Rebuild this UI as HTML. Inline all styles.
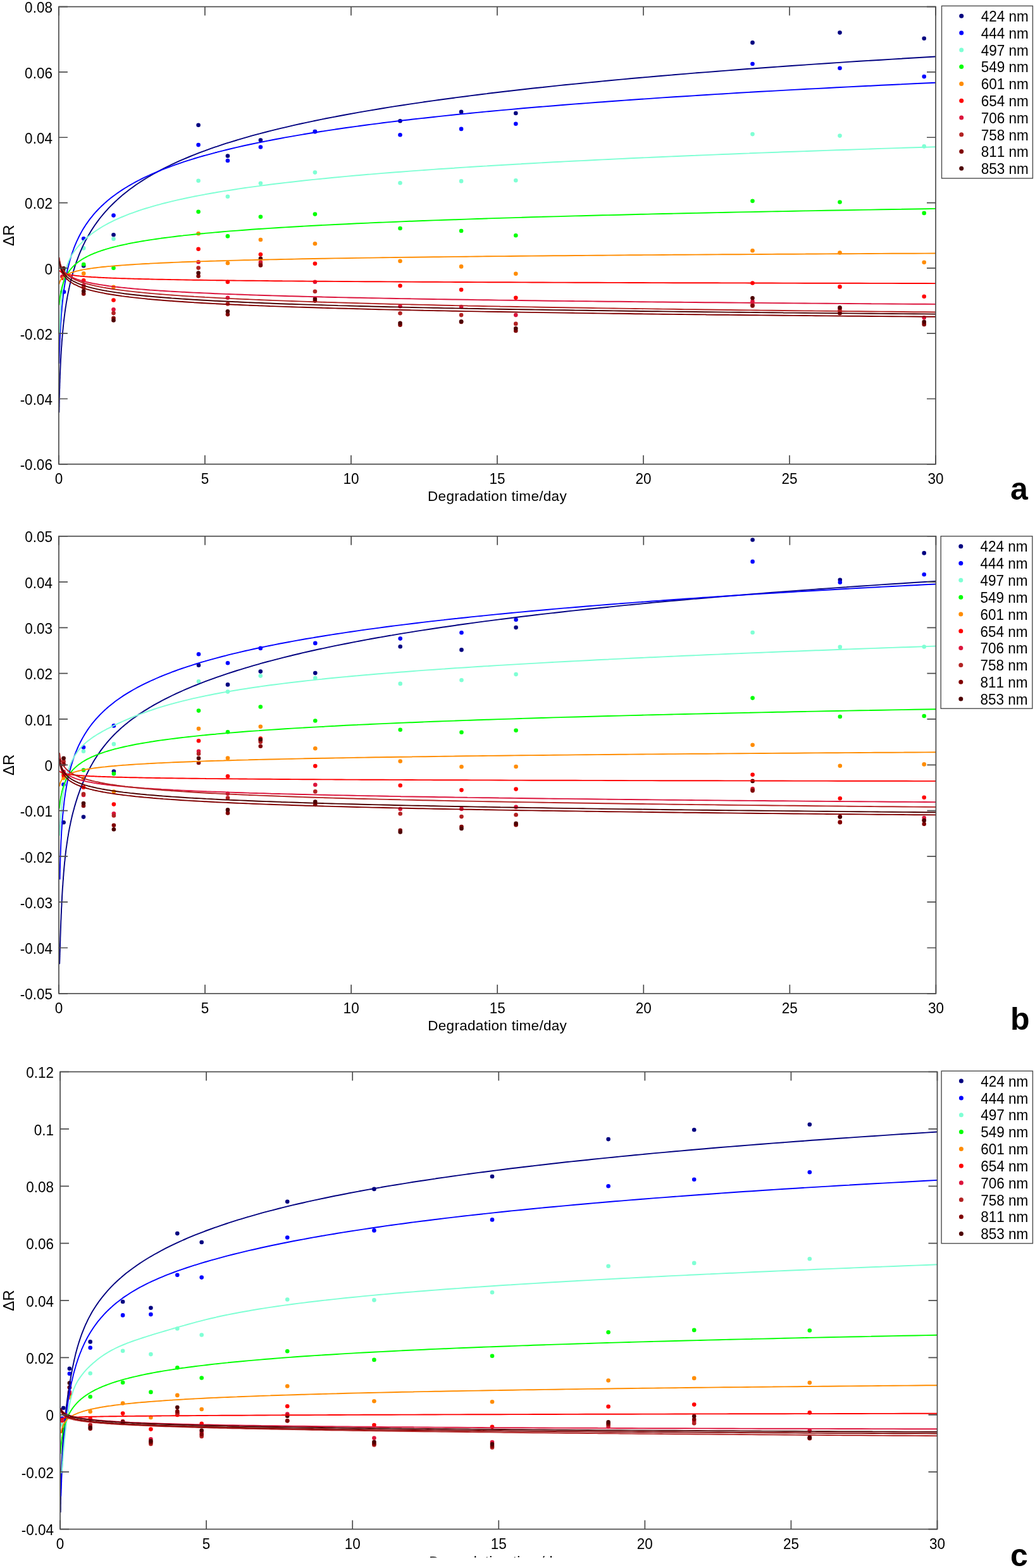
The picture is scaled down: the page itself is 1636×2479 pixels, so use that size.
<!DOCTYPE html><html><head><meta charset="utf-8"><title>Degradation</title><style>html,body{margin:0;padding:0;background:#fff}svg{display:block}text{font-kerning:none}</style></head><body>
<svg width="1636" height="2479" viewBox="0 0 1636 2479">
<rect width="1636" height="2479" fill="#fff"/>
<clipPath id="clipa"><rect x="92.9" y="10.6" width="1386.1" height="723.1999999999999"/></clipPath>
<g>
<circle cx="98.5" cy="461.5" r="3.3" fill="#000080"/>
<circle cx="132.2" cy="420.2" r="3.3" fill="#000080"/>
<circle cx="179.5" cy="371.2" r="3.3" fill="#000080"/>
<circle cx="313.6" cy="197.8" r="3.3" fill="#000080"/>
<circle cx="359.9" cy="246.5" r="3.3" fill="#000080"/>
<circle cx="411.9" cy="221.5" r="3.3" fill="#000080"/>
<circle cx="497.9" cy="208.1" r="3.3" fill="#000080"/>
<circle cx="632.5" cy="191.3" r="3.3" fill="#000080"/>
<circle cx="729.1" cy="176.9" r="3.3" fill="#000080"/>
<circle cx="815.3" cy="179.0" r="3.3" fill="#000080"/>
<circle cx="1189.5" cy="67.4" r="3.3" fill="#000080"/>
<circle cx="1327.5" cy="51.6" r="3.3" fill="#000080"/>
<circle cx="1460.7" cy="60.8" r="3.3" fill="#000080"/>
<circle cx="101.1" cy="461.5" r="3.3" fill="#0000ff"/>
<circle cx="132.2" cy="377.2" r="3.3" fill="#0000ff"/>
<circle cx="179.5" cy="340.6" r="3.3" fill="#0000ff"/>
<circle cx="313.6" cy="229.1" r="3.3" fill="#0000ff"/>
<circle cx="359.9" cy="254.0" r="3.3" fill="#0000ff"/>
<circle cx="411.9" cy="232.5" r="3.3" fill="#0000ff"/>
<circle cx="497.9" cy="208.1" r="3.3" fill="#0000ff"/>
<circle cx="632.5" cy="213.2" r="3.3" fill="#0000ff"/>
<circle cx="729.1" cy="203.9" r="3.3" fill="#0000ff"/>
<circle cx="815.3" cy="195.8" r="3.3" fill="#0000ff"/>
<circle cx="1189.5" cy="101.0" r="3.3" fill="#0000ff"/>
<circle cx="1327.5" cy="107.7" r="3.3" fill="#0000ff"/>
<circle cx="1460.7" cy="121.1" r="3.3" fill="#0000ff"/>
<circle cx="132.2" cy="392.4" r="3.3" fill="#7fffd4"/>
<circle cx="179.5" cy="377.7" r="3.3" fill="#7fffd4"/>
<circle cx="313.6" cy="285.7" r="3.3" fill="#7fffd4"/>
<circle cx="359.9" cy="310.8" r="3.3" fill="#7fffd4"/>
<circle cx="411.9" cy="289.7" r="3.3" fill="#7fffd4"/>
<circle cx="497.9" cy="272.6" r="3.3" fill="#7fffd4"/>
<circle cx="632.5" cy="289.3" r="3.3" fill="#7fffd4"/>
<circle cx="729.1" cy="286.4" r="3.3" fill="#7fffd4"/>
<circle cx="815.3" cy="285.2" r="3.3" fill="#7fffd4"/>
<circle cx="1189.5" cy="212.1" r="3.3" fill="#7fffd4"/>
<circle cx="1327.5" cy="214.6" r="3.3" fill="#7fffd4"/>
<circle cx="1460.7" cy="231.4" r="3.3" fill="#7fffd4"/>
<circle cx="132.2" cy="418.1" r="3.3" fill="#00ff00"/>
<circle cx="179.5" cy="423.8" r="3.3" fill="#00ff00"/>
<circle cx="313.6" cy="334.7" r="3.3" fill="#00ff00"/>
<circle cx="359.9" cy="373.4" r="3.3" fill="#00ff00"/>
<circle cx="411.9" cy="342.8" r="3.3" fill="#00ff00"/>
<circle cx="497.9" cy="338.6" r="3.3" fill="#00ff00"/>
<circle cx="632.5" cy="361.0" r="3.3" fill="#00ff00"/>
<circle cx="729.1" cy="365.0" r="3.3" fill="#00ff00"/>
<circle cx="815.3" cy="372.2" r="3.3" fill="#00ff00"/>
<circle cx="1189.5" cy="317.7" r="3.3" fill="#00ff00"/>
<circle cx="1327.5" cy="319.5" r="3.3" fill="#00ff00"/>
<circle cx="1460.7" cy="336.9" r="3.3" fill="#00ff00"/>
<circle cx="132.2" cy="432.4" r="3.3" fill="#ff8c00"/>
<circle cx="179.5" cy="453.8" r="3.3" fill="#ff8c00"/>
<circle cx="313.6" cy="369.2" r="3.3" fill="#ff8c00"/>
<circle cx="359.9" cy="416.0" r="3.3" fill="#ff8c00"/>
<circle cx="411.9" cy="379.0" r="3.3" fill="#ff8c00"/>
<circle cx="497.9" cy="385.2" r="3.3" fill="#ff8c00"/>
<circle cx="632.5" cy="412.7" r="3.3" fill="#ff8c00"/>
<circle cx="729.1" cy="421.4" r="3.3" fill="#ff8c00"/>
<circle cx="815.3" cy="432.8" r="3.3" fill="#ff8c00"/>
<circle cx="1189.5" cy="396.2" r="3.3" fill="#ff8c00"/>
<circle cx="1327.5" cy="399.5" r="3.3" fill="#ff8c00"/>
<circle cx="1460.7" cy="414.7" r="3.3" fill="#ff8c00"/>
<circle cx="99.8" cy="439.8" r="3.3" fill="#ff0000"/>
<circle cx="132.2" cy="443.3" r="3.3" fill="#ff0000"/>
<circle cx="179.5" cy="474.5" r="3.3" fill="#ff0000"/>
<circle cx="313.6" cy="393.8" r="3.3" fill="#ff0000"/>
<circle cx="359.9" cy="445.8" r="3.3" fill="#ff0000"/>
<circle cx="411.9" cy="402.2" r="3.3" fill="#ff0000"/>
<circle cx="497.9" cy="416.8" r="3.3" fill="#ff0000"/>
<circle cx="632.5" cy="451.8" r="3.3" fill="#ff0000"/>
<circle cx="729.1" cy="458.1" r="3.3" fill="#ff0000"/>
<circle cx="815.3" cy="470.7" r="3.3" fill="#ff0000"/>
<circle cx="1189.5" cy="447.5" r="3.3" fill="#ff0000"/>
<circle cx="1327.5" cy="453.4" r="3.3" fill="#ff0000"/>
<circle cx="1460.7" cy="468.7" r="3.3" fill="#ff0000"/>
<circle cx="98.3" cy="437.2" r="3.3" fill="#dc143c"/>
<circle cx="132.2" cy="451.3" r="3.3" fill="#dc143c"/>
<circle cx="179.5" cy="489.2" r="3.3" fill="#dc143c"/>
<circle cx="313.6" cy="414.3" r="3.3" fill="#dc143c"/>
<circle cx="359.9" cy="470.7" r="3.3" fill="#dc143c"/>
<circle cx="411.9" cy="414.6" r="3.3" fill="#dc143c"/>
<circle cx="497.9" cy="445.8" r="3.3" fill="#dc143c"/>
<circle cx="632.5" cy="484.3" r="3.3" fill="#dc143c"/>
<circle cx="729.1" cy="485.0" r="3.3" fill="#dc143c"/>
<circle cx="815.3" cy="498.1" r="3.3" fill="#dc143c"/>
<circle cx="1189.5" cy="476.6" r="3.3" fill="#dc143c"/>
<circle cx="1327.5" cy="489.0" r="3.3" fill="#dc143c"/>
<circle cx="1460.7" cy="502.3" r="3.3" fill="#dc143c"/>
<circle cx="100.0" cy="430.0" r="3.3" fill="#b22222"/>
<circle cx="132.2" cy="454.7" r="3.3" fill="#b22222"/>
<circle cx="179.5" cy="495.1" r="3.3" fill="#b22222"/>
<circle cx="313.6" cy="423.6" r="3.3" fill="#b22222"/>
<circle cx="359.9" cy="480.5" r="3.3" fill="#b22222"/>
<circle cx="411.9" cy="417.5" r="3.3" fill="#b22222"/>
<circle cx="497.9" cy="460.7" r="3.3" fill="#b22222"/>
<circle cx="632.5" cy="495.2" r="3.3" fill="#b22222"/>
<circle cx="729.1" cy="498.1" r="3.3" fill="#b22222"/>
<circle cx="815.3" cy="511.9" r="3.3" fill="#b22222"/>
<circle cx="1189.5" cy="482.0" r="3.3" fill="#b22222"/>
<circle cx="1327.5" cy="491.7" r="3.3" fill="#b22222"/>
<circle cx="1460.7" cy="511.0" r="3.3" fill="#b22222"/>
<circle cx="100.6" cy="426.5" r="3.3" fill="#800000"/>
<circle cx="132.2" cy="464.4" r="3.3" fill="#800000"/>
<circle cx="179.5" cy="503.1" r="3.3" fill="#800000"/>
<circle cx="313.6" cy="436.5" r="3.3" fill="#800000"/>
<circle cx="359.9" cy="497.1" r="3.3" fill="#800000"/>
<circle cx="411.9" cy="419.5" r="3.3" fill="#800000"/>
<circle cx="497.9" cy="475.6" r="3.3" fill="#800000"/>
<circle cx="632.5" cy="513.8" r="3.3" fill="#800000"/>
<circle cx="729.1" cy="509.0" r="3.3" fill="#800000"/>
<circle cx="815.3" cy="522.9" r="3.3" fill="#800000"/>
<circle cx="1189.5" cy="483.5" r="3.3" fill="#800000"/>
<circle cx="1327.5" cy="495.3" r="3.3" fill="#800000"/>
<circle cx="1460.7" cy="513.0" r="3.3" fill="#800000"/>
<circle cx="100.6" cy="424.3" r="3.3" fill="#4d0000"/>
<circle cx="132.2" cy="460.2" r="3.3" fill="#4d0000"/>
<circle cx="179.5" cy="506.5" r="3.3" fill="#4d0000"/>
<circle cx="313.6" cy="431.5" r="3.3" fill="#4d0000"/>
<circle cx="359.9" cy="492.3" r="3.3" fill="#4d0000"/>
<circle cx="411.9" cy="408.8" r="3.3" fill="#4d0000"/>
<circle cx="497.9" cy="472.6" r="3.3" fill="#4d0000"/>
<circle cx="632.5" cy="510.8" r="3.3" fill="#4d0000"/>
<circle cx="729.1" cy="508.2" r="3.3" fill="#4d0000"/>
<circle cx="815.3" cy="519.2" r="3.3" fill="#4d0000"/>
<circle cx="1189.5" cy="471.3" r="3.3" fill="#4d0000"/>
<circle cx="1327.5" cy="486.4" r="3.3" fill="#4d0000"/>
<circle cx="1460.7" cy="508.8" r="3.3" fill="#4d0000"/>
</g>
<g clip-path="url(#clipa)" fill="none" stroke-width="1.9" stroke-linejoin="round">
<path d="M93.4 652.2 L93.4 650.9 L93.4 649.7 L93.5 648.4 L93.5 647.0 L93.5 645.7 L93.5 644.3 L93.6 642.9 L93.6 641.5 L93.6 640.0 L93.6 638.5 L93.7 637.0 L93.7 635.4 L93.7 633.9 L93.8 632.3 L93.8 630.6 L93.8 629.0 L93.9 627.3 L93.9 625.6 L94.0 623.9 L94.0 622.1 L94.1 620.3 L94.1 618.5 L94.1 616.7 L94.2 614.8 L94.3 613.0 L94.3 611.1 L94.4 609.1 L94.4 607.2 L94.5 605.2 L94.6 603.2 L94.6 601.2 L94.7 599.2 L94.8 597.1 L94.8 595.0 L94.9 592.9 L95.0 590.8 L95.1 588.6 L95.2 586.4 L95.3 584.2 L95.4 582.0 L95.5 579.8 L95.6 577.5 L95.7 575.2 L95.8 572.9 L95.9 570.6 L96.0 568.2 L96.2 565.9 L96.3 563.5 L96.4 561.1 L96.6 558.7 L96.7 556.2 L96.9 553.8 L97.0 551.3 L97.2 548.8 L97.4 546.3 L97.6 543.7 L97.7 541.2 L97.9 538.6 L98.1 536.0 L98.4 533.4 L98.6 530.8 L98.8 528.2 L99.1 525.5 L99.3 522.8 L99.6 520.1 L99.8 517.4 L100.1 514.7 L100.4 512.0 L100.7 509.2 L101.0 506.4 L101.4 503.6 L101.7 500.8 L102.1 498.0 L102.4 495.2 L102.8 492.4 L103.2 489.5 L103.6 486.6 L104.1 483.7 L104.5 480.8 L105.0 477.9 L105.5 475.0 L106.0 472.0 L106.5 469.1 L107.1 466.1 L107.7 463.1 L108.3 460.2 L108.9 457.1 L109.6 454.1 L110.2 451.1 L110.9 448.1 L111.7 445.0 L112.4 442.0 L113.2 438.9 L114.0 435.8 L114.9 432.7 L115.8 429.6 L116.0 428.9 L116.7 426.5 L117.7 423.4 L118.7 420.2 L119.8 417.1 L120.8 413.9 L122.0 410.8 L123.2 407.6 L124.4 404.4 L125.7 401.2 L127.0 398.0 L128.4 394.8 L129.8 391.6 L131.3 388.4 L132.9 385.1 L133.3 384.4 L134.5 381.9 L136.2 378.6 L138.0 375.4 L139.8 372.1 L141.7 368.9 L143.7 365.6 L145.8 362.3 L147.9 359.0 L150.1 355.7 L150.5 355.2 L152.5 352.4 L154.9 349.1 L157.4 345.8 L160.0 342.5 L162.8 339.2 L165.6 335.9 L167.8 333.4 L168.6 332.6 L171.6 329.2 L174.8 325.9 L178.2 322.5 L181.6 319.2 L185.0 316.1 L185.2 315.9 L189.0 312.5 L192.9 309.1 L197.0 305.8 L201.2 302.4 L202.3 301.6 L205.6 299.1 L210.2 295.7 L214.9 292.3 L219.5 289.2 L219.9 289.0 L225.0 285.6 L230.4 282.2 L236.0 278.8 L236.8 278.4 L241.8 275.5 L247.9 272.1 L254.0 268.8 L254.2 268.7 L260.7 265.3 L267.5 262.0 L271.3 260.2 L274.6 258.6 L282.0 255.2 L288.5 252.3 L289.7 251.8 L297.7 248.5 L305.8 245.2 L306.0 245.1 L314.7 241.7 L323.0 238.6 L323.7 238.3 L333.1 234.9 L340.3 232.4 L342.9 231.6 L353.0 228.2 L357.5 226.7 L363.6 224.8 L374.6 221.5 L374.8 221.4 L386.0 218.1 L392.1 216.4 L397.9 214.7 L409.3 211.6 L410.3 211.4 L423.2 208.0 L426.6 207.2 L436.7 204.7 L443.8 202.9 L450.6 201.3 L461.1 198.9 L465.2 197.9 L478.3 195.0 L480.3 194.6 L495.6 191.4 L496.1 191.3 L512.4 187.9 L512.8 187.8 L529.5 184.6 L530.1 184.5 L547.2 181.2 L547.3 181.2 L564.6 178.1 L565.7 177.9 L581.8 175.1 L584.9 174.6 L599.1 172.2 L604.9 171.3 L616.3 169.4 L625.7 167.9 L633.6 166.7 L647.4 164.6 L650.8 164.1 L668.1 161.6 L669.9 161.3 L685.4 159.1 L693.4 158.0 L702.6 156.7 L717.8 154.7 L719.9 154.4 L737.1 152.2 L743.2 151.4 L754.4 150.0 L769.6 148.1 L771.6 147.8 L788.9 145.8 L797.1 144.8 L806.1 143.7 L823.4 141.8 L825.7 141.5 L840.6 139.8 L855.5 138.2 L857.9 138.0 L875.1 136.1 L886.5 134.9 L892.4 134.3 L909.6 132.6 L918.7 131.7 L926.9 130.9 L944.2 129.2 L952.3 128.4 L961.4 127.5 L978.7 125.9 L987.2 125.1 L995.9 124.3 L1013.2 122.8 L1023.6 121.9 L1030.4 121.3 L1047.7 119.8 L1061.4 118.6 L1064.9 118.3 L1082.2 116.9 L1099.4 115.4 L1100.7 115.3 L1116.7 114.1 L1133.9 112.7 L1141.7 112.1 L1151.2 111.4 L1168.4 110.0 L1184.3 108.8 L1185.7 108.7 L1202.9 107.5 L1220.2 106.2 L1228.7 105.6 L1237.5 105.0 L1254.7 103.8 L1272.0 102.6 L1274.8 102.4 L1289.2 101.4 L1306.5 100.2 L1322.9 99.1 L1323.7 99.1 L1341.0 97.9 L1358.2 96.8 L1372.9 95.9 L1375.5 95.7 L1392.7 94.7 L1410.0 93.6 L1424.9 92.7 L1427.2 92.5 L1444.5 91.5 L1461.7 90.5 L1479.0 89.5" stroke="#000080"/>
<path d="M93.4 574.7 L93.4 574.0 L93.4 573.2 L93.5 572.5 L93.5 571.7 L93.5 570.8 L93.5 570.0 L93.6 569.0 L93.6 568.1 L93.6 567.1 L93.6 566.1 L93.7 565.1 L93.7 564.0 L93.7 562.9 L93.8 561.8 L93.8 560.6 L93.8 559.4 L93.9 558.2 L93.9 556.9 L94.0 555.6 L94.0 554.3 L94.1 553.0 L94.1 551.6 L94.1 550.2 L94.2 548.8 L94.3 547.3 L94.3 545.8 L94.4 544.3 L94.4 542.7 L94.5 541.2 L94.6 539.6 L94.6 538.0 L94.7 536.3 L94.8 534.7 L94.8 533.0 L94.9 531.2 L95.0 529.5 L95.1 527.7 L95.2 525.9 L95.3 524.1 L95.4 522.3 L95.5 520.4 L95.6 518.6 L95.7 516.7 L95.8 514.8 L95.9 512.8 L96.0 510.9 L96.2 508.9 L96.3 506.9 L96.4 504.9 L96.6 502.8 L96.7 500.8 L96.9 498.7 L97.0 496.6 L97.2 494.5 L97.4 492.4 L97.6 490.2 L97.7 488.1 L97.9 485.9 L98.1 483.7 L98.4 481.5 L98.6 479.3 L98.8 477.1 L99.1 474.8 L99.3 472.6 L99.6 470.3 L99.8 468.0 L100.1 465.7 L100.4 463.4 L100.7 461.1 L101.0 458.7 L101.4 456.4 L101.7 454.0 L102.1 451.7 L102.4 449.3 L102.8 446.9 L103.2 444.5 L103.6 442.1 L104.1 439.7 L104.5 437.3 L105.0 434.9 L105.5 432.4 L106.0 430.0 L106.5 427.5 L107.1 425.1 L107.7 422.6 L108.3 420.2 L108.9 417.7 L109.6 415.2 L110.2 412.7 L110.9 410.3 L111.7 407.8 L112.4 405.3 L113.2 402.8 L114.0 400.3 L114.9 397.8 L115.8 395.3 L116.0 394.7 L116.7 392.7 L117.7 390.2 L118.7 387.7 L119.8 385.2 L120.8 382.7 L122.0 380.1 L123.2 377.6 L124.4 375.0 L125.7 372.5 L127.0 370.0 L128.4 367.4 L129.8 364.9 L131.3 362.3 L132.9 359.7 L133.3 359.2 L134.5 357.2 L136.2 354.6 L138.0 352.1 L139.8 349.5 L141.7 346.9 L143.7 344.3 L145.8 341.8 L147.9 339.2 L150.1 336.6 L150.5 336.2 L152.5 334.0 L154.9 331.5 L157.4 328.9 L160.0 326.3 L162.8 323.7 L165.6 321.1 L167.8 319.2 L168.6 318.5 L171.6 315.9 L174.8 313.3 L178.2 310.7 L181.6 308.2 L185.0 305.7 L185.2 305.6 L189.0 303.0 L192.9 300.4 L197.0 297.8 L201.2 295.2 L202.3 294.5 L205.6 292.6 L210.2 290.0 L214.9 287.4 L219.5 285.0 L219.9 284.8 L225.0 282.2 L230.4 279.6 L236.0 277.0 L236.8 276.6 L241.8 274.4 L247.9 271.8 L254.0 269.3 L254.2 269.2 L260.7 266.6 L267.5 264.0 L271.3 262.6 L274.6 261.4 L282.0 258.8 L288.5 256.6 L289.7 256.2 L297.7 253.6 L305.8 251.1 L306.0 251.0 L314.7 248.4 L323.0 246.0 L323.7 245.8 L333.1 243.3 L340.3 241.3 L342.9 240.7 L353.0 238.1 L357.5 237.0 L363.6 235.5 L374.6 232.9 L374.8 232.9 L386.0 230.3 L392.1 229.0 L397.9 227.8 L409.3 225.4 L410.3 225.2 L423.2 222.6 L426.6 222.0 L436.7 220.0 L443.8 218.7 L450.6 217.4 L461.1 215.6 L465.2 214.9 L478.3 212.6 L480.3 212.3 L495.6 209.8 L496.1 209.7 L512.4 207.2 L512.8 207.1 L529.5 204.6 L530.1 204.5 L547.2 202.0 L547.3 202.0 L564.6 199.6 L565.7 199.5 L581.8 197.3 L584.9 196.9 L599.1 195.1 L604.9 194.3 L616.3 192.9 L625.7 191.8 L633.6 190.8 L647.4 189.2 L650.8 188.8 L668.1 186.9 L669.9 186.7 L685.4 185.0 L693.4 184.1 L702.6 183.1 L717.8 181.5 L719.9 181.3 L737.1 179.6 L743.2 179.0 L754.4 177.9 L769.6 176.4 L771.6 176.2 L788.9 174.6 L797.1 173.9 L806.1 173.1 L823.4 171.5 L825.7 171.3 L840.6 170.0 L855.5 168.8 L857.9 168.6 L875.1 167.2 L886.5 166.2 L892.4 165.8 L909.6 164.4 L918.7 163.7 L926.9 163.1 L944.2 161.8 L952.3 161.2 L961.4 160.5 L978.7 159.2 L987.2 158.6 L995.9 158.0 L1013.2 156.8 L1023.6 156.1 L1030.4 155.6 L1047.7 154.4 L1061.4 153.5 L1064.9 153.3 L1082.2 152.2 L1099.4 151.1 L1100.7 151.0 L1116.7 150.0 L1133.9 148.9 L1141.7 148.5 L1151.2 147.9 L1168.4 146.8 L1184.3 145.9 L1185.7 145.8 L1202.9 144.8 L1220.2 143.9 L1228.7 143.4 L1237.5 142.9 L1254.7 141.9 L1272.0 141.0 L1274.8 140.8 L1289.2 140.1 L1306.5 139.2 L1322.9 138.3 L1323.7 138.3 L1341.0 137.4 L1358.2 136.5 L1372.9 135.8 L1375.5 135.7 L1392.7 134.8 L1410.0 134.0 L1424.9 133.3 L1427.2 133.1 L1444.5 132.3 L1461.7 131.5 L1479.0 130.7" stroke="#0000ff"/>
<path d="M93.4 520.8 L93.4 521.8 L93.4 522.6 L93.5 523.4 L93.5 524.1 L93.5 524.6 L93.5 525.1 L93.6 525.5 L93.6 525.8 L93.6 526.0 L93.6 526.2 L93.7 526.2 L93.7 526.2 L93.7 526.1 L93.8 525.9 L93.8 525.7 L93.8 525.3 L93.9 524.9 L93.9 524.4 L94.0 523.9 L94.0 523.3 L94.1 522.6 L94.1 521.9 L94.1 521.1 L94.2 520.2 L94.3 519.3 L94.3 518.3 L94.4 517.2 L94.4 516.1 L94.5 515.0 L94.6 513.8 L94.6 512.6 L94.7 511.3 L94.8 509.9 L94.8 508.5 L94.9 507.1 L95.0 505.6 L95.1 504.1 L95.2 502.5 L95.3 500.9 L95.4 499.3 L95.5 497.7 L95.6 496.0 L95.7 494.2 L95.8 492.5 L95.9 490.7 L96.0 488.9 L96.2 487.1 L96.3 485.2 L96.4 483.3 L96.6 481.5 L96.7 479.5 L96.9 477.6 L97.0 475.7 L97.2 473.7 L97.4 471.8 L97.6 469.8 L97.7 467.8 L97.9 465.8 L98.1 463.8 L98.4 461.8 L98.6 459.8 L98.8 457.8 L99.1 455.8 L99.3 453.8 L99.6 451.8 L99.8 449.8 L100.1 447.9 L100.4 445.9 L100.7 443.9 L101.0 442.0 L101.4 440.1 L101.7 438.1 L102.1 436.2 L102.4 434.4 L102.8 432.5 L103.2 430.7 L103.6 428.9 L104.1 427.1 L104.5 425.3 L105.0 423.6 L105.5 421.9 L106.0 420.2 L106.5 418.6 L107.1 417.0 L107.7 415.4 L108.3 413.9 L108.9 412.4 L109.6 410.9 L110.2 409.5 L110.9 408.1 L111.7 406.6 L112.4 405.2 L113.2 403.9 L114.0 402.5 L114.9 401.1 L115.8 399.8 L116.0 399.5 L116.7 398.4 L117.7 397.0 L118.7 395.7 L119.8 394.3 L120.8 392.9 L122.0 391.5 L123.2 390.1 L124.4 388.7 L125.7 387.2 L127.0 385.8 L128.4 384.3 L129.8 382.8 L131.3 381.4 L132.9 379.9 L133.3 379.5 L134.5 378.4 L136.2 376.8 L138.0 375.3 L139.8 373.8 L141.7 372.2 L143.7 370.6 L145.8 369.1 L147.9 367.5 L150.1 365.9 L150.5 365.7 L152.5 364.3 L154.9 362.7 L157.4 361.1 L160.0 359.5 L162.8 357.8 L165.6 356.2 L167.8 355.0 L168.6 354.6 L171.6 352.9 L174.8 351.3 L178.2 349.6 L181.6 348.0 L185.0 346.4 L185.2 346.3 L189.0 344.6 L192.9 343.0 L197.0 341.3 L201.2 339.6 L202.3 339.2 L205.6 337.9 L210.2 336.3 L214.9 334.6 L219.5 333.0 L219.9 332.9 L225.0 331.2 L230.4 329.5 L236.0 327.8 L236.8 327.6 L241.8 326.1 L247.9 324.4 L254.0 322.8 L254.2 322.7 L260.7 321.0 L267.5 319.3 L271.3 318.4 L274.6 317.6 L282.0 315.9 L288.5 314.5 L289.7 314.2 L297.7 312.5 L305.8 310.9 L306.0 310.8 L314.7 309.1 L323.0 307.6 L323.7 307.4 L333.1 305.7 L340.3 304.5 L342.9 304.0 L353.0 302.4 L357.5 301.6 L363.6 300.7 L374.6 299.0 L374.8 298.9 L386.0 297.3 L392.1 296.4 L397.9 295.6 L409.3 294.1 L410.3 293.9 L423.2 292.2 L426.6 291.8 L436.7 290.5 L443.8 289.7 L450.6 288.9 L461.1 287.7 L465.2 287.2 L478.3 285.7 L480.3 285.5 L495.6 283.9 L496.1 283.9 L512.4 282.2 L512.8 282.2 L529.5 280.5 L530.1 280.5 L547.2 278.9 L547.3 278.9 L564.6 277.3 L565.7 277.2 L581.8 275.8 L584.9 275.6 L599.1 274.4 L604.9 273.9 L616.3 273.0 L625.7 272.3 L633.6 271.7 L647.4 270.6 L650.8 270.4 L668.1 269.1 L669.9 269.0 L685.4 267.9 L693.4 267.3 L702.6 266.7 L717.8 265.7 L719.9 265.5 L737.1 264.4 L743.2 264.0 L754.4 263.3 L769.6 262.4 L771.6 262.2 L788.9 261.2 L797.1 260.7 L806.1 260.2 L823.4 259.2 L825.7 259.0 L840.6 258.2 L855.5 257.4 L857.9 257.3 L875.1 256.3 L886.5 255.7 L892.4 255.4 L909.6 254.5 L918.7 254.1 L926.9 253.7 L944.2 252.8 L952.3 252.4 L961.4 252.0 L978.7 251.1 L987.2 250.7 L995.9 250.3 L1013.2 249.5 L1023.6 249.1 L1030.4 248.8 L1047.7 248.0 L1061.4 247.4 L1064.9 247.3 L1082.2 246.5 L1099.4 245.8 L1100.7 245.7 L1116.7 245.1 L1133.9 244.4 L1141.7 244.0 L1151.2 243.7 L1168.4 243.0 L1184.3 242.4 L1185.7 242.3 L1202.9 241.6 L1220.2 241.0 L1228.7 240.7 L1237.5 240.3 L1254.7 239.7 L1272.0 239.1 L1274.8 239.0 L1289.2 238.5 L1306.5 237.9 L1322.9 237.3 L1323.7 237.3 L1341.0 236.7 L1358.2 236.1 L1372.9 235.6 L1375.5 235.5 L1392.7 234.9 L1410.0 234.4 L1424.9 233.9 L1427.2 233.8 L1444.5 233.2 L1461.7 232.7 L1479.0 232.2" stroke="#7fffd4"/>
<path d="M93.4 482.3 L93.4 482.1 L93.4 482.0 L93.5 481.9 L93.5 481.7 L93.5 481.5 L93.5 481.3 L93.6 481.1 L93.6 480.9 L93.6 480.7 L93.6 480.4 L93.7 480.2 L93.7 479.9 L93.7 479.6 L93.8 479.3 L93.8 478.9 L93.8 478.6 L93.9 478.3 L93.9 477.9 L94.0 477.5 L94.0 477.1 L94.1 476.7 L94.1 476.3 L94.1 475.9 L94.2 475.4 L94.3 475.0 L94.3 474.5 L94.4 474.0 L94.4 473.5 L94.5 473.0 L94.6 472.5 L94.6 472.0 L94.7 471.4 L94.8 470.9 L94.8 470.3 L94.9 469.8 L95.0 469.2 L95.1 468.6 L95.2 468.0 L95.3 467.4 L95.4 466.8 L95.5 466.1 L95.6 465.5 L95.7 464.8 L95.8 464.2 L95.9 463.5 L96.0 462.8 L96.2 462.1 L96.3 461.5 L96.4 460.7 L96.6 460.0 L96.7 459.3 L96.9 458.6 L97.0 457.8 L97.2 457.1 L97.4 456.4 L97.6 455.6 L97.7 454.8 L97.9 454.1 L98.1 453.3 L98.4 452.5 L98.6 451.7 L98.8 450.9 L99.1 450.1 L99.3 449.3 L99.6 448.5 L99.8 447.6 L100.1 446.8 L100.4 446.0 L100.7 445.1 L101.0 444.3 L101.4 443.4 L101.7 442.6 L102.1 441.7 L102.4 440.9 L102.8 440.0 L103.2 439.1 L103.6 438.3 L104.1 437.4 L104.5 436.5 L105.0 435.6 L105.5 434.7 L106.0 433.8 L106.5 432.9 L107.1 432.0 L107.7 431.1 L108.3 430.2 L108.9 429.3 L109.6 428.4 L110.2 427.5 L110.9 426.6 L111.7 425.7 L112.4 424.8 L113.2 423.8 L114.0 422.9 L114.9 422.0 L115.8 421.1 L116.0 420.9 L116.7 420.2 L117.7 419.2 L118.7 418.3 L119.8 417.4 L120.8 416.5 L122.0 415.5 L123.2 414.6 L124.4 413.7 L125.7 412.8 L127.0 411.9 L128.4 410.9 L129.8 410.0 L131.3 409.1 L132.9 408.2 L133.3 408.0 L134.5 407.3 L136.2 406.4 L138.0 405.5 L139.8 404.5 L141.7 403.6 L143.7 402.7 L145.8 401.8 L147.9 400.9 L150.1 400.0 L150.5 399.9 L152.5 399.1 L154.9 398.2 L157.4 397.3 L160.0 396.4 L162.8 395.5 L165.6 394.6 L167.8 393.9 L168.6 393.7 L171.6 392.8 L174.8 391.9 L178.2 391.0 L181.6 390.1 L185.0 389.3 L185.2 389.2 L189.0 388.3 L192.9 387.5 L197.0 386.6 L201.2 385.7 L202.3 385.4 L205.6 384.8 L210.2 383.9 L214.9 383.0 L219.5 382.2 L219.9 382.1 L225.0 381.2 L230.4 380.4 L236.0 379.5 L236.8 379.4 L241.8 378.6 L247.9 377.7 L254.0 376.9 L254.2 376.8 L260.7 376.0 L267.5 375.1 L271.3 374.6 L274.6 374.2 L282.0 373.3 L288.5 372.6 L289.7 372.4 L297.7 371.6 L305.8 370.7 L306.0 370.7 L314.7 369.8 L323.0 369.0 L323.7 368.9 L333.1 368.1 L340.3 367.4 L342.9 367.2 L353.0 366.3 L357.5 365.9 L363.6 365.4 L374.6 364.6 L374.8 364.6 L386.0 363.7 L392.1 363.3 L397.9 362.8 L409.3 362.0 L410.3 362.0 L423.2 361.1 L426.6 360.9 L436.7 360.2 L443.8 359.8 L450.6 359.4 L461.1 358.7 L465.2 358.5 L478.3 357.7 L480.3 357.6 L495.6 356.8 L496.1 356.8 L512.4 355.9 L512.8 355.9 L529.5 355.0 L530.1 355.0 L547.2 354.2 L547.3 354.2 L564.6 353.3 L565.7 353.3 L581.8 352.6 L584.9 352.4 L599.1 351.8 L604.9 351.6 L616.3 351.1 L625.7 350.7 L633.6 350.4 L647.4 349.8 L650.8 349.7 L668.1 349.0 L669.9 349.0 L685.4 348.4 L693.4 348.1 L702.6 347.8 L717.8 347.2 L719.9 347.2 L737.1 346.6 L743.2 346.4 L754.4 346.0 L769.6 345.5 L771.6 345.4 L788.9 344.9 L797.1 344.6 L806.1 344.4 L823.4 343.9 L825.7 343.8 L840.6 343.3 L855.5 342.9 L857.9 342.8 L875.1 342.4 L886.5 342.1 L892.4 341.9 L909.6 341.4 L918.7 341.2 L926.9 341.0 L944.2 340.5 L952.3 340.3 L961.4 340.1 L978.7 339.7 L987.2 339.5 L995.9 339.2 L1013.2 338.8 L1023.6 338.6 L1030.4 338.4 L1047.7 338.0 L1061.4 337.7 L1064.9 337.6 L1082.2 337.3 L1099.4 336.9 L1100.7 336.9 L1116.7 336.5 L1133.9 336.1 L1141.7 336.0 L1151.2 335.8 L1168.4 335.4 L1184.3 335.1 L1185.7 335.1 L1202.9 334.8 L1220.2 334.4 L1228.7 334.3 L1237.5 334.1 L1254.7 333.8 L1272.0 333.4 L1274.8 333.4 L1289.2 333.1 L1306.5 332.8 L1322.9 332.5 L1323.7 332.5 L1341.0 332.2 L1358.2 331.9 L1372.9 331.6 L1375.5 331.6 L1392.7 331.3 L1410.0 331.0 L1424.9 330.8 L1427.2 330.7 L1444.5 330.5 L1461.7 330.2 L1479.0 329.9" stroke="#00ff00"/>
<path d="M93.4 449.3 L93.4 449.2 L93.4 449.2 L93.5 449.1 L93.5 449.0 L93.5 448.9 L93.5 448.8 L93.6 448.7 L93.6 448.5 L93.6 448.4 L93.6 448.3 L93.7 448.2 L93.7 448.1 L93.7 448.0 L93.8 447.8 L93.8 447.7 L93.8 447.6 L93.9 447.4 L93.9 447.3 L94.0 447.2 L94.0 447.0 L94.1 446.9 L94.1 446.7 L94.1 446.6 L94.2 446.4 L94.3 446.3 L94.3 446.1 L94.4 445.9 L94.4 445.8 L94.5 445.6 L94.6 445.4 L94.6 445.3 L94.7 445.1 L94.8 444.9 L94.8 444.7 L94.9 444.6 L95.0 444.4 L95.1 444.2 L95.2 444.0 L95.3 443.8 L95.4 443.6 L95.5 443.4 L95.6 443.2 L95.7 443.0 L95.8 442.8 L95.9 442.6 L96.0 442.4 L96.2 442.2 L96.3 442.0 L96.4 441.8 L96.6 441.6 L96.7 441.4 L96.9 441.2 L97.0 441.0 L97.2 440.7 L97.4 440.5 L97.6 440.3 L97.7 440.1 L97.9 439.8 L98.1 439.6 L98.4 439.4 L98.6 439.2 L98.8 438.9 L99.1 438.7 L99.3 438.5 L99.6 438.2 L99.8 438.0 L100.1 437.7 L100.4 437.5 L100.7 437.2 L101.0 437.0 L101.4 436.8 L101.7 436.5 L102.1 436.3 L102.4 436.0 L102.8 435.7 L103.2 435.5 L103.6 435.2 L104.1 435.0 L104.5 434.7 L105.0 434.5 L105.5 434.2 L106.0 433.9 L106.5 433.7 L107.1 433.4 L107.7 433.1 L108.3 432.9 L108.9 432.6 L109.6 432.3 L110.2 432.1 L110.9 431.8 L111.7 431.5 L112.4 431.2 L113.2 431.0 L114.0 430.7 L114.9 430.4 L115.8 430.1 L116.0 430.1 L116.7 429.9 L117.7 429.6 L118.7 429.3 L119.8 429.0 L120.8 428.7 L122.0 428.4 L123.2 428.2 L124.4 427.9 L125.7 427.6 L127.0 427.3 L128.4 427.0 L129.8 426.7 L131.3 426.4 L132.9 426.1 L133.3 426.1 L134.5 425.9 L136.2 425.6 L138.0 425.3 L139.8 425.0 L141.7 424.7 L143.7 424.4 L145.8 424.1 L147.9 423.8 L150.1 423.5 L150.5 423.5 L152.5 423.2 L154.9 422.9 L157.4 422.6 L160.0 422.3 L162.8 422.0 L165.6 421.7 L167.8 421.5 L168.6 421.4 L171.6 421.1 L174.8 420.9 L178.2 420.6 L181.6 420.3 L185.0 420.0 L185.2 420.0 L189.0 419.7 L192.9 419.4 L197.0 419.1 L201.2 418.8 L202.3 418.7 L205.6 418.5 L210.2 418.2 L214.9 417.9 L219.5 417.6 L219.9 417.6 L225.0 417.3 L230.4 417.0 L236.0 416.7 L236.8 416.6 L241.8 416.4 L247.9 416.1 L254.0 415.8 L254.2 415.8 L260.7 415.5 L267.5 415.2 L271.3 415.0 L274.6 414.9 L282.0 414.6 L288.5 414.3 L289.7 414.3 L297.7 414.0 L305.8 413.7 L306.0 413.7 L314.7 413.4 L323.0 413.1 L323.7 413.1 L333.1 412.8 L340.3 412.6 L342.9 412.5 L353.0 412.2 L357.5 412.1 L363.6 411.9 L374.6 411.6 L374.8 411.6 L386.0 411.3 L392.1 411.2 L397.9 411.1 L409.3 410.8 L410.3 410.8 L423.2 410.5 L426.6 410.4 L436.7 410.2 L443.8 410.0 L450.6 409.9 L461.1 409.7 L465.2 409.6 L478.3 409.3 L480.3 409.3 L495.6 409.0 L496.1 409.0 L512.4 408.7 L512.8 408.7 L529.5 408.4 L530.1 408.4 L547.2 408.2 L547.3 408.2 L564.6 407.9 L565.7 407.9 L581.8 407.6 L584.9 407.6 L599.1 407.4 L604.9 407.3 L616.3 407.1 L625.7 407.0 L633.6 406.9 L647.4 406.7 L650.8 406.7 L668.1 406.5 L669.9 406.5 L685.4 406.3 L693.4 406.2 L702.6 406.1 L717.8 405.9 L719.9 405.9 L737.1 405.7 L743.2 405.6 L754.4 405.5 L769.6 405.3 L771.6 405.3 L788.9 405.1 L797.1 405.1 L806.1 405.0 L823.4 404.8 L825.7 404.8 L840.6 404.6 L855.5 404.5 L857.9 404.5 L875.1 404.3 L886.5 404.2 L892.4 404.2 L909.6 404.0 L918.7 404.0 L926.9 403.9 L944.2 403.7 L952.3 403.7 L961.4 403.6 L978.7 403.5 L987.2 403.4 L995.9 403.3 L1013.2 403.2 L1023.6 403.1 L1030.4 403.1 L1047.7 403.0 L1061.4 402.9 L1064.9 402.8 L1082.2 402.7 L1099.4 402.6 L1100.7 402.6 L1116.7 402.5 L1133.9 402.4 L1141.7 402.3 L1151.2 402.3 L1168.4 402.2 L1184.3 402.1 L1185.7 402.1 L1202.9 402.0 L1220.2 401.9 L1228.7 401.8 L1237.5 401.8 L1254.7 401.7 L1272.0 401.6 L1274.8 401.5 L1289.2 401.5 L1306.5 401.4 L1322.9 401.3 L1323.7 401.3 L1341.0 401.2 L1358.2 401.1 L1372.9 401.0 L1375.5 401.0 L1392.7 400.9 L1410.0 400.8 L1424.9 400.8 L1427.2 400.8 L1444.5 400.7 L1461.7 400.6 L1479.0 400.5" stroke="#ff8c00"/>
<path d="M94.2 427.9 L94.2 428.0 L94.3 428.0 L94.3 428.1 L94.4 428.1 L94.4 428.2 L94.5 428.3 L94.6 428.3 L94.6 428.4 L94.7 428.5 L94.7 428.5 L94.8 428.6 L94.9 428.7 L94.9 428.7 L95.0 428.8 L95.1 428.9 L95.2 429.0 L95.3 429.0 L95.3 429.1 L95.4 429.2 L95.5 429.3 L95.6 429.3 L95.7 429.4 L95.8 429.5 L95.9 429.6 L96.0 429.7 L96.1 429.7 L96.2 429.8 L96.4 429.9 L96.5 430.0 L96.6 430.1 L96.8 430.2 L96.9 430.2 L97.0 430.3 L97.2 430.4 L97.3 430.5 L97.5 430.6 L97.7 430.7 L97.8 430.8 L98.0 430.9 L98.2 431.0 L98.4 431.0 L98.6 431.1 L98.8 431.2 L99.0 431.3 L99.2 431.4 L99.4 431.5 L99.6 431.6 L99.9 431.7 L100.1 431.8 L100.4 431.9 L100.7 432.0 L100.9 432.1 L101.2 432.2 L101.5 432.3 L101.8 432.4 L102.1 432.5 L102.5 432.6 L102.8 432.7 L103.2 432.8 L103.5 432.9 L103.9 433.0 L104.3 433.1 L104.7 433.2 L105.1 433.3 L105.6 433.4 L106.0 433.6 L106.5 433.7 L107.0 433.8 L107.5 433.9 L108.0 434.0 L108.5 434.1 L109.1 434.2 L109.7 434.3 L110.3 434.4 L110.9 434.5 L111.5 434.6 L112.2 434.8 L112.9 434.9 L113.6 435.0 L114.3 435.1 L115.1 435.2 L115.9 435.3 L116.0 435.3 L116.7 435.4 L117.6 435.5 L118.4 435.7 L119.4 435.8 L120.3 435.9 L121.3 436.0 L122.3 436.1 L123.3 436.2 L124.4 436.3 L125.5 436.4 L126.7 436.6 L127.9 436.7 L129.2 436.8 L130.5 436.9 L131.8 437.0 L133.2 437.1 L133.3 437.1 L134.6 437.3 L136.1 437.4 L137.6 437.5 L139.2 437.6 L140.9 437.7 L142.6 437.8 L144.4 438.0 L146.2 438.1 L148.1 438.2 L150.1 438.3 L150.5 438.3 L152.1 438.4 L154.2 438.5 L156.4 438.7 L158.7 438.8 L161.0 438.9 L163.4 439.0 L166.0 439.1 L167.8 439.2 L168.6 439.2 L171.3 439.4 L174.1 439.5 L177.0 439.6 L180.0 439.7 L183.1 439.8 L185.0 439.9 L186.3 439.9 L189.6 440.1 L193.0 440.2 L196.6 440.3 L200.3 440.4 L202.3 440.5 L204.1 440.5 L208.1 440.6 L212.2 440.8 L216.5 440.9 L219.5 441.0 L220.9 441.0 L225.4 441.1 L230.2 441.2 L235.1 441.3 L236.8 441.4 L240.1 441.5 L245.4 441.6 L250.8 441.7 L254.0 441.8 L256.5 441.8 L262.3 441.9 L268.3 442.0 L271.3 442.1 L274.6 442.1 L281.1 442.3 L287.8 442.4 L288.5 442.4 L294.7 442.5 L301.9 442.6 L305.8 442.7 L309.4 442.7 L317.1 442.8 L323.0 442.9 L325.1 442.9 L333.4 443.1 L340.3 443.1 L341.9 443.2 L350.8 443.3 L357.5 443.4 L360.0 443.4 L369.5 443.5 L374.8 443.6 L379.4 443.6 L389.6 443.7 L392.1 443.7 L400.2 443.8 L409.3 443.9 L411.1 443.9 L422.5 444.0 L426.6 444.1 L434.2 444.2 L443.8 444.2 L446.4 444.3 L459.0 444.4 L461.1 444.4 L472.1 444.5 L478.3 444.5 L485.6 444.6 L495.6 444.7 L499.6 444.7 L512.8 444.8 L514.1 444.8 L529.1 444.9 L530.1 444.9 L544.7 445.0 L547.3 445.0 L560.8 445.1 L564.6 445.1 L577.4 445.2 L581.8 445.2 L594.7 445.3 L599.1 445.3 L612.6 445.4 L616.3 445.4 L631.1 445.5 L633.6 445.5 L650.3 445.6 L650.8 445.6 L668.1 445.7 L670.2 445.7 L685.4 445.8 L690.8 445.8 L702.6 445.9 L712.1 445.9 L719.9 446.0 L734.2 446.0 L737.1 446.0 L754.4 446.1 L757.1 446.1 L771.6 446.2 L780.7 446.2 L788.9 446.3 L805.3 446.3 L806.1 446.3 L823.4 446.4 L830.7 446.4 L840.6 446.5 L857.0 446.5 L857.9 446.5 L875.1 446.6 L884.2 446.6 L892.4 446.6 L909.6 446.7 L912.4 446.7 L926.9 446.8 L941.7 446.8 L944.2 446.8 L961.4 446.9 L971.9 446.9 L978.7 446.9 L995.9 447.0 L1003.3 447.0 L1013.2 447.0 L1030.4 447.1 L1035.7 447.1 L1047.7 447.1 L1064.9 447.2 L1069.3 447.2 L1082.2 447.2 L1099.4 447.2 L1104.1 447.3 L1116.7 447.3 L1133.9 447.3 L1140.2 447.4 L1151.2 447.4 L1168.4 447.4 L1177.5 447.4 L1185.7 447.5 L1202.9 447.5 L1216.2 447.5 L1220.2 447.5 L1237.5 447.6 L1254.7 447.6 L1256.3 447.6 L1272.0 447.7 L1289.2 447.7 L1297.8 447.7 L1306.5 447.7 L1323.7 447.8 L1340.7 447.8 L1341.0 447.8 L1358.2 447.8 L1375.5 447.9 L1385.2 447.9 L1392.7 447.9 L1410.0 447.9 L1427.2 448.0 L1431.3 448.0 L1444.5 448.0 L1461.7 448.0 L1479.0 448.1" stroke="#ff0000"/>
<path d="M93.6 410.0 L93.6 410.2 L93.7 410.4 L93.7 410.6 L93.7 410.9 L93.7 411.1 L93.8 411.3 L93.8 411.5 L93.8 411.8 L93.9 412.0 L93.9 412.2 L94.0 412.5 L94.0 412.7 L94.0 413.0 L94.1 413.2 L94.1 413.5 L94.2 413.7 L94.2 414.0 L94.3 414.2 L94.3 414.5 L94.4 414.8 L94.5 415.0 L94.5 415.3 L94.6 415.6 L94.6 415.9 L94.7 416.1 L94.8 416.4 L94.9 416.7 L94.9 417.0 L95.0 417.3 L95.1 417.6 L95.2 417.9 L95.3 418.2 L95.4 418.5 L95.5 418.8 L95.6 419.1 L95.7 419.4 L95.8 419.7 L95.9 420.0 L96.0 420.3 L96.1 420.6 L96.2 420.9 L96.4 421.3 L96.5 421.6 L96.6 421.9 L96.8 422.2 L96.9 422.6 L97.1 422.9 L97.3 423.2 L97.4 423.5 L97.6 423.9 L97.8 424.2 L98.0 424.6 L98.2 424.9 L98.4 425.2 L98.6 425.6 L98.8 425.9 L99.1 426.3 L99.3 426.6 L99.5 427.0 L99.8 427.3 L100.1 427.7 L100.4 428.0 L100.6 428.4 L100.9 428.7 L101.3 429.1 L101.6 429.5 L101.9 429.8 L102.3 430.2 L102.6 430.6 L103.0 430.9 L103.4 431.3 L103.8 431.7 L104.2 432.0 L104.7 432.4 L105.1 432.8 L105.6 433.2 L106.1 433.5 L106.6 433.9 L107.2 434.3 L107.7 434.7 L108.3 435.1 L108.9 435.4 L109.5 435.8 L110.1 436.2 L110.8 436.6 L111.5 437.0 L112.2 437.4 L113.0 437.7 L113.8 438.1 L114.6 438.5 L115.4 438.9 L116.0 439.2 L116.3 439.3 L117.2 439.7 L118.2 440.1 L119.1 440.5 L120.2 440.9 L121.2 441.3 L122.3 441.7 L123.5 442.1 L124.6 442.5 L125.9 442.9 L127.2 443.3 L128.5 443.7 L129.9 444.1 L131.3 444.5 L132.8 444.9 L133.3 445.0 L134.4 445.3 L136.0 445.7 L137.7 446.1 L139.4 446.5 L141.2 446.9 L143.1 447.3 L145.0 447.7 L147.1 448.1 L149.2 448.5 L150.5 448.8 L151.4 448.9 L153.6 449.3 L156.0 449.7 L158.4 450.1 L161.0 450.5 L163.6 450.9 L166.4 451.3 L167.8 451.5 L169.2 451.7 L172.2 452.2 L175.3 452.6 L178.5 453.0 L181.8 453.4 L185.0 453.7 L185.3 453.8 L188.9 454.2 L192.6 454.6 L196.5 455.0 L200.5 455.4 L202.3 455.6 L204.7 455.8 L209.0 456.2 L213.6 456.6 L218.2 457.0 L219.5 457.1 L223.1 457.4 L228.2 457.8 L233.4 458.2 L236.8 458.5 L238.9 458.6 L244.6 459.0 L250.5 459.4 L254.0 459.7 L256.6 459.8 L263.0 460.2 L269.6 460.6 L271.3 460.7 L276.5 461.0 L283.6 461.4 L288.5 461.7 L291.0 461.8 L298.7 462.2 L305.8 462.6 L306.7 462.6 L315.0 463.0 L323.0 463.4 L323.7 463.4 L332.6 463.8 L340.3 464.2 L342.0 464.2 L351.6 464.6 L357.5 464.9 L361.7 465.0 L372.2 465.4 L374.8 465.5 L383.0 465.8 L392.1 466.1 L394.3 466.2 L406.0 466.6 L409.3 466.7 L418.2 467.0 L426.6 467.2 L430.8 467.4 L443.8 467.8 L444.0 467.8 L457.6 468.2 L461.1 468.2 L471.8 468.5 L478.3 468.7 L486.5 468.9 L495.6 469.2 L501.9 469.3 L512.8 469.6 L517.8 469.7 L530.1 470.0 L534.3 470.1 L547.3 470.4 L551.4 470.5 L564.6 470.7 L569.3 470.8 L581.8 471.1 L587.8 471.2 L599.1 471.4 L607.0 471.6 L616.3 471.8 L627.0 472.0 L633.6 472.1 L647.8 472.3 L650.8 472.4 L668.1 472.7 L669.4 472.7 L685.4 473.0 L691.8 473.1 L702.6 473.3 L715.1 473.5 L719.9 473.5 L737.1 473.8 L739.3 473.8 L754.4 474.1 L764.4 474.2 L771.6 474.3 L788.9 474.6 L790.5 474.6 L806.1 474.8 L817.6 474.9 L823.4 475.0 L840.6 475.2 L845.8 475.3 L857.9 475.5 L875.1 475.7 L875.1 475.7 L892.4 475.9 L905.5 476.0 L909.6 476.1 L926.9 476.3 L937.1 476.4 L944.2 476.5 L961.4 476.7 L969.9 476.8 L978.7 476.8 L995.9 477.0 L1004.0 477.1 L1013.2 477.2 L1030.4 477.4 L1039.4 477.5 L1047.7 477.5 L1064.9 477.7 L1076.2 477.8 L1082.2 477.9 L1099.4 478.0 L1114.5 478.2 L1116.7 478.2 L1133.9 478.3 L1151.2 478.5 L1154.2 478.5 L1168.4 478.6 L1185.7 478.8 L1195.4 478.9 L1202.9 478.9 L1220.2 479.1 L1237.5 479.2 L1238.3 479.2 L1254.7 479.4 L1272.0 479.5 L1282.9 479.6 L1289.2 479.6 L1306.5 479.7 L1323.7 479.9 L1329.1 479.9 L1341.0 480.0 L1358.2 480.1 L1375.5 480.2 L1377.2 480.3 L1392.7 480.4 L1410.0 480.5 L1427.1 480.6 L1427.2 480.6 L1444.5 480.7 L1461.7 480.8 L1479.0 480.9" stroke="#dc143c"/>
<path d="M93.6 406.9 L93.6 407.1 L93.7 407.4 L93.7 407.7 L93.7 407.9 L93.7 408.2 L93.8 408.5 L93.8 408.8 L93.8 409.1 L93.9 409.3 L93.9 409.6 L94.0 409.9 L94.0 410.2 L94.0 410.5 L94.1 410.8 L94.1 411.1 L94.2 411.4 L94.2 411.7 L94.3 412.0 L94.3 412.4 L94.4 412.7 L94.5 413.0 L94.5 413.3 L94.6 413.6 L94.6 414.0 L94.7 414.3 L94.8 414.6 L94.9 415.0 L94.9 415.3 L95.0 415.6 L95.1 416.0 L95.2 416.3 L95.3 416.7 L95.4 417.0 L95.5 417.4 L95.6 417.7 L95.7 418.1 L95.8 418.4 L95.9 418.8 L96.0 419.1 L96.1 419.5 L96.2 419.9 L96.4 420.2 L96.5 420.6 L96.6 421.0 L96.8 421.3 L96.9 421.7 L97.1 422.1 L97.3 422.5 L97.4 422.9 L97.6 423.2 L97.8 423.6 L98.0 424.0 L98.2 424.4 L98.4 424.8 L98.6 425.2 L98.8 425.6 L99.1 426.0 L99.3 426.4 L99.5 426.8 L99.8 427.2 L100.1 427.6 L100.4 428.0 L100.6 428.4 L100.9 428.8 L101.3 429.2 L101.6 429.6 L101.9 430.0 L102.3 430.5 L102.6 430.9 L103.0 431.3 L103.4 431.7 L103.8 432.1 L104.2 432.6 L104.7 433.0 L105.1 433.4 L105.6 433.9 L106.1 434.3 L106.6 434.7 L107.2 435.1 L107.7 435.6 L108.3 436.0 L108.9 436.5 L109.5 436.9 L110.1 437.3 L110.8 437.8 L111.5 438.2 L112.2 438.7 L113.0 439.1 L113.8 439.6 L114.6 440.0 L115.4 440.5 L116.0 440.8 L116.3 440.9 L117.2 441.4 L118.2 441.8 L119.1 442.3 L120.2 442.8 L121.2 443.2 L122.3 443.7 L123.5 444.1 L124.6 444.6 L125.9 445.1 L127.2 445.5 L128.5 446.0 L129.9 446.5 L131.3 446.9 L132.8 447.4 L133.3 447.5 L134.4 447.9 L136.0 448.3 L137.7 448.8 L139.4 449.3 L141.2 449.8 L143.1 450.2 L145.0 450.7 L147.1 451.2 L149.2 451.7 L150.5 452.0 L151.4 452.1 L153.6 452.6 L156.0 453.1 L158.4 453.6 L161.0 454.1 L163.6 454.6 L166.4 455.0 L167.8 455.3 L169.2 455.5 L172.2 456.0 L175.3 456.5 L178.5 457.0 L181.8 457.5 L185.0 457.9 L185.3 458.0 L188.9 458.4 L192.6 458.9 L196.5 459.4 L200.5 459.9 L202.3 460.1 L204.7 460.4 L209.0 460.9 L213.6 461.4 L218.2 461.9 L219.5 462.0 L223.1 462.4 L228.2 462.9 L233.4 463.4 L236.8 463.7 L238.9 463.9 L244.6 464.4 L250.5 464.9 L254.0 465.2 L256.6 465.4 L263.0 465.9 L269.6 466.4 L271.3 466.5 L276.5 466.9 L283.6 467.4 L288.5 467.7 L291.0 467.9 L298.7 468.4 L305.8 468.8 L306.7 468.9 L315.0 469.4 L323.0 469.8 L323.7 469.9 L332.6 470.4 L340.3 470.8 L342.0 470.9 L351.6 471.4 L357.5 471.7 L361.7 471.9 L372.2 472.4 L374.8 472.5 L383.0 472.9 L392.1 473.3 L394.3 473.4 L406.0 473.9 L409.3 474.0 L418.2 474.4 L426.6 474.7 L430.8 474.9 L443.8 475.4 L444.0 475.4 L457.6 475.9 L461.1 476.0 L471.8 476.4 L478.3 476.6 L486.5 476.9 L495.6 477.2 L501.9 477.4 L512.8 477.8 L517.8 477.9 L530.1 478.3 L534.3 478.4 L547.3 478.8 L551.4 478.9 L564.6 479.3 L569.3 479.4 L581.8 479.8 L587.8 479.9 L599.1 480.2 L607.0 480.4 L616.3 480.7 L627.0 480.9 L633.6 481.1 L647.8 481.4 L650.8 481.5 L668.1 481.9 L669.4 481.9 L685.4 482.3 L691.8 482.5 L702.6 482.7 L715.1 483.0 L719.9 483.1 L737.1 483.4 L739.3 483.5 L754.4 483.8 L764.4 484.0 L771.6 484.1 L788.9 484.4 L790.5 484.5 L806.1 484.8 L817.6 485.0 L823.4 485.1 L840.6 485.4 L845.8 485.5 L857.9 485.7 L875.1 486.0 L875.1 486.0 L892.4 486.3 L905.5 486.5 L909.6 486.5 L926.9 486.8 L937.1 487.0 L944.2 487.1 L961.4 487.4 L969.9 487.5 L978.7 487.6 L995.9 487.9 L1004.0 488.0 L1013.2 488.1 L1030.4 488.4 L1039.4 488.5 L1047.7 488.6 L1064.9 488.8 L1076.2 489.0 L1082.2 489.1 L1099.4 489.3 L1114.5 489.5 L1116.7 489.5 L1133.9 489.7 L1151.2 490.0 L1154.2 490.0 L1168.4 490.2 L1185.7 490.4 L1195.4 490.5 L1202.9 490.6 L1220.2 490.8 L1237.5 491.0 L1238.3 491.0 L1254.7 491.2 L1272.0 491.4 L1282.9 491.5 L1289.2 491.6 L1306.5 491.8 L1323.7 491.9 L1329.1 492.0 L1341.0 492.1 L1358.2 492.3 L1375.5 492.5 L1377.2 492.5 L1392.7 492.6 L1410.0 492.8 L1427.1 493.0 L1427.2 493.0 L1444.5 493.2 L1461.7 493.3 L1479.0 493.5" stroke="#b22222"/>
<path d="M93.6 412.7 L93.6 413.0 L93.7 413.2 L93.7 413.5 L93.7 413.7 L93.7 414.0 L93.8 414.2 L93.8 414.5 L93.8 414.8 L93.9 415.0 L93.9 415.3 L94.0 415.6 L94.0 415.9 L94.0 416.2 L94.1 416.5 L94.1 416.8 L94.2 417.1 L94.2 417.4 L94.3 417.7 L94.3 418.0 L94.4 418.3 L94.5 418.6 L94.5 419.0 L94.6 419.3 L94.6 419.6 L94.7 420.0 L94.8 420.3 L94.9 420.6 L94.9 421.0 L95.0 421.3 L95.1 421.7 L95.2 422.0 L95.3 422.4 L95.4 422.8 L95.5 423.1 L95.6 423.5 L95.7 423.9 L95.8 424.3 L95.9 424.6 L96.0 425.0 L96.1 425.4 L96.2 425.8 L96.4 426.2 L96.5 426.6 L96.6 427.0 L96.8 427.4 L96.9 427.8 L97.1 428.2 L97.3 428.6 L97.4 429.0 L97.6 429.4 L97.8 429.8 L98.0 430.3 L98.2 430.7 L98.4 431.1 L98.6 431.5 L98.8 432.0 L99.1 432.4 L99.3 432.8 L99.5 433.3 L99.8 433.7 L100.1 434.1 L100.4 434.6 L100.6 435.0 L100.9 435.5 L101.3 435.9 L101.6 436.4 L101.9 436.8 L102.3 437.3 L102.6 437.7 L103.0 438.2 L103.4 438.7 L103.8 439.1 L104.2 439.6 L104.7 440.1 L105.1 440.5 L105.6 441.0 L106.1 441.5 L106.6 442.0 L107.2 442.4 L107.7 442.9 L108.3 443.4 L108.9 443.9 L109.5 444.4 L110.1 444.8 L110.8 445.3 L111.5 445.8 L112.2 446.3 L113.0 446.8 L113.8 447.3 L114.6 447.8 L115.4 448.3 L116.0 448.6 L116.3 448.8 L117.2 449.3 L118.2 449.8 L119.1 450.2 L120.2 450.7 L121.2 451.2 L122.3 451.7 L123.5 452.3 L124.6 452.8 L125.9 453.3 L127.2 453.8 L128.5 454.3 L129.9 454.8 L131.3 455.3 L132.8 455.8 L133.3 455.9 L134.4 456.3 L136.0 456.8 L137.7 457.3 L139.4 457.8 L141.2 458.3 L143.1 458.8 L145.0 459.3 L147.1 459.9 L149.2 460.4 L150.5 460.7 L151.4 460.9 L153.6 461.4 L156.0 461.9 L158.4 462.4 L161.0 462.9 L163.6 463.4 L166.4 464.0 L167.8 464.2 L169.2 464.5 L172.2 465.0 L175.3 465.5 L178.5 466.0 L181.8 466.5 L185.0 467.0 L185.3 467.0 L188.9 467.5 L192.6 468.1 L196.5 468.6 L200.5 469.1 L202.3 469.3 L204.7 469.6 L209.0 470.1 L213.6 470.6 L218.2 471.1 L219.5 471.3 L223.1 471.6 L228.2 472.1 L233.4 472.7 L236.8 473.0 L238.9 473.2 L244.6 473.7 L250.5 474.2 L254.0 474.5 L256.6 474.7 L263.0 475.2 L269.6 475.7 L271.3 475.8 L276.5 476.2 L283.6 476.7 L288.5 477.0 L291.0 477.2 L298.7 477.7 L305.8 478.1 L306.7 478.2 L315.0 478.7 L323.0 479.2 L323.7 479.2 L332.6 479.7 L340.3 480.1 L342.0 480.2 L351.6 480.7 L357.5 481.0 L361.7 481.2 L372.2 481.7 L374.8 481.8 L383.0 482.2 L392.1 482.6 L394.3 482.7 L406.0 483.1 L409.3 483.3 L418.2 483.6 L426.6 484.0 L430.8 484.1 L443.8 484.6 L444.0 484.6 L457.6 485.1 L461.1 485.2 L471.8 485.6 L478.3 485.8 L486.5 486.0 L495.6 486.3 L501.9 486.5 L512.8 486.9 L517.8 487.0 L530.1 487.4 L534.3 487.5 L547.3 487.8 L551.4 487.9 L564.6 488.3 L569.3 488.4 L581.8 488.7 L587.8 488.9 L599.1 489.2 L607.0 489.4 L616.3 489.6 L627.0 489.8 L633.6 490.0 L647.8 490.3 L650.8 490.4 L668.1 490.7 L669.4 490.8 L685.4 491.1 L691.8 491.2 L702.6 491.4 L715.1 491.7 L719.9 491.8 L737.1 492.1 L739.3 492.1 L754.4 492.4 L764.4 492.6 L771.6 492.7 L788.9 493.0 L790.5 493.0 L806.1 493.3 L817.6 493.5 L823.4 493.6 L840.6 493.9 L845.8 493.9 L857.9 494.1 L875.1 494.4 L875.1 494.4 L892.4 494.6 L905.5 494.8 L909.6 494.9 L926.9 495.1 L937.1 495.3 L944.2 495.4 L961.4 495.6 L969.9 495.7 L978.7 495.8 L995.9 496.0 L1004.0 496.2 L1013.2 496.3 L1030.4 496.5 L1039.4 496.6 L1047.7 496.7 L1064.9 496.9 L1076.2 497.0 L1082.2 497.1 L1099.4 497.3 L1114.5 497.4 L1116.7 497.5 L1133.9 497.7 L1151.2 497.8 L1154.2 497.9 L1168.4 498.0 L1185.7 498.2 L1195.4 498.3 L1202.9 498.4 L1220.2 498.5 L1237.5 498.7 L1238.3 498.7 L1254.7 498.9 L1272.0 499.0 L1282.9 499.1 L1289.2 499.2 L1306.5 499.4 L1323.7 499.5 L1329.1 499.6 L1341.0 499.7 L1358.2 499.8 L1375.5 500.0 L1377.2 500.0 L1392.7 500.1 L1410.0 500.3 L1427.1 500.4 L1427.2 500.4 L1444.5 500.5 L1461.7 500.7 L1479.0 500.8" stroke="#800000"/>
<path d="M93.6 412.7 L93.6 412.9 L93.7 413.1 L93.7 413.2 L93.7 413.4 L93.7 413.6 L93.8 413.8 L93.8 414.0 L93.8 414.2 L93.9 414.4 L93.9 414.6 L94.0 414.8 L94.0 415.1 L94.0 415.3 L94.1 415.5 L94.1 415.7 L94.2 416.0 L94.2 416.2 L94.3 416.5 L94.3 416.7 L94.4 417.0 L94.5 417.3 L94.5 417.5 L94.6 417.8 L94.6 418.1 L94.7 418.3 L94.8 418.6 L94.9 418.9 L94.9 419.2 L95.0 419.5 L95.1 419.8 L95.2 420.1 L95.3 420.4 L95.4 420.7 L95.5 421.1 L95.6 421.4 L95.7 421.7 L95.8 422.0 L95.9 422.4 L96.0 422.7 L96.1 423.0 L96.2 423.4 L96.4 423.7 L96.5 424.1 L96.6 424.4 L96.8 424.8 L96.9 425.1 L97.1 425.5 L97.3 425.9 L97.4 426.2 L97.6 426.6 L97.8 427.0 L98.0 427.4 L98.2 427.8 L98.4 428.2 L98.6 428.5 L98.8 428.9 L99.1 429.3 L99.3 429.7 L99.5 430.1 L99.8 430.5 L100.1 430.9 L100.4 431.4 L100.6 431.8 L100.9 432.2 L101.3 432.6 L101.6 433.0 L101.9 433.4 L102.3 433.9 L102.6 434.3 L103.0 434.7 L103.4 435.2 L103.8 435.6 L104.2 436.0 L104.7 436.5 L105.1 436.9 L105.6 437.4 L106.1 437.8 L106.6 438.3 L107.2 438.7 L107.7 439.2 L108.3 439.6 L108.9 440.1 L109.5 440.5 L110.1 441.0 L110.8 441.5 L111.5 441.9 L112.2 442.4 L113.0 442.9 L113.8 443.3 L114.6 443.8 L115.4 444.3 L116.0 444.6 L116.3 444.8 L117.2 445.2 L118.2 445.7 L119.1 446.2 L120.2 446.7 L121.2 447.2 L122.3 447.7 L123.5 448.1 L124.6 448.6 L125.9 449.1 L127.2 449.6 L128.5 450.1 L129.9 450.6 L131.3 451.1 L132.8 451.6 L133.3 451.7 L134.4 452.1 L136.0 452.6 L137.7 453.1 L139.4 453.6 L141.2 454.1 L143.1 454.6 L145.0 455.1 L147.1 455.6 L149.2 456.1 L150.5 456.4 L151.4 456.6 L153.6 457.1 L156.0 457.6 L158.4 458.1 L161.0 458.6 L163.6 459.1 L166.4 459.6 L167.8 459.8 L169.2 460.1 L172.2 460.6 L175.3 461.1 L178.5 461.6 L181.8 462.1 L185.0 462.6 L185.3 462.6 L188.9 463.1 L192.6 463.6 L196.5 464.2 L200.5 464.7 L202.3 464.9 L204.7 465.2 L209.0 465.7 L213.6 466.2 L218.2 466.7 L219.5 466.8 L223.1 467.2 L228.2 467.7 L233.4 468.2 L236.8 468.5 L238.9 468.7 L244.6 469.2 L250.5 469.7 L254.0 470.0 L256.6 470.2 L263.0 470.7 L269.6 471.2 L271.3 471.4 L276.5 471.7 L283.6 472.2 L288.5 472.6 L291.0 472.7 L298.7 473.2 L305.8 473.7 L306.7 473.7 L315.0 474.2 L323.0 474.7 L323.7 474.7 L332.6 475.2 L340.3 475.7 L342.0 475.7 L351.6 476.2 L357.5 476.5 L361.7 476.7 L372.2 477.2 L374.8 477.3 L383.0 477.7 L392.1 478.1 L394.3 478.2 L406.0 478.7 L409.3 478.8 L418.2 479.2 L426.6 479.5 L430.8 479.7 L443.8 480.2 L444.0 480.2 L457.6 480.7 L461.1 480.8 L471.8 481.1 L478.3 481.4 L486.5 481.6 L495.6 481.9 L501.9 482.1 L512.8 482.4 L517.8 482.6 L530.1 482.9 L534.3 483.1 L547.3 483.4 L551.4 483.5 L564.6 483.9 L569.3 484.0 L581.8 484.3 L587.8 484.5 L599.1 484.8 L607.0 485.0 L616.3 485.2 L627.0 485.4 L633.6 485.6 L647.8 485.9 L650.8 486.0 L668.1 486.4 L669.4 486.4 L685.4 486.7 L691.8 486.8 L702.6 487.1 L715.1 487.3 L719.9 487.4 L737.1 487.7 L739.3 487.8 L754.4 488.0 L764.4 488.2 L771.6 488.4 L788.9 488.7 L790.5 488.7 L806.1 489.0 L817.6 489.1 L823.4 489.2 L840.6 489.5 L845.8 489.6 L857.9 489.8 L875.1 490.1 L875.1 490.1 L892.4 490.3 L905.5 490.5 L909.6 490.6 L926.9 490.8 L937.1 491.0 L944.2 491.0 L961.4 491.3 L969.9 491.4 L978.7 491.5 L995.9 491.7 L1004.0 491.8 L1013.2 492.0 L1030.4 492.2 L1039.4 492.3 L1047.7 492.4 L1064.9 492.6 L1076.2 492.7 L1082.2 492.8 L1099.4 493.0 L1114.5 493.2 L1116.7 493.2 L1133.9 493.4 L1151.2 493.6 L1154.2 493.6 L1168.4 493.7 L1185.7 493.9 L1195.4 494.0 L1202.9 494.1 L1220.2 494.3 L1237.5 494.4 L1238.3 494.5 L1254.7 494.6 L1272.0 494.8 L1282.9 494.9 L1289.2 494.9 L1306.5 495.1 L1323.7 495.3 L1329.1 495.3 L1341.0 495.4 L1358.2 495.6 L1375.5 495.7 L1377.2 495.7 L1392.7 495.9 L1410.0 496.0 L1427.1 496.1 L1427.2 496.1 L1444.5 496.3 L1461.7 496.4 L1479.0 496.6" stroke="#4d0000"/>
</g>
<g stroke="#4d4d4d" stroke-width="1.7" fill="none">
<rect x="92.9" y="10.6" width="1386.10" height="723.20"/>
<path d="M92.90 733.8 v-14 M92.90 10.6 v14"/>
<path d="M323.92 733.8 v-14 M323.92 10.6 v14"/>
<path d="M554.93 733.8 v-14 M554.93 10.6 v14"/>
<path d="M785.95 733.8 v-14 M785.95 10.6 v14"/>
<path d="M1016.97 733.8 v-14 M1016.97 10.6 v14"/>
<path d="M1247.98 733.8 v-14 M1247.98 10.6 v14"/>
<path d="M1479.00 733.8 v-14 M1479.00 10.6 v14"/>
<path d="M92.9 733.80 h14 M1479.0 733.80 h-14"/>
<path d="M92.9 630.49 h14 M1479.0 630.49 h-14"/>
<path d="M92.9 527.17 h14 M1479.0 527.17 h-14"/>
<path d="M92.9 423.86 h14 M1479.0 423.86 h-14"/>
<path d="M92.9 320.54 h14 M1479.0 320.54 h-14"/>
<path d="M92.9 217.23 h14 M1479.0 217.23 h-14"/>
<path d="M92.9 113.91 h14 M1479.0 113.91 h-14"/>
<path d="M92.9 10.60 h14 M1479.0 10.60 h-14"/>
</g>
<g font-family="'Liberation Sans', Arial, sans-serif" font-size="22.5" fill="#000">
<text transform="translate(92.90 764.8) scale(1 1.06)" text-anchor="middle">0</text>
<text transform="translate(323.92 764.8) scale(1 1.06)" text-anchor="middle">5</text>
<text transform="translate(554.93 764.8) scale(1 1.06)" text-anchor="middle">10</text>
<text transform="translate(785.95 764.8) scale(1 1.06)" text-anchor="middle">15</text>
<text transform="translate(1016.97 764.8) scale(1 1.06)" text-anchor="middle">20</text>
<text transform="translate(1247.98 764.8) scale(1 1.06)" text-anchor="middle">25</text>
<text transform="translate(1479.00 764.8) scale(1 1.06)" text-anchor="middle">30</text>
<text transform="translate(82.9 743.4) scale(1 1.06)" text-anchor="end">-0.06</text>
<text transform="translate(82.9 640.1) scale(1 1.06)" text-anchor="end">-0.04</text>
<text transform="translate(82.9 536.8) scale(1 1.06)" text-anchor="end">-0.02</text>
<text transform="translate(82.9 433.5) scale(1 1.06)" text-anchor="end">0</text>
<text transform="translate(82.9 330.1) scale(1 1.06)" text-anchor="end">0.02</text>
<text transform="translate(82.9 226.8) scale(1 1.06)" text-anchor="end">0.04</text>
<text transform="translate(82.9 123.5) scale(1 1.06)" text-anchor="end">0.06</text>
<text transform="translate(82.9 20.2) scale(1 1.06)" text-anchor="end">0.08</text>
</g>
<text x="786.0" y="792.1" text-anchor="middle" font-family="'Liberation Sans', Arial, sans-serif" font-size="22.5" letter-spacing="0.3">Degradation time/day</text>
<text transform="translate(22 372.2) rotate(-90)" text-anchor="middle" font-family="'Liberation Sans', Arial, sans-serif" font-size="24">&#916;R</text>
<rect x="1488.5" y="9.4" width="143.9" height="272.5" fill="#fff" stroke="#4d4d4d" stroke-width="1.4"/>
<g font-family="'Liberation Sans', Arial, sans-serif" font-size="22.5">
<circle cx="1519.7" cy="25.3" r="3.5" fill="#000080"/>
<text transform="translate(1550.8 34.0) scale(1 1.06)">424 nm</text>
<circle cx="1519.7" cy="52.1" r="3.5" fill="#0000ff"/>
<text transform="translate(1550.8 60.8) scale(1 1.06)">444 nm</text>
<circle cx="1519.7" cy="78.9" r="3.5" fill="#7fffd4"/>
<text transform="translate(1550.8 87.6) scale(1 1.06)">497 nm</text>
<circle cx="1519.7" cy="105.6" r="3.5" fill="#00ff00"/>
<text transform="translate(1550.8 114.3) scale(1 1.06)">549 nm</text>
<circle cx="1519.7" cy="132.4" r="3.5" fill="#ff8c00"/>
<text transform="translate(1550.8 141.1) scale(1 1.06)">601 nm</text>
<circle cx="1519.7" cy="159.2" r="3.5" fill="#ff0000"/>
<text transform="translate(1550.8 167.9) scale(1 1.06)">654 nm</text>
<circle cx="1519.7" cy="186.0" r="3.5" fill="#dc143c"/>
<text transform="translate(1550.8 194.7) scale(1 1.06)">706 nm</text>
<circle cx="1519.7" cy="212.8" r="3.5" fill="#b22222"/>
<text transform="translate(1550.8 221.5) scale(1 1.06)">758 nm</text>
<circle cx="1519.7" cy="239.5" r="3.5" fill="#800000"/>
<text transform="translate(1550.8 248.2) scale(1 1.06)">811 nm</text>
<circle cx="1519.7" cy="266.3" r="3.5" fill="#4d0000"/>
<text transform="translate(1550.8 275.0) scale(1 1.06)">853 nm</text>
</g>
<text x="1597" y="789.5" font-family="'Liberation Sans', Arial, sans-serif" font-size="50" font-weight="bold">a</text>
<clipPath id="clipb"><rect x="93.0" y="847.75" width="1386.4" height="723.05"/></clipPath>
<g>
<circle cx="100.6" cy="1300.3" r="3.3" fill="#000080"/>
<circle cx="132.0" cy="1291.6" r="3.3" fill="#000080"/>
<circle cx="179.9" cy="1219.6" r="3.3" fill="#000080"/>
<circle cx="314.0" cy="1051.8" r="3.3" fill="#000080"/>
<circle cx="360.0" cy="1082.4" r="3.3" fill="#000080"/>
<circle cx="411.8" cy="1061.6" r="3.3" fill="#000080"/>
<circle cx="498.3" cy="1064.1" r="3.3" fill="#000080"/>
<circle cx="632.7" cy="1022.2" r="3.3" fill="#000080"/>
<circle cx="729.5" cy="1027.4" r="3.3" fill="#000080"/>
<circle cx="815.6" cy="992.1" r="3.3" fill="#000080"/>
<circle cx="1189.6" cy="853.5" r="3.3" fill="#000080"/>
<circle cx="1327.8" cy="916.8" r="3.3" fill="#000080"/>
<circle cx="1460.7" cy="874.4" r="3.3" fill="#000080"/>
<circle cx="100.6" cy="1240.2" r="3.3" fill="#0000ff"/>
<circle cx="132.0" cy="1181.6" r="3.3" fill="#0000ff"/>
<circle cx="179.9" cy="1147.4" r="3.3" fill="#0000ff"/>
<circle cx="314.0" cy="1034.3" r="3.3" fill="#0000ff"/>
<circle cx="360.0" cy="1048.2" r="3.3" fill="#0000ff"/>
<circle cx="411.8" cy="1024.9" r="3.3" fill="#0000ff"/>
<circle cx="498.3" cy="1016.9" r="3.3" fill="#0000ff"/>
<circle cx="632.7" cy="1009.6" r="3.3" fill="#0000ff"/>
<circle cx="729.5" cy="1000.2" r="3.3" fill="#0000ff"/>
<circle cx="815.6" cy="979.7" r="3.3" fill="#0000ff"/>
<circle cx="1189.6" cy="887.9" r="3.3" fill="#0000ff"/>
<circle cx="1327.8" cy="920.8" r="3.3" fill="#0000ff"/>
<circle cx="1460.7" cy="908.3" r="3.3" fill="#0000ff"/>
<circle cx="100.6" cy="1222.5" r="3.3" fill="#7fffd4"/>
<circle cx="132.0" cy="1187.7" r="3.3" fill="#7fffd4"/>
<circle cx="179.9" cy="1176.4" r="3.3" fill="#7fffd4"/>
<circle cx="314.0" cy="1077.4" r="3.3" fill="#7fffd4"/>
<circle cx="360.0" cy="1093.6" r="3.3" fill="#7fffd4"/>
<circle cx="411.8" cy="1068.6" r="3.3" fill="#7fffd4"/>
<circle cx="498.3" cy="1072.0" r="3.3" fill="#7fffd4"/>
<circle cx="632.7" cy="1080.9" r="3.3" fill="#7fffd4"/>
<circle cx="729.5" cy="1075.2" r="3.3" fill="#7fffd4"/>
<circle cx="815.6" cy="1066.1" r="3.3" fill="#7fffd4"/>
<circle cx="1189.6" cy="1000.0" r="3.3" fill="#7fffd4"/>
<circle cx="1327.8" cy="1022.9" r="3.3" fill="#7fffd4"/>
<circle cx="1460.7" cy="1022.5" r="3.3" fill="#7fffd4"/>
<circle cx="100.6" cy="1223.5" r="3.3" fill="#00ff00"/>
<circle cx="132.0" cy="1217.5" r="3.3" fill="#00ff00"/>
<circle cx="179.9" cy="1223.2" r="3.3" fill="#00ff00"/>
<circle cx="314.0" cy="1123.6" r="3.3" fill="#00ff00"/>
<circle cx="360.0" cy="1157.2" r="3.3" fill="#00ff00"/>
<circle cx="411.8" cy="1117.5" r="3.3" fill="#00ff00"/>
<circle cx="498.3" cy="1139.5" r="3.3" fill="#00ff00"/>
<circle cx="632.7" cy="1153.8" r="3.3" fill="#00ff00"/>
<circle cx="729.5" cy="1157.7" r="3.3" fill="#00ff00"/>
<circle cx="815.6" cy="1154.7" r="3.3" fill="#00ff00"/>
<circle cx="1189.6" cy="1103.6" r="3.3" fill="#00ff00"/>
<circle cx="1327.8" cy="1133.0" r="3.3" fill="#00ff00"/>
<circle cx="1460.7" cy="1132.0" r="3.3" fill="#00ff00"/>
<circle cx="100.6" cy="1230.1" r="3.3" fill="#ff8c00"/>
<circle cx="132.0" cy="1231.1" r="3.3" fill="#ff8c00"/>
<circle cx="179.9" cy="1251.6" r="3.3" fill="#ff8c00"/>
<circle cx="314.0" cy="1152.1" r="3.3" fill="#ff8c00"/>
<circle cx="360.0" cy="1198.5" r="3.3" fill="#ff8c00"/>
<circle cx="411.8" cy="1148.7" r="3.3" fill="#ff8c00"/>
<circle cx="498.3" cy="1183.2" r="3.3" fill="#ff8c00"/>
<circle cx="632.7" cy="1203.5" r="3.3" fill="#ff8c00"/>
<circle cx="729.5" cy="1212.3" r="3.3" fill="#ff8c00"/>
<circle cx="815.6" cy="1212.0" r="3.3" fill="#ff8c00"/>
<circle cx="1189.6" cy="1177.8" r="3.3" fill="#ff8c00"/>
<circle cx="1327.8" cy="1210.8" r="3.3" fill="#ff8c00"/>
<circle cx="1460.7" cy="1208.4" r="3.3" fill="#ff8c00"/>
<circle cx="100.6" cy="1226.1" r="3.3" fill="#ff0000"/>
<circle cx="132.0" cy="1244.7" r="3.3" fill="#ff0000"/>
<circle cx="179.9" cy="1271.6" r="3.3" fill="#ff0000"/>
<circle cx="314.0" cy="1171.2" r="3.3" fill="#ff0000"/>
<circle cx="360.0" cy="1227.2" r="3.3" fill="#ff0000"/>
<circle cx="411.8" cy="1167.6" r="3.3" fill="#ff0000"/>
<circle cx="498.3" cy="1211.1" r="3.3" fill="#ff0000"/>
<circle cx="632.7" cy="1241.8" r="3.3" fill="#ff0000"/>
<circle cx="729.5" cy="1249.1" r="3.3" fill="#ff0000"/>
<circle cx="815.6" cy="1247.6" r="3.3" fill="#ff0000"/>
<circle cx="1189.6" cy="1224.8" r="3.3" fill="#ff0000"/>
<circle cx="1327.8" cy="1262.3" r="3.3" fill="#ff0000"/>
<circle cx="1460.7" cy="1260.7" r="3.3" fill="#ff0000"/>
<circle cx="100.6" cy="1220.0" r="3.3" fill="#dc143c"/>
<circle cx="132.0" cy="1257.0" r="3.3" fill="#dc143c"/>
<circle cx="179.9" cy="1286.3" r="3.3" fill="#dc143c"/>
<circle cx="314.0" cy="1187.8" r="3.3" fill="#dc143c"/>
<circle cx="360.0" cy="1254.8" r="3.3" fill="#dc143c"/>
<circle cx="411.8" cy="1171.0" r="3.3" fill="#dc143c"/>
<circle cx="498.3" cy="1240.8" r="3.3" fill="#dc143c"/>
<circle cx="632.7" cy="1279.0" r="3.3" fill="#dc143c"/>
<circle cx="729.5" cy="1278.9" r="3.3" fill="#dc143c"/>
<circle cx="815.6" cy="1275.9" r="3.3" fill="#dc143c"/>
<circle cx="1189.6" cy="1247.1" r="3.3" fill="#dc143c"/>
<circle cx="1327.8" cy="1291.0" r="3.3" fill="#dc143c"/>
<circle cx="1460.7" cy="1293.0" r="3.3" fill="#dc143c"/>
<circle cx="100.6" cy="1203.8" r="3.3" fill="#b22222"/>
<circle cx="132.0" cy="1255.4" r="3.3" fill="#b22222"/>
<circle cx="179.9" cy="1289.5" r="3.3" fill="#b22222"/>
<circle cx="314.0" cy="1191.8" r="3.3" fill="#b22222"/>
<circle cx="360.0" cy="1261.5" r="3.3" fill="#b22222"/>
<circle cx="411.8" cy="1173.0" r="3.3" fill="#b22222"/>
<circle cx="498.3" cy="1251.4" r="3.3" fill="#b22222"/>
<circle cx="632.7" cy="1286.5" r="3.3" fill="#b22222"/>
<circle cx="729.5" cy="1291.1" r="3.3" fill="#b22222"/>
<circle cx="815.6" cy="1288.3" r="3.3" fill="#b22222"/>
<circle cx="1189.6" cy="1248.5" r="3.3" fill="#b22222"/>
<circle cx="1327.8" cy="1299.5" r="3.3" fill="#b22222"/>
<circle cx="1460.7" cy="1297.0" r="3.3" fill="#b22222"/>
<circle cx="100.6" cy="1208.4" r="3.3" fill="#800000"/>
<circle cx="132.0" cy="1274.0" r="3.3" fill="#800000"/>
<circle cx="179.9" cy="1304.8" r="3.3" fill="#800000"/>
<circle cx="314.0" cy="1206.0" r="3.3" fill="#800000"/>
<circle cx="360.0" cy="1285.4" r="3.3" fill="#800000"/>
<circle cx="411.8" cy="1179.7" r="3.3" fill="#800000"/>
<circle cx="498.3" cy="1271.9" r="3.3" fill="#800000"/>
<circle cx="632.7" cy="1312.7" r="3.3" fill="#800000"/>
<circle cx="729.5" cy="1307.0" r="3.3" fill="#800000"/>
<circle cx="815.6" cy="1304.2" r="3.3" fill="#800000"/>
<circle cx="1189.6" cy="1250.1" r="3.3" fill="#800000"/>
<circle cx="1327.8" cy="1300.3" r="3.3" fill="#800000"/>
<circle cx="1460.7" cy="1302.7" r="3.3" fill="#800000"/>
<circle cx="100.6" cy="1198.8" r="3.3" fill="#4d0000"/>
<circle cx="132.0" cy="1270.0" r="3.3" fill="#4d0000"/>
<circle cx="179.9" cy="1311.2" r="3.3" fill="#4d0000"/>
<circle cx="314.0" cy="1198.8" r="3.3" fill="#4d0000"/>
<circle cx="360.0" cy="1280.4" r="3.3" fill="#4d0000"/>
<circle cx="411.8" cy="1169.3" r="3.3" fill="#4d0000"/>
<circle cx="498.3" cy="1267.6" r="3.3" fill="#4d0000"/>
<circle cx="632.7" cy="1315.5" r="3.3" fill="#4d0000"/>
<circle cx="729.5" cy="1310.0" r="3.3" fill="#4d0000"/>
<circle cx="815.6" cy="1301.7" r="3.3" fill="#4d0000"/>
<circle cx="1189.6" cy="1234.9" r="3.3" fill="#4d0000"/>
<circle cx="1327.8" cy="1291.6" r="3.3" fill="#4d0000"/>
<circle cx="1460.7" cy="1297.1" r="3.3" fill="#4d0000"/>
</g>
<g clip-path="url(#clipb)" fill="none" stroke-width="1.9" stroke-linejoin="round">
<path d="M94.1 1524.3 L94.1 1523.1 L94.2 1521.9 L94.2 1520.5 L94.3 1519.1 L94.3 1517.6 L94.4 1516.0 L94.4 1514.4 L94.5 1512.6 L94.5 1510.8 L94.6 1509.0 L94.6 1507.0 L94.7 1505.0 L94.8 1502.9 L94.8 1500.7 L94.9 1498.5 L95.0 1496.2 L95.0 1493.9 L95.1 1491.5 L95.2 1489.0 L95.3 1486.5 L95.3 1484.0 L95.4 1481.3 L95.5 1478.7 L95.6 1476.0 L95.7 1473.2 L95.8 1470.4 L95.9 1467.5 L96.0 1464.6 L96.1 1461.7 L96.2 1458.7 L96.3 1455.7 L96.5 1452.7 L96.6 1449.6 L96.7 1446.5 L96.9 1443.3 L97.0 1440.2 L97.1 1437.0 L97.3 1433.8 L97.5 1430.5 L97.6 1427.3 L97.8 1424.0 L98.0 1420.7 L98.1 1417.4 L98.3 1414.1 L98.5 1410.7 L98.7 1407.4 L98.9 1404.0 L99.2 1400.7 L99.4 1397.3 L99.6 1393.9 L99.9 1390.6 L100.1 1387.2 L100.4 1383.8 L100.6 1380.4 L100.9 1377.1 L101.2 1373.7 L101.5 1370.4 L101.8 1367.1 L102.1 1363.7 L102.5 1360.4 L102.8 1357.1 L103.2 1353.9 L103.5 1350.6 L103.9 1347.4 L104.3 1344.2 L104.7 1341.0 L105.2 1337.8 L105.6 1334.6 L106.1 1331.4 L106.6 1328.3 L107.0 1325.1 L107.6 1322.0 L108.1 1318.8 L108.6 1315.7 L109.2 1312.6 L109.8 1309.5 L110.4 1306.3 L111.1 1303.2 L111.7 1300.1 L112.4 1297.0 L113.1 1293.9 L113.8 1290.8 L114.6 1287.6 L115.4 1284.5 L116.1 1281.8 L116.2 1281.4 L117.1 1278.2 L117.9 1275.1 L118.9 1271.9 L119.8 1268.8 L120.8 1265.6 L121.8 1262.4 L122.8 1259.2 L123.9 1256.1 L125.1 1252.8 L126.2 1249.6 L127.4 1246.4 L128.7 1243.2 L130.0 1239.9 L131.4 1236.7 L132.8 1233.4 L133.4 1232.0 L134.2 1230.2 L135.7 1226.9 L137.3 1223.6 L138.9 1220.3 L140.6 1217.0 L142.3 1213.7 L144.1 1210.4 L146.0 1207.1 L147.9 1203.8 L149.9 1200.5 L150.6 1199.4 L152.0 1197.2 L154.1 1194.0 L156.4 1190.7 L158.7 1187.4 L161.1 1184.1 L163.6 1180.9 L166.2 1177.6 L167.9 1175.5 L168.8 1174.4 L171.6 1171.1 L174.5 1167.9 L177.5 1164.7 L180.5 1161.5 L183.7 1158.4 L185.1 1157.0 L187.1 1155.2 L190.5 1152.0 L194.0 1148.9 L197.7 1145.8 L201.6 1142.7 L202.4 1142.0 L205.5 1139.6 L209.6 1136.5 L213.9 1133.4 L218.3 1130.3 L219.6 1129.4 L222.9 1127.2 L227.6 1124.1 L232.6 1121.1 L236.9 1118.4 L237.7 1118.0 L242.9 1114.9 L248.4 1111.8 L254.1 1108.8 L254.2 1108.7 L260.0 1105.7 L266.1 1102.6 L271.4 1100.0 L272.4 1099.5 L278.9 1096.4 L285.7 1093.3 L288.7 1092.0 L292.8 1090.2 L300.1 1087.1 L305.9 1084.7 L307.6 1084.0 L315.5 1080.9 L323.2 1077.9 L323.6 1077.7 L332.0 1074.6 L340.4 1071.6 L340.8 1071.4 L349.8 1068.3 L357.7 1065.6 L359.2 1065.1 L368.9 1062.0 L375.0 1060.0 L379.0 1058.8 L389.4 1055.6 L392.2 1054.8 L400.3 1052.4 L409.5 1049.8 L411.5 1049.2 L423.1 1046.0 L426.7 1045.1 L435.2 1042.9 L444.0 1040.6 L447.7 1039.7 L460.6 1036.5 L461.2 1036.3 L474.1 1033.3 L478.5 1032.2 L488.0 1030.0 L495.8 1028.3 L502.4 1026.8 L513.0 1024.6 L517.4 1023.6 L530.3 1020.9 L532.9 1020.4 L547.5 1017.5 L548.9 1017.2 L564.8 1014.1 L565.6 1014.0 L582.0 1010.9 L582.8 1010.8 L599.3 1007.8 L600.7 1007.6 L616.6 1004.8 L619.3 1004.4 L633.8 1001.9 L638.5 1001.1 L651.1 999.1 L658.4 997.9 L668.3 996.4 L679.1 994.7 L685.6 993.7 L700.5 991.5 L702.8 991.2 L720.1 988.7 L722.7 988.3 L737.4 986.3 L745.7 985.1 L754.6 983.9 L769.5 981.9 L771.9 981.6 L789.1 979.4 L794.2 978.7 L806.4 977.2 L819.8 975.5 L823.6 975.0 L840.9 973.0 L846.4 972.3 L858.2 970.9 L873.9 969.1 L875.4 969.0 L892.7 967.0 L902.4 965.9 L909.9 965.1 L927.2 963.3 L932.0 962.8 L944.4 961.5 L961.7 959.7 L962.6 959.6 L979.0 957.9 L994.4 956.4 L996.2 956.2 L1013.5 954.6 L1027.3 953.2 L1030.7 952.9 L1048.0 951.3 L1061.5 950.1 L1065.2 949.7 L1082.5 948.2 L1096.8 946.9 L1099.7 946.7 L1117.0 945.2 L1133.5 943.8 L1134.3 943.7 L1151.5 942.3 L1168.8 940.9 L1171.5 940.6 L1186.0 939.5 L1203.3 938.1 L1210.9 937.5 L1220.5 936.8 L1237.8 935.4 L1251.7 934.4 L1255.1 934.1 L1272.3 932.9 L1289.6 931.6 L1294.1 931.3 L1306.8 930.4 L1324.1 929.1 L1337.9 928.2 L1341.3 927.9 L1358.6 926.7 L1375.9 925.6 L1383.4 925.1 L1393.1 924.4 L1410.4 923.3 L1427.6 922.2 L1430.5 922.0 L1444.9 921.0 L1462.1 920.0 L1479.4 918.9" stroke="#000080"/>
<path d="M94.5 1390.5 L94.6 1387.9 L94.6 1385.4 L94.7 1382.9 L94.7 1380.4 L94.8 1377.9 L94.8 1375.4 L94.9 1372.9 L95.0 1370.4 L95.0 1368.0 L95.1 1365.5 L95.2 1363.0 L95.3 1360.5 L95.3 1358.1 L95.4 1355.6 L95.5 1353.1 L95.6 1350.7 L95.7 1348.2 L95.8 1345.7 L95.9 1343.3 L96.0 1340.8 L96.1 1338.4 L96.2 1336.0 L96.3 1333.5 L96.4 1331.1 L96.5 1328.7 L96.7 1326.2 L96.8 1323.8 L96.9 1321.4 L97.1 1319.0 L97.2 1316.5 L97.3 1314.1 L97.5 1311.7 L97.7 1309.3 L97.8 1306.9 L98.0 1304.5 L98.2 1302.1 L98.3 1299.7 L98.5 1297.3 L98.7 1294.9 L98.9 1292.5 L99.1 1290.1 L99.3 1287.7 L99.6 1285.3 L99.8 1283.0 L100.0 1280.6 L100.3 1278.2 L100.5 1275.8 L100.8 1273.5 L101.1 1271.1 L101.3 1268.7 L101.6 1266.4 L101.9 1264.0 L102.2 1261.6 L102.6 1259.3 L102.9 1256.9 L103.2 1254.6 L103.6 1252.2 L104.0 1249.9 L104.4 1247.5 L104.8 1245.2 L105.2 1242.8 L105.6 1240.5 L106.0 1238.2 L106.5 1235.8 L107.0 1233.5 L107.4 1231.2 L107.9 1228.8 L108.5 1226.5 L109.0 1224.2 L109.6 1221.8 L110.1 1219.5 L110.7 1217.2 L111.4 1214.9 L112.0 1212.5 L112.7 1210.2 L113.4 1207.9 L114.1 1205.6 L114.8 1203.3 L115.6 1200.9 L116.1 1199.4 L116.4 1198.6 L117.2 1196.3 L118.0 1194.0 L118.9 1191.7 L119.8 1189.4 L120.7 1187.1 L121.7 1184.8 L122.7 1182.5 L123.7 1180.2 L124.8 1177.9 L125.9 1175.6 L127.1 1173.3 L128.3 1171.0 L129.5 1168.7 L130.8 1166.4 L132.1 1164.1 L133.4 1161.9 L133.4 1161.8 L134.9 1159.5 L136.3 1157.2 L137.8 1154.9 L139.4 1152.6 L141.0 1150.3 L142.7 1148.0 L144.4 1145.7 L146.2 1143.4 L148.1 1141.1 L150.0 1138.8 L150.6 1138.1 L152.0 1136.5 L154.0 1134.3 L156.2 1132.0 L158.4 1129.7 L160.7 1127.4 L163.0 1125.1 L165.5 1122.8 L167.9 1120.6 L168.0 1120.5 L170.6 1118.2 L173.3 1115.9 L176.1 1113.7 L179.0 1111.4 L182.0 1109.1 L185.1 1106.8 L185.2 1106.8 L188.4 1104.5 L191.7 1102.2 L195.1 1099.9 L198.7 1097.6 L202.4 1095.4 L202.4 1095.4 L206.2 1093.1 L210.2 1090.8 L214.3 1088.5 L218.5 1086.2 L219.6 1085.6 L222.9 1083.9 L227.4 1081.6 L232.1 1079.3 L236.9 1077.1 L237.0 1077.0 L242.0 1074.8 L247.2 1072.5 L252.6 1070.2 L254.2 1069.5 L258.1 1067.9 L263.9 1065.6 L269.9 1063.3 L271.4 1062.7 L276.1 1061.0 L282.4 1058.7 L288.7 1056.5 L289.1 1056.4 L295.9 1054.1 L303.0 1051.8 L305.9 1050.9 L310.3 1049.5 L317.9 1047.2 L323.2 1045.7 L325.8 1044.9 L333.9 1042.6 L340.4 1040.8 L342.3 1040.3 L351.0 1038.0 L357.7 1036.3 L360.0 1035.7 L369.3 1033.4 L375.0 1032.1 L379.0 1031.1 L389.0 1028.8 L392.2 1028.1 L399.3 1026.5 L409.5 1024.3 L410.0 1024.2 L421.1 1021.9 L426.7 1020.7 L432.5 1019.6 L444.0 1017.3 L444.4 1017.3 L456.6 1015.0 L461.2 1014.1 L469.3 1012.6 L478.5 1011.0 L482.5 1010.3 L495.8 1008.1 L496.1 1008.0 L510.1 1005.7 L513.0 1005.2 L524.7 1003.4 L530.3 1002.5 L539.8 1001.1 L547.5 999.9 L555.4 998.7 L564.8 997.4 L571.5 996.4 L582.0 994.9 L588.2 994.1 L599.3 992.6 L605.5 991.8 L616.6 990.3 L623.4 989.4 L633.8 988.1 L641.9 987.1 L651.1 986.0 L661.1 984.8 L668.3 983.9 L680.9 982.4 L685.6 981.9 L701.4 980.1 L702.8 979.9 L720.1 978.0 L722.7 977.8 L737.4 976.2 L744.6 975.4 L754.6 974.4 L767.4 973.1 L771.9 972.6 L789.1 970.9 L790.9 970.7 L806.4 969.2 L815.3 968.4 L823.6 967.6 L840.5 966.0 L840.9 966.0 L858.2 964.5 L866.6 963.7 L875.4 962.9 L892.7 961.4 L893.6 961.4 L909.9 960.0 L921.6 959.0 L927.2 958.5 L944.4 957.1 L950.5 956.6 L961.7 955.8 L979.0 954.4 L980.4 954.3 L996.2 953.1 L1011.4 951.9 L1013.5 951.8 L1030.7 950.5 L1043.5 949.6 L1048.0 949.2 L1065.2 948.0 L1076.7 947.2 L1082.5 946.8 L1099.7 945.6 L1111.0 944.8 L1117.0 944.4 L1134.3 943.3 L1146.6 942.5 L1151.5 942.2 L1168.8 941.0 L1183.3 940.1 L1186.0 939.9 L1203.3 938.9 L1220.5 937.8 L1221.4 937.7 L1237.8 936.7 L1255.1 935.7 L1260.8 935.4 L1272.3 934.7 L1289.6 933.7 L1301.6 933.0 L1306.8 932.7 L1324.1 931.7 L1341.3 930.7 L1343.8 930.6 L1358.6 929.8 L1375.9 928.9 L1387.4 928.2 L1393.1 927.9 L1410.4 927.0 L1427.6 926.1 L1432.6 925.8 L1444.9 925.2 L1462.1 924.3 L1479.4 923.5" stroke="#0000ff"/>
<path d="M94.1 1321.3 L94.1 1320.7 L94.2 1320.0 L94.2 1319.3 L94.3 1318.5 L94.3 1317.8 L94.4 1317.0 L94.4 1316.1 L94.5 1315.2 L94.5 1314.3 L94.6 1313.3 L94.6 1312.4 L94.7 1311.4 L94.8 1310.3 L94.8 1309.2 L94.9 1308.1 L95.0 1307.0 L95.0 1305.8 L95.1 1304.6 L95.2 1303.4 L95.3 1302.2 L95.3 1300.9 L95.4 1299.6 L95.5 1298.3 L95.6 1296.9 L95.7 1295.6 L95.8 1294.2 L95.9 1292.8 L96.0 1291.4 L96.1 1289.9 L96.2 1288.4 L96.3 1287.0 L96.5 1285.5 L96.6 1283.9 L96.7 1282.4 L96.9 1280.8 L97.0 1279.3 L97.1 1277.7 L97.3 1276.1 L97.5 1274.5 L97.6 1272.9 L97.8 1271.2 L98.0 1269.6 L98.1 1267.9 L98.3 1266.3 L98.5 1264.6 L98.7 1262.9 L98.9 1261.2 L99.2 1259.5 L99.4 1257.8 L99.6 1256.1 L99.9 1254.4 L100.1 1252.7 L100.4 1251.0 L100.6 1249.3 L100.9 1247.6 L101.2 1245.8 L101.5 1244.1 L101.8 1242.4 L102.1 1240.7 L102.5 1239.0 L102.8 1237.2 L103.2 1235.5 L103.5 1233.8 L103.9 1232.1 L104.3 1230.4 L104.7 1228.7 L105.2 1227.0 L105.6 1225.4 L106.1 1223.7 L106.6 1222.0 L107.0 1220.4 L107.6 1218.7 L108.1 1217.1 L108.6 1215.5 L109.2 1213.9 L109.8 1212.3 L110.4 1210.7 L111.1 1209.1 L111.7 1207.5 L112.4 1205.9 L113.1 1204.4 L113.8 1202.8 L114.6 1201.3 L115.4 1199.8 L116.1 1198.5 L116.2 1198.3 L117.1 1196.8 L117.9 1195.3 L118.9 1193.8 L119.8 1192.3 L120.8 1190.9 L121.8 1189.4 L122.8 1188.0 L123.9 1186.5 L125.1 1185.1 L126.2 1183.7 L127.4 1182.3 L128.7 1180.9 L130.0 1179.5 L131.4 1178.2 L132.8 1176.8 L133.4 1176.2 L134.2 1175.5 L135.7 1174.1 L137.3 1172.8 L138.9 1171.5 L140.6 1170.2 L142.3 1168.9 L144.1 1167.6 L146.0 1166.2 L147.9 1164.9 L149.9 1163.6 L150.6 1163.2 L152.0 1162.3 L154.1 1161.0 L156.4 1159.6 L158.7 1158.3 L161.1 1156.9 L163.6 1155.5 L166.2 1154.2 L167.9 1153.2 L168.8 1152.7 L171.6 1151.3 L174.5 1149.8 L177.5 1148.3 L180.5 1146.8 L183.7 1145.3 L185.1 1144.6 L187.1 1143.7 L190.5 1142.1 L194.0 1140.5 L197.7 1138.8 L201.6 1137.2 L202.4 1136.8 L205.5 1135.5 L209.6 1133.8 L213.9 1132.0 L218.3 1130.3 L219.6 1129.8 L222.9 1128.6 L227.6 1126.8 L232.6 1125.0 L236.9 1123.5 L237.7 1123.3 L242.9 1121.5 L248.4 1119.7 L254.1 1117.9 L254.2 1117.9 L260.0 1116.1 L266.1 1114.4 L271.4 1112.9 L272.4 1112.6 L278.9 1110.8 L285.7 1109.1 L288.7 1108.3 L292.8 1107.3 L300.1 1105.6 L305.9 1104.2 L307.6 1103.8 L315.5 1102.1 L323.2 1100.5 L323.6 1100.4 L332.0 1098.7 L340.4 1097.0 L340.8 1097.0 L349.8 1095.3 L357.7 1093.9 L359.2 1093.6 L368.9 1092.0 L375.0 1091.0 L379.0 1090.3 L389.4 1088.7 L392.2 1088.2 L400.3 1087.0 L409.5 1085.7 L411.5 1085.4 L423.1 1083.8 L426.7 1083.3 L435.2 1082.2 L444.0 1081.1 L447.7 1080.6 L460.6 1079.0 L461.2 1079.0 L474.1 1077.5 L478.5 1077.0 L488.0 1075.9 L495.8 1075.1 L502.4 1074.4 L513.0 1073.3 L517.4 1072.8 L530.3 1071.5 L532.9 1071.3 L547.5 1069.9 L548.9 1069.8 L564.8 1068.3 L565.6 1068.2 L582.0 1066.8 L582.8 1066.7 L599.3 1065.3 L600.7 1065.2 L616.6 1063.9 L619.3 1063.7 L633.8 1062.5 L638.5 1062.2 L651.1 1061.2 L658.4 1060.6 L668.3 1059.9 L679.1 1059.1 L685.6 1058.7 L700.5 1057.6 L702.8 1057.5 L720.1 1056.3 L722.7 1056.1 L737.4 1055.2 L745.7 1054.6 L754.6 1054.0 L769.5 1053.1 L771.9 1053.0 L789.1 1051.9 L794.2 1051.6 L806.4 1050.9 L819.8 1050.1 L823.6 1049.9 L840.9 1048.9 L846.4 1048.6 L858.2 1047.9 L873.9 1047.0 L875.4 1046.9 L892.7 1046.0 L902.4 1045.5 L909.9 1045.1 L927.2 1044.2 L932.0 1044.0 L944.4 1043.3 L961.7 1042.5 L962.6 1042.4 L979.0 1041.6 L994.4 1040.9 L996.2 1040.8 L1013.5 1040.0 L1027.3 1039.3 L1030.7 1039.2 L1048.0 1038.4 L1061.5 1037.8 L1065.2 1037.6 L1082.5 1036.8 L1096.8 1036.2 L1099.7 1036.1 L1117.0 1035.3 L1133.5 1034.6 L1134.3 1034.6 L1151.5 1033.8 L1168.8 1033.1 L1171.5 1033.0 L1186.0 1032.4 L1203.3 1031.7 L1210.9 1031.4 L1220.5 1031.0 L1237.8 1030.3 L1251.7 1029.8 L1255.1 1029.7 L1272.3 1029.0 L1289.6 1028.3 L1294.1 1028.2 L1306.8 1027.7 L1324.1 1027.0 L1337.9 1026.5 L1341.3 1026.4 L1358.6 1025.8 L1375.9 1025.1 L1383.4 1024.9 L1393.1 1024.5 L1410.4 1023.9 L1427.6 1023.3 L1430.5 1023.2 L1444.9 1022.7 L1462.1 1022.1 L1479.4 1021.5" stroke="#7fffd4"/>
<path d="M93.5 1278.3 L93.5 1278.3 L93.5 1278.3 L93.6 1278.2 L93.6 1278.2 L93.6 1278.1 L93.6 1278.0 L93.7 1277.9 L93.7 1277.7 L93.7 1277.6 L93.7 1277.4 L93.8 1277.2 L93.8 1277.0 L93.8 1276.7 L93.9 1276.5 L93.9 1276.2 L93.9 1275.9 L94.0 1275.6 L94.0 1275.3 L94.1 1275.0 L94.1 1274.6 L94.2 1274.2 L94.2 1273.9 L94.2 1273.5 L94.3 1273.0 L94.4 1272.6 L94.4 1272.2 L94.5 1271.7 L94.5 1271.2 L94.6 1270.7 L94.7 1270.2 L94.7 1269.7 L94.8 1269.2 L94.9 1268.6 L94.9 1268.0 L95.0 1267.5 L95.1 1266.9 L95.2 1266.3 L95.3 1265.7 L95.4 1265.0 L95.5 1264.4 L95.6 1263.8 L95.7 1263.1 L95.8 1262.4 L95.9 1261.7 L96.0 1261.0 L96.1 1260.3 L96.3 1259.6 L96.4 1258.9 L96.5 1258.2 L96.7 1257.4 L96.8 1256.7 L97.0 1255.9 L97.1 1255.1 L97.3 1254.3 L97.5 1253.5 L97.7 1252.7 L97.8 1251.9 L98.0 1251.1 L98.2 1250.3 L98.5 1249.5 L98.7 1248.6 L98.9 1247.8 L99.2 1246.9 L99.4 1246.1 L99.7 1245.2 L99.9 1244.3 L100.2 1243.5 L100.5 1242.6 L100.8 1241.7 L101.1 1240.8 L101.5 1239.9 L101.8 1239.0 L102.2 1238.1 L102.5 1237.2 L102.9 1236.3 L103.3 1235.3 L103.7 1234.4 L104.2 1233.5 L104.6 1232.5 L105.1 1231.6 L105.6 1230.7 L106.1 1229.7 L106.6 1228.8 L107.2 1227.9 L107.8 1226.9 L108.4 1226.0 L109.0 1225.0 L109.7 1224.1 L110.3 1223.1 L111.0 1222.2 L111.8 1221.2 L112.5 1220.3 L113.3 1219.3 L114.1 1218.3 L115.0 1217.4 L115.9 1216.4 L116.1 1216.2 L116.8 1215.5 L117.8 1214.5 L118.8 1213.6 L119.9 1212.6 L120.9 1211.7 L122.1 1210.7 L123.3 1209.8 L124.5 1208.8 L125.8 1207.9 L127.1 1206.9 L128.5 1205.9 L129.9 1205.0 L131.4 1204.0 L133.0 1203.1 L133.4 1202.9 L134.6 1202.1 L136.3 1201.2 L138.1 1200.2 L139.9 1199.3 L141.8 1198.3 L143.8 1197.4 L145.9 1196.4 L148.0 1195.5 L150.3 1194.6 L150.6 1194.4 L152.6 1193.6 L155.0 1192.7 L157.5 1191.7 L160.1 1190.8 L162.9 1189.8 L165.7 1188.9 L167.9 1188.2 L168.7 1188.0 L171.7 1187.0 L174.9 1186.1 L178.3 1185.2 L181.7 1184.2 L185.1 1183.4 L185.3 1183.3 L189.1 1182.4 L193.0 1181.5 L197.1 1180.5 L201.3 1179.6 L202.4 1179.4 L205.7 1178.7 L210.3 1177.8 L215.0 1176.8 L219.6 1176.0 L220.0 1175.9 L225.2 1175.0 L230.5 1174.1 L236.1 1173.2 L236.9 1173.0 L241.9 1172.3 L248.0 1171.3 L254.2 1170.4 L254.3 1170.4 L260.9 1169.5 L267.7 1168.6 L271.4 1168.1 L274.8 1167.7 L282.2 1166.8 L288.7 1166.0 L289.8 1165.9 L297.8 1165.0 L305.9 1164.1 L306.2 1164.1 L314.8 1163.1 L323.2 1162.3 L323.9 1162.2 L333.2 1161.3 L340.4 1160.7 L343.0 1160.4 L353.2 1159.5 L357.7 1159.1 L363.7 1158.6 L374.7 1157.7 L375.0 1157.7 L386.2 1156.8 L392.2 1156.3 L398.1 1155.9 L409.5 1155.1 L410.5 1155.0 L423.4 1154.1 L426.7 1153.9 L436.8 1153.2 L444.0 1152.7 L450.8 1152.3 L461.2 1151.6 L465.4 1151.4 L478.5 1150.6 L480.5 1150.5 L495.8 1149.6 L496.2 1149.6 L512.6 1148.7 L513.0 1148.6 L529.7 1147.8 L530.3 1147.7 L547.4 1146.8 L547.5 1146.8 L564.8 1146.0 L565.9 1145.9 L582.0 1145.2 L585.1 1145.0 L599.3 1144.4 L605.1 1144.1 L616.6 1143.6 L625.9 1143.2 L633.8 1142.9 L647.6 1142.3 L651.1 1142.2 L668.3 1141.5 L670.1 1141.4 L685.6 1140.8 L693.6 1140.5 L702.8 1140.1 L718.0 1139.6 L720.1 1139.5 L737.4 1138.9 L743.4 1138.7 L754.6 1138.3 L769.8 1137.8 L771.9 1137.7 L789.1 1137.1 L797.3 1136.9 L806.4 1136.6 L823.6 1136.0 L825.9 1135.9 L840.9 1135.5 L855.7 1135.0 L858.2 1135.0 L875.4 1134.4 L886.7 1134.1 L892.7 1133.9 L909.9 1133.5 L919.0 1133.2 L927.2 1133.0 L944.4 1132.5 L952.6 1132.3 L961.7 1132.0 L979.0 1131.6 L987.5 1131.4 L996.2 1131.1 L1013.5 1130.7 L1023.8 1130.4 L1030.7 1130.3 L1048.0 1129.9 L1061.7 1129.5 L1065.2 1129.4 L1082.5 1129.0 L1099.7 1128.6 L1101.0 1128.6 L1117.0 1128.2 L1134.3 1127.9 L1142.0 1127.7 L1151.5 1127.5 L1168.8 1127.1 L1184.6 1126.8 L1186.0 1126.7 L1203.3 1126.4 L1220.5 1126.0 L1229.0 1125.8 L1237.8 1125.7 L1255.1 1125.3 L1272.3 1125.0 L1275.2 1124.9 L1289.6 1124.6 L1306.8 1124.3 L1323.2 1124.0 L1324.1 1124.0 L1341.3 1123.6 L1358.6 1123.3 L1373.2 1123.1 L1375.9 1123.0 L1393.1 1122.7 L1410.4 1122.4 L1425.3 1122.1 L1427.6 1122.1 L1444.9 1121.8 L1462.1 1121.5 L1479.4 1121.2" stroke="#00ff00"/>
<path d="M94.0 1243.3 L94.0 1243.1 L94.1 1242.8 L94.1 1242.6 L94.2 1242.4 L94.2 1242.1 L94.2 1241.9 L94.3 1241.6 L94.3 1241.4 L94.4 1241.2 L94.4 1240.9 L94.5 1240.7 L94.5 1240.4 L94.6 1240.2 L94.7 1239.9 L94.7 1239.7 L94.8 1239.4 L94.9 1239.2 L94.9 1238.9 L95.0 1238.7 L95.1 1238.5 L95.1 1238.2 L95.2 1238.0 L95.3 1237.7 L95.4 1237.5 L95.5 1237.2 L95.6 1237.0 L95.7 1236.7 L95.8 1236.5 L95.9 1236.2 L96.0 1235.9 L96.1 1235.7 L96.2 1235.4 L96.3 1235.2 L96.4 1234.9 L96.6 1234.7 L96.7 1234.4 L96.8 1234.2 L97.0 1233.9 L97.1 1233.7 L97.3 1233.4 L97.4 1233.1 L97.6 1232.9 L97.8 1232.6 L98.0 1232.4 L98.1 1232.1 L98.3 1231.9 L98.5 1231.6 L98.7 1231.3 L98.9 1231.1 L99.2 1230.8 L99.4 1230.6 L99.6 1230.3 L99.9 1230.0 L100.1 1229.8 L100.4 1229.5 L100.7 1229.2 L100.9 1229.0 L101.2 1228.7 L101.5 1228.5 L101.9 1228.2 L102.2 1227.9 L102.5 1227.7 L102.9 1227.4 L103.2 1227.1 L103.6 1226.9 L104.0 1226.6 L104.4 1226.3 L104.8 1226.1 L105.3 1225.8 L105.7 1225.5 L106.2 1225.3 L106.7 1225.0 L107.2 1224.7 L107.7 1224.5 L108.3 1224.2 L108.8 1223.9 L109.4 1223.6 L110.0 1223.4 L110.7 1223.1 L111.3 1222.8 L112.0 1222.6 L112.7 1222.3 L113.4 1222.0 L114.2 1221.8 L115.0 1221.5 L115.8 1221.2 L116.1 1221.1 L116.6 1220.9 L117.5 1220.7 L118.4 1220.4 L119.4 1220.1 L120.3 1219.8 L121.3 1219.6 L122.4 1219.3 L123.5 1219.0 L124.6 1218.7 L125.8 1218.5 L127.0 1218.2 L128.3 1217.9 L129.6 1217.6 L130.9 1217.4 L132.3 1217.1 L133.4 1216.9 L133.8 1216.8 L135.3 1216.5 L136.9 1216.3 L138.5 1216.0 L140.2 1215.7 L141.9 1215.4 L143.7 1215.2 L145.6 1214.9 L147.5 1214.6 L149.6 1214.3 L150.6 1214.2 L151.7 1214.0 L153.8 1213.8 L156.1 1213.5 L158.4 1213.2 L160.8 1212.9 L163.3 1212.6 L166.0 1212.4 L167.9 1212.2 L168.7 1212.1 L171.5 1211.8 L174.4 1211.5 L177.4 1211.2 L180.5 1211.0 L183.7 1210.7 L185.1 1210.6 L187.1 1210.4 L190.6 1210.1 L194.2 1209.8 L197.9 1209.6 L201.8 1209.3 L202.4 1209.2 L205.8 1209.0 L210.0 1208.7 L214.4 1208.4 L218.9 1208.1 L219.6 1208.1 L223.5 1207.9 L228.3 1207.6 L233.4 1207.3 L236.9 1207.1 L238.5 1207.0 L243.9 1206.7 L249.5 1206.4 L254.2 1206.2 L255.3 1206.2 L261.3 1205.9 L267.6 1205.6 L271.4 1205.4 L274.0 1205.3 L280.7 1205.0 L287.7 1204.7 L288.7 1204.7 L294.9 1204.5 L302.4 1204.2 L305.9 1204.0 L310.1 1203.9 L318.1 1203.6 L323.2 1203.4 L326.5 1203.3 L335.1 1203.0 L340.4 1202.9 L344.1 1202.7 L353.4 1202.5 L357.7 1202.3 L363.0 1202.2 L373.0 1201.9 L375.0 1201.8 L383.4 1201.6 L392.2 1201.4 L394.1 1201.3 L405.3 1201.0 L409.5 1200.9 L416.9 1200.7 L426.7 1200.5 L428.8 1200.5 L441.3 1200.2 L444.0 1200.1 L454.2 1199.9 L461.2 1199.7 L467.5 1199.6 L478.5 1199.4 L481.4 1199.3 L495.8 1199.0 L495.8 1199.0 L510.7 1198.7 L513.0 1198.7 L526.2 1198.5 L530.3 1198.4 L542.2 1198.2 L547.5 1198.1 L558.8 1197.9 L564.8 1197.8 L576.1 1197.6 L582.0 1197.5 L594.0 1197.3 L599.3 1197.2 L612.5 1197.0 L616.6 1197.0 L631.8 1196.7 L633.8 1196.7 L651.1 1196.5 L651.7 1196.4 L668.3 1196.2 L672.4 1196.2 L685.6 1196.0 L693.8 1195.9 L702.8 1195.8 L716.1 1195.6 L720.1 1195.5 L737.4 1195.3 L739.1 1195.3 L754.6 1195.1 L763.1 1195.0 L771.9 1194.9 L787.9 1194.7 L789.1 1194.7 L806.4 1194.5 L813.6 1194.4 L823.6 1194.3 L840.3 1194.1 L840.9 1194.1 L858.2 1194.0 L868.0 1193.9 L875.4 1193.8 L892.7 1193.6 L896.6 1193.6 L909.9 1193.4 L926.4 1193.3 L927.2 1193.3 L944.4 1193.1 L957.3 1193.0 L961.7 1193.0 L979.0 1192.8 L989.2 1192.7 L996.2 1192.6 L1013.5 1192.5 L1022.4 1192.4 L1030.7 1192.4 L1048.0 1192.2 L1056.8 1192.1 L1065.2 1192.1 L1082.5 1191.9 L1092.5 1191.8 L1099.7 1191.8 L1117.0 1191.7 L1129.5 1191.6 L1134.3 1191.5 L1151.5 1191.4 L1167.9 1191.3 L1168.8 1191.3 L1186.0 1191.1 L1203.3 1191.0 L1207.7 1191.0 L1220.5 1190.9 L1237.8 1190.8 L1249.0 1190.7 L1255.1 1190.7 L1272.3 1190.5 L1289.6 1190.4 L1291.8 1190.4 L1306.8 1190.3 L1324.1 1190.2 L1336.1 1190.1 L1341.3 1190.1 L1358.6 1190.0 L1375.9 1189.9 L1382.2 1189.8 L1393.1 1189.8 L1410.4 1189.7 L1427.6 1189.6 L1429.9 1189.5 L1444.9 1189.5 L1462.1 1189.4 L1479.4 1189.3" stroke="#ff8c00"/>
<path d="M94.5 1219.5 L94.6 1219.5 L94.6 1219.6 L94.7 1219.7 L94.7 1219.7 L94.8 1219.8 L94.8 1219.8 L94.9 1219.9 L95.0 1219.9 L95.0 1220.0 L95.1 1220.0 L95.2 1220.1 L95.3 1220.2 L95.3 1220.2 L95.4 1220.3 L95.5 1220.3 L95.6 1220.4 L95.7 1220.5 L95.8 1220.5 L95.9 1220.6 L96.0 1220.6 L96.1 1220.7 L96.2 1220.8 L96.3 1220.8 L96.4 1220.9 L96.5 1221.0 L96.7 1221.0 L96.8 1221.1 L96.9 1221.2 L97.1 1221.2 L97.2 1221.3 L97.3 1221.4 L97.5 1221.4 L97.7 1221.5 L97.8 1221.6 L98.0 1221.7 L98.2 1221.7 L98.3 1221.8 L98.5 1221.9 L98.7 1221.9 L98.9 1222.0 L99.1 1222.1 L99.3 1222.2 L99.6 1222.2 L99.8 1222.3 L100.0 1222.4 L100.3 1222.5 L100.5 1222.5 L100.8 1222.6 L101.1 1222.7 L101.3 1222.8 L101.6 1222.8 L101.9 1222.9 L102.2 1223.0 L102.6 1223.1 L102.9 1223.1 L103.2 1223.2 L103.6 1223.3 L104.0 1223.4 L104.4 1223.5 L104.8 1223.5 L105.2 1223.6 L105.6 1223.7 L106.0 1223.8 L106.5 1223.9 L107.0 1223.9 L107.4 1224.0 L107.9 1224.1 L108.5 1224.2 L109.0 1224.3 L109.6 1224.3 L110.1 1224.4 L110.7 1224.5 L111.4 1224.6 L112.0 1224.7 L112.7 1224.8 L113.4 1224.8 L114.1 1224.9 L114.8 1225.0 L115.6 1225.1 L116.1 1225.2 L116.4 1225.2 L117.2 1225.3 L118.0 1225.4 L118.9 1225.4 L119.8 1225.5 L120.7 1225.6 L121.7 1225.7 L122.7 1225.8 L123.7 1225.9 L124.8 1226.0 L125.9 1226.0 L127.1 1226.1 L128.3 1226.2 L129.5 1226.3 L130.8 1226.4 L132.1 1226.5 L133.4 1226.6 L133.4 1226.6 L134.9 1226.6 L136.3 1226.7 L137.8 1226.8 L139.4 1226.9 L141.0 1227.0 L142.7 1227.1 L144.4 1227.2 L146.2 1227.3 L148.1 1227.3 L150.0 1227.4 L150.6 1227.5 L152.0 1227.5 L154.0 1227.6 L156.2 1227.7 L158.4 1227.8 L160.7 1227.9 L163.0 1228.0 L165.5 1228.0 L167.9 1228.1 L168.0 1228.1 L170.6 1228.2 L173.3 1228.3 L176.1 1228.4 L179.0 1228.5 L182.0 1228.6 L185.1 1228.7 L185.2 1228.7 L188.4 1228.7 L191.7 1228.8 L195.1 1228.9 L198.7 1229.0 L202.4 1229.1 L202.4 1229.1 L206.2 1229.2 L210.2 1229.3 L214.3 1229.3 L218.5 1229.4 L219.6 1229.5 L222.9 1229.5 L227.4 1229.6 L232.1 1229.7 L236.9 1229.8 L237.0 1229.8 L242.0 1229.9 L247.2 1230.0 L252.6 1230.0 L254.2 1230.1 L258.1 1230.1 L263.9 1230.2 L269.9 1230.3 L271.4 1230.3 L276.1 1230.4 L282.4 1230.5 L288.7 1230.5 L289.1 1230.5 L295.9 1230.6 L303.0 1230.7 L305.9 1230.8 L310.3 1230.8 L317.9 1230.9 L323.2 1230.9 L325.8 1231.0 L333.9 1231.1 L340.4 1231.1 L342.3 1231.1 L351.0 1231.2 L357.7 1231.3 L360.0 1231.3 L369.3 1231.4 L375.0 1231.4 L379.0 1231.5 L389.0 1231.5 L392.2 1231.6 L399.3 1231.6 L409.5 1231.7 L410.0 1231.7 L421.1 1231.8 L426.7 1231.8 L432.5 1231.9 L444.0 1232.0 L444.4 1232.0 L456.6 1232.0 L461.2 1232.1 L469.3 1232.1 L478.5 1232.2 L482.5 1232.2 L495.8 1232.3 L496.1 1232.3 L510.1 1232.4 L513.0 1232.4 L524.7 1232.4 L530.3 1232.5 L539.8 1232.5 L547.5 1232.6 L555.4 1232.6 L564.8 1232.6 L571.5 1232.7 L582.0 1232.7 L588.2 1232.8 L599.3 1232.8 L605.5 1232.8 L616.6 1232.9 L623.4 1232.9 L633.8 1232.9 L641.9 1233.0 L651.1 1233.0 L661.1 1233.1 L668.3 1233.1 L680.9 1233.1 L685.6 1233.2 L701.4 1233.2 L702.8 1233.2 L720.1 1233.3 L722.7 1233.3 L737.4 1233.3 L744.6 1233.4 L754.6 1233.4 L767.4 1233.4 L771.9 1233.4 L789.1 1233.5 L790.9 1233.5 L806.4 1233.6 L815.3 1233.6 L823.6 1233.6 L840.5 1233.7 L840.9 1233.7 L858.2 1233.7 L866.6 1233.7 L875.4 1233.8 L892.7 1233.8 L893.6 1233.8 L909.9 1233.8 L921.6 1233.9 L927.2 1233.9 L944.4 1233.9 L950.5 1233.9 L961.7 1234.0 L979.0 1234.0 L980.4 1234.0 L996.2 1234.1 L1011.4 1234.1 L1013.5 1234.1 L1030.7 1234.1 L1043.5 1234.2 L1048.0 1234.2 L1065.2 1234.2 L1076.7 1234.2 L1082.5 1234.2 L1099.7 1234.3 L1111.0 1234.3 L1117.0 1234.3 L1134.3 1234.3 L1146.6 1234.4 L1151.5 1234.4 L1168.8 1234.4 L1183.3 1234.4 L1186.0 1234.4 L1203.3 1234.5 L1220.5 1234.5 L1221.4 1234.5 L1237.8 1234.5 L1255.1 1234.6 L1260.8 1234.6 L1272.3 1234.6 L1289.6 1234.6 L1301.6 1234.6 L1306.8 1234.6 L1324.1 1234.7 L1341.3 1234.7 L1343.8 1234.7 L1358.6 1234.7 L1375.9 1234.8 L1387.4 1234.8 L1393.1 1234.8 L1410.4 1234.8 L1427.6 1234.8 L1432.6 1234.8 L1444.9 1234.9 L1462.1 1234.9 L1479.4 1234.9" stroke="#ff0000"/>
<path d="M94.0 1198.0 L94.0 1198.4 L94.1 1198.8 L94.1 1199.2 L94.2 1199.6 L94.2 1199.9 L94.2 1200.3 L94.3 1200.7 L94.3 1201.1 L94.4 1201.5 L94.4 1201.9 L94.5 1202.2 L94.5 1202.6 L94.6 1203.0 L94.7 1203.4 L94.7 1203.8 L94.8 1204.1 L94.9 1204.5 L94.9 1204.9 L95.0 1205.3 L95.1 1205.6 L95.1 1206.0 L95.2 1206.4 L95.3 1206.8 L95.4 1207.1 L95.5 1207.5 L95.6 1207.9 L95.7 1208.3 L95.8 1208.6 L95.9 1209.0 L96.0 1209.4 L96.1 1209.7 L96.2 1210.1 L96.3 1210.5 L96.4 1210.8 L96.6 1211.2 L96.7 1211.6 L96.8 1211.9 L97.0 1212.3 L97.1 1212.7 L97.3 1213.0 L97.4 1213.4 L97.6 1213.8 L97.8 1214.1 L98.0 1214.5 L98.1 1214.9 L98.3 1215.2 L98.5 1215.6 L98.7 1215.9 L98.9 1216.3 L99.2 1216.7 L99.4 1217.0 L99.6 1217.4 L99.9 1217.7 L100.1 1218.1 L100.4 1218.5 L100.7 1218.8 L100.9 1219.2 L101.2 1219.5 L101.5 1219.9 L101.9 1220.2 L102.2 1220.6 L102.5 1221.0 L102.9 1221.3 L103.2 1221.7 L103.6 1222.0 L104.0 1222.4 L104.4 1222.7 L104.8 1223.1 L105.3 1223.4 L105.7 1223.8 L106.2 1224.1 L106.7 1224.5 L107.2 1224.8 L107.7 1225.2 L108.3 1225.5 L108.8 1225.9 L109.4 1226.2 L110.0 1226.6 L110.7 1226.9 L111.3 1227.3 L112.0 1227.6 L112.7 1228.0 L113.4 1228.3 L114.2 1228.7 L115.0 1229.0 L115.8 1229.4 L116.1 1229.5 L116.6 1229.7 L117.5 1230.1 L118.4 1230.4 L119.4 1230.8 L120.3 1231.1 L121.3 1231.4 L122.4 1231.8 L123.5 1232.1 L124.6 1232.5 L125.8 1232.8 L127.0 1233.2 L128.3 1233.5 L129.6 1233.9 L130.9 1234.2 L132.3 1234.5 L133.4 1234.8 L133.8 1234.9 L135.3 1235.2 L136.9 1235.6 L138.5 1235.9 L140.2 1236.3 L141.9 1236.6 L143.7 1236.9 L145.6 1237.3 L147.5 1237.6 L149.6 1238.0 L150.6 1238.1 L151.7 1238.3 L153.8 1238.7 L156.1 1239.0 L158.4 1239.3 L160.8 1239.7 L163.3 1240.0 L166.0 1240.4 L167.9 1240.6 L168.7 1240.7 L171.5 1241.0 L174.4 1241.4 L177.4 1241.7 L180.5 1242.1 L183.7 1242.4 L185.1 1242.6 L187.1 1242.8 L190.6 1243.1 L194.2 1243.4 L197.9 1243.8 L201.8 1244.1 L202.4 1244.2 L205.8 1244.5 L210.0 1244.8 L214.4 1245.1 L218.9 1245.5 L219.6 1245.5 L223.5 1245.8 L228.3 1246.2 L233.4 1246.5 L236.9 1246.7 L238.5 1246.8 L243.9 1247.2 L249.5 1247.5 L254.2 1247.8 L255.3 1247.9 L261.3 1248.2 L267.6 1248.5 L271.4 1248.7 L274.0 1248.9 L280.7 1249.2 L287.7 1249.6 L288.7 1249.6 L294.9 1249.9 L302.4 1250.2 L305.9 1250.4 L310.1 1250.6 L318.1 1250.9 L323.2 1251.1 L326.5 1251.3 L335.1 1251.6 L340.4 1251.8 L344.1 1251.9 L353.4 1252.3 L357.7 1252.4 L363.0 1252.6 L373.0 1253.0 L375.0 1253.0 L383.4 1253.3 L392.2 1253.6 L394.1 1253.7 L405.3 1254.0 L409.5 1254.1 L416.9 1254.3 L426.7 1254.6 L428.8 1254.7 L441.3 1255.0 L444.0 1255.1 L454.2 1255.4 L461.2 1255.5 L467.5 1255.7 L478.5 1256.0 L481.4 1256.0 L495.8 1256.4 L495.8 1256.4 L510.7 1256.7 L513.0 1256.8 L526.2 1257.1 L530.3 1257.2 L542.2 1257.4 L547.5 1257.5 L558.8 1257.8 L564.8 1257.9 L576.1 1258.1 L582.0 1258.2 L594.0 1258.4 L599.3 1258.5 L612.5 1258.8 L616.6 1258.9 L631.8 1259.1 L633.8 1259.2 L651.1 1259.5 L651.7 1259.5 L668.3 1259.8 L672.4 1259.8 L685.6 1260.0 L693.8 1260.2 L702.8 1260.3 L716.1 1260.5 L720.1 1260.6 L737.4 1260.8 L739.1 1260.9 L754.6 1261.1 L763.1 1261.2 L771.9 1261.3 L787.9 1261.5 L789.1 1261.6 L806.4 1261.8 L813.6 1261.9 L823.6 1262.0 L840.3 1262.2 L840.9 1262.2 L858.2 1262.5 L868.0 1262.6 L875.4 1262.7 L892.7 1262.9 L896.6 1262.9 L909.9 1263.1 L926.4 1263.3 L927.2 1263.3 L944.4 1263.5 L957.3 1263.6 L961.7 1263.7 L979.0 1263.9 L989.2 1264.0 L996.2 1264.0 L1013.5 1264.2 L1022.4 1264.3 L1030.7 1264.4 L1048.0 1264.6 L1056.8 1264.7 L1065.2 1264.7 L1082.5 1264.9 L1092.5 1265.0 L1099.7 1265.1 L1117.0 1265.2 L1129.5 1265.4 L1134.3 1265.4 L1151.5 1265.6 L1167.9 1265.7 L1168.8 1265.7 L1186.0 1265.9 L1203.3 1266.0 L1207.7 1266.0 L1220.5 1266.2 L1237.8 1266.3 L1249.0 1266.4 L1255.1 1266.4 L1272.3 1266.6 L1289.6 1266.7 L1291.8 1266.7 L1306.8 1266.9 L1324.1 1267.0 L1336.1 1267.1 L1341.3 1267.1 L1358.6 1267.3 L1375.9 1267.4 L1382.2 1267.4 L1393.1 1267.5 L1410.4 1267.7 L1427.6 1267.8 L1429.9 1267.8 L1444.9 1267.9 L1462.1 1268.0 L1479.4 1268.1" stroke="#dc143c"/>
<path d="M94.0 1190.2 L94.0 1190.5 L94.1 1190.8 L94.1 1191.2 L94.2 1191.5 L94.2 1191.8 L94.2 1192.1 L94.3 1192.4 L94.3 1192.8 L94.4 1193.1 L94.4 1193.4 L94.5 1193.8 L94.5 1194.1 L94.6 1194.5 L94.7 1194.8 L94.7 1195.1 L94.8 1195.5 L94.9 1195.8 L94.9 1196.2 L95.0 1196.6 L95.1 1196.9 L95.1 1197.3 L95.2 1197.6 L95.3 1198.0 L95.4 1198.3 L95.5 1198.7 L95.6 1199.1 L95.7 1199.4 L95.8 1199.8 L95.9 1200.2 L96.0 1200.6 L96.1 1200.9 L96.2 1201.3 L96.3 1201.7 L96.4 1202.1 L96.6 1202.5 L96.7 1202.9 L96.8 1203.2 L97.0 1203.6 L97.1 1204.0 L97.3 1204.4 L97.4 1204.8 L97.6 1205.2 L97.8 1205.6 L98.0 1206.0 L98.1 1206.4 L98.3 1206.8 L98.5 1207.2 L98.7 1207.6 L98.9 1208.0 L99.2 1208.4 L99.4 1208.8 L99.6 1209.2 L99.9 1209.6 L100.1 1210.1 L100.4 1210.5 L100.7 1210.9 L100.9 1211.3 L101.2 1211.7 L101.5 1212.1 L101.9 1212.6 L102.2 1213.0 L102.5 1213.4 L102.9 1213.8 L103.2 1214.3 L103.6 1214.7 L104.0 1215.1 L104.4 1215.6 L104.8 1216.0 L105.3 1216.4 L105.7 1216.9 L106.2 1217.3 L106.7 1217.7 L107.2 1218.2 L107.7 1218.6 L108.3 1219.0 L108.8 1219.5 L109.4 1219.9 L110.0 1220.4 L110.7 1220.8 L111.3 1221.2 L112.0 1221.7 L112.7 1222.1 L113.4 1222.6 L114.2 1223.0 L115.0 1223.5 L115.8 1223.9 L116.1 1224.1 L116.6 1224.4 L117.5 1224.8 L118.4 1225.3 L119.4 1225.7 L120.3 1226.2 L121.3 1226.6 L122.4 1227.1 L123.5 1227.6 L124.6 1228.0 L125.8 1228.5 L127.0 1228.9 L128.3 1229.4 L129.6 1229.8 L130.9 1230.3 L132.3 1230.8 L133.4 1231.1 L133.8 1231.2 L135.3 1231.7 L136.9 1232.1 L138.5 1232.6 L140.2 1233.1 L141.9 1233.5 L143.7 1234.0 L145.6 1234.5 L147.5 1234.9 L149.6 1235.4 L150.6 1235.6 L151.7 1235.9 L153.8 1236.3 L156.1 1236.8 L158.4 1237.3 L160.8 1237.7 L163.3 1238.2 L166.0 1238.7 L167.9 1239.0 L168.7 1239.1 L171.5 1239.6 L174.4 1240.1 L177.4 1240.5 L180.5 1241.0 L183.7 1241.5 L185.1 1241.7 L187.1 1241.9 L190.6 1242.4 L194.2 1242.9 L197.9 1243.4 L201.8 1243.8 L202.4 1243.9 L205.8 1244.3 L210.0 1244.8 L214.4 1245.2 L218.9 1245.7 L219.6 1245.8 L223.5 1246.2 L228.3 1246.6 L233.4 1247.1 L236.9 1247.4 L238.5 1247.6 L243.9 1248.1 L249.5 1248.5 L254.2 1248.9 L255.3 1249.0 L261.3 1249.5 L267.6 1249.9 L271.4 1250.2 L274.0 1250.4 L280.7 1250.9 L287.7 1251.3 L288.7 1251.4 L294.9 1251.8 L302.4 1252.3 L305.9 1252.5 L310.1 1252.7 L318.1 1253.2 L323.2 1253.5 L326.5 1253.7 L335.1 1254.2 L340.4 1254.4 L344.1 1254.6 L353.4 1255.1 L357.7 1255.3 L363.0 1255.6 L373.0 1256.0 L375.0 1256.1 L383.4 1256.5 L392.2 1256.9 L394.1 1257.0 L405.3 1257.4 L409.5 1257.6 L416.9 1257.9 L426.7 1258.3 L428.8 1258.3 L441.3 1258.8 L444.0 1258.9 L454.2 1259.3 L461.2 1259.5 L467.5 1259.7 L478.5 1260.1 L481.4 1260.2 L495.8 1260.7 L495.8 1260.7 L510.7 1261.1 L513.0 1261.2 L526.2 1261.6 L530.3 1261.7 L542.2 1262.0 L547.5 1262.2 L558.8 1262.5 L564.8 1262.7 L576.1 1263.0 L582.0 1263.1 L594.0 1263.4 L599.3 1263.6 L612.5 1263.9 L616.6 1264.0 L631.8 1264.3 L633.8 1264.4 L651.1 1264.8 L651.7 1264.8 L668.3 1265.2 L672.4 1265.3 L685.6 1265.5 L693.8 1265.7 L702.8 1265.9 L716.1 1266.2 L720.1 1266.2 L737.4 1266.6 L739.1 1266.6 L754.6 1266.9 L763.1 1267.1 L771.9 1267.2 L787.9 1267.5 L789.1 1267.5 L806.4 1267.9 L813.6 1268.0 L823.6 1268.1 L840.3 1268.4 L840.9 1268.4 L858.2 1268.7 L868.0 1268.9 L875.4 1269.0 L892.7 1269.3 L896.6 1269.3 L909.9 1269.5 L926.4 1269.8 L927.2 1269.8 L944.4 1270.0 L957.3 1270.2 L961.7 1270.3 L979.0 1270.5 L989.2 1270.7 L996.2 1270.8 L1013.5 1271.0 L1022.4 1271.1 L1030.7 1271.2 L1048.0 1271.4 L1056.8 1271.6 L1065.2 1271.7 L1082.5 1271.9 L1092.5 1272.0 L1099.7 1272.1 L1117.0 1272.3 L1129.5 1272.4 L1134.3 1272.5 L1151.5 1272.7 L1167.9 1272.9 L1168.8 1272.9 L1186.0 1273.1 L1203.3 1273.3 L1207.7 1273.3 L1220.5 1273.5 L1237.8 1273.6 L1249.0 1273.8 L1255.1 1273.8 L1272.3 1274.0 L1289.6 1274.2 L1291.8 1274.2 L1306.8 1274.4 L1324.1 1274.5 L1336.1 1274.6 L1341.3 1274.7 L1358.6 1274.9 L1375.9 1275.0 L1382.2 1275.1 L1393.1 1275.2 L1410.4 1275.3 L1427.6 1275.5 L1429.9 1275.5 L1444.9 1275.6 L1462.1 1275.8 L1479.4 1275.9" stroke="#b22222"/>
<path d="M94.5 1205.4 L94.6 1205.8 L94.6 1206.1 L94.7 1206.5 L94.7 1206.9 L94.8 1207.3 L94.8 1207.6 L94.9 1208.0 L95.0 1208.4 L95.0 1208.8 L95.1 1209.2 L95.2 1209.6 L95.3 1209.9 L95.3 1210.3 L95.4 1210.7 L95.5 1211.1 L95.6 1211.5 L95.7 1211.9 L95.8 1212.3 L95.9 1212.7 L96.0 1213.1 L96.1 1213.5 L96.2 1213.9 L96.3 1214.3 L96.4 1214.7 L96.5 1215.1 L96.7 1215.5 L96.8 1215.9 L96.9 1216.3 L97.1 1216.7 L97.2 1217.1 L97.3 1217.5 L97.5 1217.9 L97.7 1218.3 L97.8 1218.7 L98.0 1219.1 L98.2 1219.5 L98.3 1219.9 L98.5 1220.3 L98.7 1220.7 L98.9 1221.2 L99.1 1221.6 L99.3 1222.0 L99.6 1222.4 L99.8 1222.8 L100.0 1223.2 L100.3 1223.6 L100.5 1224.1 L100.8 1224.5 L101.1 1224.9 L101.3 1225.3 L101.6 1225.7 L101.9 1226.2 L102.2 1226.6 L102.6 1227.0 L102.9 1227.4 L103.2 1227.9 L103.6 1228.3 L104.0 1228.7 L104.4 1229.1 L104.8 1229.6 L105.2 1230.0 L105.6 1230.4 L106.0 1230.8 L106.5 1231.3 L107.0 1231.7 L107.4 1232.1 L107.9 1232.6 L108.5 1233.0 L109.0 1233.4 L109.6 1233.9 L110.1 1234.3 L110.7 1234.7 L111.4 1235.1 L112.0 1235.6 L112.7 1236.0 L113.4 1236.4 L114.1 1236.9 L114.8 1237.3 L115.6 1237.7 L116.1 1238.0 L116.4 1238.2 L117.2 1238.6 L118.0 1239.1 L118.9 1239.5 L119.8 1239.9 L120.7 1240.4 L121.7 1240.8 L122.7 1241.2 L123.7 1241.7 L124.8 1242.1 L125.9 1242.5 L127.1 1243.0 L128.3 1243.4 L129.5 1243.9 L130.8 1244.3 L132.1 1244.7 L133.4 1245.1 L133.4 1245.2 L134.9 1245.6 L136.3 1246.0 L137.8 1246.5 L139.4 1246.9 L141.0 1247.4 L142.7 1247.8 L144.4 1248.2 L146.2 1248.7 L148.1 1249.1 L150.0 1249.6 L150.6 1249.7 L152.0 1250.0 L154.0 1250.4 L156.2 1250.9 L158.4 1251.3 L160.7 1251.7 L163.0 1252.2 L165.5 1252.6 L167.9 1253.0 L168.0 1253.1 L170.6 1253.5 L173.3 1253.9 L176.1 1254.4 L179.0 1254.8 L182.0 1255.2 L185.1 1255.7 L185.2 1255.7 L188.4 1256.1 L191.7 1256.5 L195.1 1257.0 L198.7 1257.4 L202.4 1257.9 L202.4 1257.9 L206.2 1258.3 L210.2 1258.7 L214.3 1259.2 L218.5 1259.6 L219.6 1259.7 L222.9 1260.0 L227.4 1260.5 L232.1 1260.9 L236.9 1261.3 L237.0 1261.3 L242.0 1261.8 L247.2 1262.2 L252.6 1262.6 L254.2 1262.7 L258.1 1263.1 L263.9 1263.5 L269.9 1263.9 L271.4 1264.0 L276.1 1264.3 L282.4 1264.8 L288.7 1265.2 L289.1 1265.2 L295.9 1265.6 L303.0 1266.1 L305.9 1266.2 L310.3 1266.5 L317.9 1266.9 L323.2 1267.2 L325.8 1267.3 L333.9 1267.8 L340.4 1268.1 L342.3 1268.2 L351.0 1268.6 L357.7 1268.9 L360.0 1269.0 L369.3 1269.5 L375.0 1269.7 L379.0 1269.9 L389.0 1270.3 L392.2 1270.4 L399.3 1270.7 L409.5 1271.1 L410.0 1271.1 L421.1 1271.6 L426.7 1271.8 L432.5 1272.0 L444.0 1272.4 L444.4 1272.4 L456.6 1272.8 L461.2 1273.0 L469.3 1273.2 L478.5 1273.5 L482.5 1273.7 L495.8 1274.1 L496.1 1274.1 L510.1 1274.5 L513.0 1274.6 L524.7 1274.9 L530.3 1275.1 L539.8 1275.3 L547.5 1275.5 L555.4 1275.7 L564.8 1276.0 L571.5 1276.1 L582.0 1276.4 L588.2 1276.6 L599.3 1276.8 L605.5 1277.0 L616.6 1277.2 L623.4 1277.4 L633.8 1277.6 L641.9 1277.8 L651.1 1278.0 L661.1 1278.2 L668.3 1278.3 L680.9 1278.6 L685.6 1278.7 L701.4 1279.0 L702.8 1279.0 L720.1 1279.4 L722.7 1279.4 L737.4 1279.7 L744.6 1279.8 L754.6 1280.0 L767.4 1280.2 L771.9 1280.3 L789.1 1280.6 L790.9 1280.6 L806.4 1280.9 L815.3 1281.0 L823.6 1281.2 L840.5 1281.4 L840.9 1281.4 L858.2 1281.7 L866.6 1281.8 L875.4 1281.9 L892.7 1282.2 L893.6 1282.2 L909.9 1282.4 L921.6 1282.6 L927.2 1282.7 L944.4 1282.9 L950.5 1283.0 L961.7 1283.2 L979.0 1283.4 L980.4 1283.4 L996.2 1283.6 L1011.4 1283.8 L1013.5 1283.8 L1030.7 1284.0 L1043.5 1284.2 L1048.0 1284.2 L1065.2 1284.5 L1076.7 1284.6 L1082.5 1284.7 L1099.7 1284.8 L1111.0 1285.0 L1117.0 1285.0 L1134.3 1285.2 L1146.6 1285.4 L1151.5 1285.4 L1168.8 1285.6 L1183.3 1285.8 L1186.0 1285.8 L1203.3 1286.0 L1220.5 1286.1 L1221.4 1286.1 L1237.8 1286.3 L1255.1 1286.5 L1260.8 1286.5 L1272.3 1286.6 L1289.6 1286.8 L1301.6 1286.9 L1306.8 1287.0 L1324.1 1287.1 L1341.3 1287.3 L1343.8 1287.3 L1358.6 1287.4 L1375.9 1287.6 L1387.4 1287.7 L1393.1 1287.7 L1410.4 1287.9 L1427.6 1288.0 L1432.6 1288.1 L1444.9 1288.2 L1462.1 1288.3 L1479.4 1288.4" stroke="#800000"/>
<path d="M94.5 1200.3 L94.6 1200.7 L94.6 1201.1 L94.7 1201.5 L94.7 1201.9 L94.8 1202.3 L94.8 1202.7 L94.9 1203.1 L95.0 1203.5 L95.0 1203.9 L95.1 1204.3 L95.2 1204.7 L95.3 1205.1 L95.3 1205.5 L95.4 1205.9 L95.5 1206.3 L95.6 1206.7 L95.7 1207.1 L95.8 1207.6 L95.9 1208.0 L96.0 1208.4 L96.1 1208.8 L96.2 1209.2 L96.3 1209.6 L96.4 1210.0 L96.5 1210.4 L96.7 1210.9 L96.8 1211.3 L96.9 1211.7 L97.1 1212.1 L97.2 1212.5 L97.3 1212.9 L97.5 1213.4 L97.7 1213.8 L97.8 1214.2 L98.0 1214.6 L98.2 1215.0 L98.3 1215.4 L98.5 1215.9 L98.7 1216.3 L98.9 1216.7 L99.1 1217.1 L99.3 1217.6 L99.6 1218.0 L99.8 1218.4 L100.0 1218.8 L100.3 1219.3 L100.5 1219.7 L100.8 1220.1 L101.1 1220.5 L101.3 1221.0 L101.6 1221.4 L101.9 1221.8 L102.2 1222.2 L102.6 1222.7 L102.9 1223.1 L103.2 1223.5 L103.6 1223.9 L104.0 1224.4 L104.4 1224.8 L104.8 1225.2 L105.2 1225.7 L105.6 1226.1 L106.0 1226.5 L106.5 1227.0 L107.0 1227.4 L107.4 1227.8 L107.9 1228.2 L108.5 1228.7 L109.0 1229.1 L109.6 1229.5 L110.1 1230.0 L110.7 1230.4 L111.4 1230.8 L112.0 1231.3 L112.7 1231.7 L113.4 1232.1 L114.1 1232.6 L114.8 1233.0 L115.6 1233.4 L116.1 1233.7 L116.4 1233.9 L117.2 1234.3 L118.0 1234.7 L118.9 1235.2 L119.8 1235.6 L120.7 1236.0 L121.7 1236.5 L122.7 1236.9 L123.7 1237.4 L124.8 1237.8 L125.9 1238.2 L127.1 1238.7 L128.3 1239.1 L129.5 1239.5 L130.8 1240.0 L132.1 1240.4 L133.4 1240.8 L133.4 1240.8 L134.9 1241.3 L136.3 1241.7 L137.8 1242.1 L139.4 1242.6 L141.0 1243.0 L142.7 1243.4 L144.4 1243.9 L146.2 1244.3 L148.1 1244.7 L150.0 1245.2 L150.6 1245.3 L152.0 1245.6 L154.0 1246.1 L156.2 1246.5 L158.4 1246.9 L160.7 1247.4 L163.0 1247.8 L165.5 1248.2 L167.9 1248.6 L168.0 1248.7 L170.6 1249.1 L173.3 1249.5 L176.1 1250.0 L179.0 1250.4 L182.0 1250.8 L185.1 1251.3 L185.2 1251.3 L188.4 1251.7 L191.7 1252.1 L195.1 1252.6 L198.7 1253.0 L202.4 1253.4 L202.4 1253.4 L206.2 1253.9 L210.2 1254.3 L214.3 1254.7 L218.5 1255.2 L219.6 1255.3 L222.9 1255.6 L227.4 1256.0 L232.1 1256.5 L236.9 1256.9 L237.0 1256.9 L242.0 1257.3 L247.2 1257.7 L252.6 1258.2 L254.2 1258.3 L258.1 1258.6 L263.9 1259.0 L269.9 1259.5 L271.4 1259.6 L276.1 1259.9 L282.4 1260.3 L288.7 1260.7 L289.1 1260.7 L295.9 1261.2 L303.0 1261.6 L305.9 1261.8 L310.3 1262.0 L317.9 1262.4 L323.2 1262.7 L325.8 1262.9 L333.9 1263.3 L340.4 1263.6 L342.3 1263.7 L351.0 1264.2 L357.7 1264.5 L360.0 1264.6 L369.3 1265.0 L375.0 1265.2 L379.0 1265.4 L389.0 1265.8 L392.2 1266.0 L399.3 1266.3 L409.5 1266.7 L410.0 1266.7 L421.1 1267.1 L426.7 1267.3 L432.5 1267.5 L444.0 1267.9 L444.4 1268.0 L456.6 1268.4 L461.2 1268.5 L469.3 1268.8 L478.5 1269.1 L482.5 1269.2 L495.8 1269.6 L496.1 1269.6 L510.1 1270.0 L513.0 1270.1 L524.7 1270.5 L530.3 1270.6 L539.8 1270.9 L547.5 1271.1 L555.4 1271.3 L564.8 1271.5 L571.5 1271.7 L582.0 1272.0 L588.2 1272.1 L599.3 1272.4 L605.5 1272.5 L616.6 1272.8 L623.4 1273.0 L633.8 1273.2 L641.9 1273.4 L651.1 1273.6 L661.1 1273.8 L668.3 1273.9 L680.9 1274.2 L685.6 1274.3 L701.4 1274.6 L702.8 1274.6 L720.1 1275.0 L722.7 1275.0 L737.4 1275.3 L744.6 1275.4 L754.6 1275.6 L767.4 1275.8 L771.9 1275.9 L789.1 1276.2 L790.9 1276.3 L806.4 1276.5 L815.3 1276.7 L823.6 1276.8 L840.5 1277.1 L840.9 1277.1 L858.2 1277.3 L866.6 1277.5 L875.4 1277.6 L892.7 1277.9 L893.6 1277.9 L909.9 1278.1 L921.6 1278.3 L927.2 1278.4 L944.4 1278.6 L950.5 1278.7 L961.7 1278.9 L979.0 1279.1 L980.4 1279.1 L996.2 1279.3 L1011.4 1279.5 L1013.5 1279.5 L1030.7 1279.8 L1043.5 1279.9 L1048.0 1280.0 L1065.2 1280.2 L1076.7 1280.3 L1082.5 1280.4 L1099.7 1280.6 L1111.0 1280.7 L1117.0 1280.8 L1134.3 1281.0 L1146.6 1281.1 L1151.5 1281.2 L1168.8 1281.4 L1183.3 1281.5 L1186.0 1281.5 L1203.3 1281.7 L1220.5 1281.9 L1221.4 1281.9 L1237.8 1282.1 L1255.1 1282.3 L1260.8 1282.3 L1272.3 1282.4 L1289.6 1282.6 L1301.6 1282.7 L1306.8 1282.8 L1324.1 1282.9 L1341.3 1283.1 L1343.8 1283.1 L1358.6 1283.2 L1375.9 1283.4 L1387.4 1283.5 L1393.1 1283.6 L1410.4 1283.7 L1427.6 1283.9 L1432.6 1283.9 L1444.9 1284.0 L1462.1 1284.2 L1479.4 1284.3" stroke="#4d0000"/>
</g>
<g stroke="#4d4d4d" stroke-width="1.7" fill="none">
<rect x="93.0" y="847.75" width="1386.40" height="723.05"/>
<path d="M93.00 1570.8 v-14 M93.00 847.75 v14"/>
<path d="M324.07 1570.8 v-14 M324.07 847.75 v14"/>
<path d="M555.13 1570.8 v-14 M555.13 847.75 v14"/>
<path d="M786.20 1570.8 v-14 M786.20 847.75 v14"/>
<path d="M1017.27 1570.8 v-14 M1017.27 847.75 v14"/>
<path d="M1248.33 1570.8 v-14 M1248.33 847.75 v14"/>
<path d="M1479.40 1570.8 v-14 M1479.40 847.75 v14"/>
<path d="M93.0 1570.80 h14 M1479.4 1570.80 h-14"/>
<path d="M93.0 1498.49 h14 M1479.4 1498.49 h-14"/>
<path d="M93.0 1426.19 h14 M1479.4 1426.19 h-14"/>
<path d="M93.0 1353.88 h14 M1479.4 1353.88 h-14"/>
<path d="M93.0 1281.58 h14 M1479.4 1281.58 h-14"/>
<path d="M93.0 1209.28 h14 M1479.4 1209.28 h-14"/>
<path d="M93.0 1136.97 h14 M1479.4 1136.97 h-14"/>
<path d="M93.0 1064.66 h14 M1479.4 1064.66 h-14"/>
<path d="M93.0 992.36 h14 M1479.4 992.36 h-14"/>
<path d="M93.0 920.05 h14 M1479.4 920.05 h-14"/>
<path d="M93.0 847.75 h14 M1479.4 847.75 h-14"/>
</g>
<g font-family="'Liberation Sans', Arial, sans-serif" font-size="22.5" fill="#000">
<text transform="translate(93.00 1601.8) scale(1 1.06)" text-anchor="middle">0</text>
<text transform="translate(324.07 1601.8) scale(1 1.06)" text-anchor="middle">5</text>
<text transform="translate(555.13 1601.8) scale(1 1.06)" text-anchor="middle">10</text>
<text transform="translate(786.20 1601.8) scale(1 1.06)" text-anchor="middle">15</text>
<text transform="translate(1017.27 1601.8) scale(1 1.06)" text-anchor="middle">20</text>
<text transform="translate(1248.33 1601.8) scale(1 1.06)" text-anchor="middle">25</text>
<text transform="translate(1479.40 1601.8) scale(1 1.06)" text-anchor="middle">30</text>
<text transform="translate(83.0 1580.4) scale(1 1.06)" text-anchor="end">-0.05</text>
<text transform="translate(83.0 1508.1) scale(1 1.06)" text-anchor="end">-0.04</text>
<text transform="translate(83.0 1435.8) scale(1 1.06)" text-anchor="end">-0.03</text>
<text transform="translate(83.0 1363.5) scale(1 1.06)" text-anchor="end">-0.02</text>
<text transform="translate(83.0 1291.2) scale(1 1.06)" text-anchor="end">-0.01</text>
<text transform="translate(83.0 1218.9) scale(1 1.06)" text-anchor="end">0</text>
<text transform="translate(83.0 1146.6) scale(1 1.06)" text-anchor="end">0.01</text>
<text transform="translate(83.0 1074.3) scale(1 1.06)" text-anchor="end">0.02</text>
<text transform="translate(83.0 1002.0) scale(1 1.06)" text-anchor="end">0.03</text>
<text transform="translate(83.0 929.7) scale(1 1.06)" text-anchor="end">0.04</text>
<text transform="translate(83.0 857.4) scale(1 1.06)" text-anchor="end">0.05</text>
</g>
<text x="786.2" y="1629.1" text-anchor="middle" font-family="'Liberation Sans', Arial, sans-serif" font-size="22.5" letter-spacing="0.3">Degradation time/day</text>
<text transform="translate(22 1209.3) rotate(-90)" text-anchor="middle" font-family="'Liberation Sans', Arial, sans-serif" font-size="24">&#916;R</text>
<rect x="1487.2" y="847.7" width="144.6" height="272.5" fill="#fff" stroke="#4d4d4d" stroke-width="1.4"/>
<g font-family="'Liberation Sans', Arial, sans-serif" font-size="22.5">
<circle cx="1518.8" cy="863.7" r="3.5" fill="#000080"/>
<text transform="translate(1549.6 872.4) scale(1 1.06)">424 nm</text>
<circle cx="1518.8" cy="890.5" r="3.5" fill="#0000ff"/>
<text transform="translate(1549.6 899.2) scale(1 1.06)">444 nm</text>
<circle cx="1518.8" cy="917.3" r="3.5" fill="#7fffd4"/>
<text transform="translate(1549.6 926.0) scale(1 1.06)">497 nm</text>
<circle cx="1518.8" cy="944.2" r="3.5" fill="#00ff00"/>
<text transform="translate(1549.6 952.9) scale(1 1.06)">549 nm</text>
<circle cx="1518.8" cy="971.0" r="3.5" fill="#ff8c00"/>
<text transform="translate(1549.6 979.7) scale(1 1.06)">601 nm</text>
<circle cx="1518.8" cy="997.8" r="3.5" fill="#ff0000"/>
<text transform="translate(1549.6 1006.5) scale(1 1.06)">654 nm</text>
<circle cx="1518.8" cy="1024.6" r="3.5" fill="#dc143c"/>
<text transform="translate(1549.6 1033.3) scale(1 1.06)">706 nm</text>
<circle cx="1518.8" cy="1051.4" r="3.5" fill="#b22222"/>
<text transform="translate(1549.6 1060.1) scale(1 1.06)">758 nm</text>
<circle cx="1518.8" cy="1078.3" r="3.5" fill="#800000"/>
<text transform="translate(1549.6 1087.0) scale(1 1.06)">811 nm</text>
<circle cx="1518.8" cy="1105.1" r="3.5" fill="#4d0000"/>
<text transform="translate(1549.6 1113.8) scale(1 1.06)">853 nm</text>
</g>
<text x="1597" y="1628" font-family="'Liberation Sans', Arial, sans-serif" font-size="50" font-weight="bold">b</text>
<clipPath id="clipc"><rect x="95.05" y="1694.5" width="1386.45" height="723.0999999999999"/></clipPath>
<g>
<circle cx="100.2" cy="2226.0" r="3.3" fill="#000080"/>
<circle cx="109.9" cy="2163.8" r="3.3" fill="#000080"/>
<circle cx="142.7" cy="2121.4" r="3.3" fill="#000080"/>
<circle cx="194.1" cy="2058.0" r="3.3" fill="#000080"/>
<circle cx="238.4" cy="2067.8" r="3.3" fill="#000080"/>
<circle cx="280.3" cy="1950.1" r="3.3" fill="#000080"/>
<circle cx="318.7" cy="1964.0" r="3.3" fill="#000080"/>
<circle cx="454.2" cy="1899.8" r="3.3" fill="#000080"/>
<circle cx="591.4" cy="1879.9" r="3.3" fill="#000080"/>
<circle cx="778.0" cy="1860.0" r="3.3" fill="#000080"/>
<circle cx="961.6" cy="1801.1" r="3.3" fill="#000080"/>
<circle cx="1097.2" cy="1786.3" r="3.3" fill="#000080"/>
<circle cx="1279.8" cy="1777.8" r="3.3" fill="#000080"/>
<circle cx="98.1" cy="2242.5" r="3.3" fill="#0000ff"/>
<circle cx="109.9" cy="2171.8" r="3.3" fill="#0000ff"/>
<circle cx="142.7" cy="2130.7" r="3.3" fill="#0000ff"/>
<circle cx="194.1" cy="2079.4" r="3.3" fill="#0000ff"/>
<circle cx="238.4" cy="2078.1" r="3.3" fill="#0000ff"/>
<circle cx="280.3" cy="2015.8" r="3.3" fill="#0000ff"/>
<circle cx="318.7" cy="2019.6" r="3.3" fill="#0000ff"/>
<circle cx="454.2" cy="1956.5" r="3.3" fill="#0000ff"/>
<circle cx="591.4" cy="1945.4" r="3.3" fill="#0000ff"/>
<circle cx="778.0" cy="1928.4" r="3.3" fill="#0000ff"/>
<circle cx="961.6" cy="1875.2" r="3.3" fill="#0000ff"/>
<circle cx="1097.2" cy="1864.8" r="3.3" fill="#0000ff"/>
<circle cx="1279.8" cy="1853.2" r="3.3" fill="#0000ff"/>
<circle cx="98.1" cy="2252.5" r="3.3" fill="#7fffd4"/>
<circle cx="109.9" cy="2206.0" r="3.3" fill="#7fffd4"/>
<circle cx="142.7" cy="2171.2" r="3.3" fill="#7fffd4"/>
<circle cx="194.1" cy="2135.8" r="3.3" fill="#7fffd4"/>
<circle cx="238.4" cy="2141.1" r="3.3" fill="#7fffd4"/>
<circle cx="280.3" cy="2100.5" r="3.3" fill="#7fffd4"/>
<circle cx="318.7" cy="2110.5" r="3.3" fill="#7fffd4"/>
<circle cx="454.2" cy="2054.5" r="3.3" fill="#7fffd4"/>
<circle cx="591.4" cy="2055.4" r="3.3" fill="#7fffd4"/>
<circle cx="778.0" cy="2043.2" r="3.3" fill="#7fffd4"/>
<circle cx="961.6" cy="2001.7" r="3.3" fill="#7fffd4"/>
<circle cx="1097.2" cy="1996.9" r="3.3" fill="#7fffd4"/>
<circle cx="1279.8" cy="1990.2" r="3.3" fill="#7fffd4"/>
<circle cx="100.2" cy="2262.0" r="3.3" fill="#00ff00"/>
<circle cx="109.9" cy="2207.0" r="3.3" fill="#00ff00"/>
<circle cx="142.7" cy="2208.2" r="3.3" fill="#00ff00"/>
<circle cx="194.1" cy="2185.7" r="3.3" fill="#00ff00"/>
<circle cx="238.4" cy="2200.9" r="3.3" fill="#00ff00"/>
<circle cx="280.3" cy="2162.3" r="3.3" fill="#00ff00"/>
<circle cx="318.7" cy="2178.5" r="3.3" fill="#00ff00"/>
<circle cx="454.2" cy="2136.3" r="3.3" fill="#00ff00"/>
<circle cx="591.4" cy="2149.9" r="3.3" fill="#00ff00"/>
<circle cx="778.0" cy="2143.8" r="3.3" fill="#00ff00"/>
<circle cx="961.6" cy="2106.3" r="3.3" fill="#00ff00"/>
<circle cx="1097.2" cy="2102.9" r="3.3" fill="#00ff00"/>
<circle cx="1279.8" cy="2103.5" r="3.3" fill="#00ff00"/>
<circle cx="100.2" cy="2262.0" r="3.3" fill="#ff8c00"/>
<circle cx="109.9" cy="2209.5" r="3.3" fill="#ff8c00"/>
<circle cx="142.7" cy="2231.8" r="3.3" fill="#ff8c00"/>
<circle cx="194.1" cy="2218.5" r="3.3" fill="#ff8c00"/>
<circle cx="238.4" cy="2240.9" r="3.3" fill="#ff8c00"/>
<circle cx="280.3" cy="2205.9" r="3.3" fill="#ff8c00"/>
<circle cx="318.7" cy="2228.0" r="3.3" fill="#ff8c00"/>
<circle cx="454.2" cy="2191.5" r="3.3" fill="#ff8c00"/>
<circle cx="591.4" cy="2215.2" r="3.3" fill="#ff8c00"/>
<circle cx="778.0" cy="2216.2" r="3.3" fill="#ff8c00"/>
<circle cx="961.6" cy="2182.5" r="3.3" fill="#ff8c00"/>
<circle cx="1097.2" cy="2178.9" r="3.3" fill="#ff8c00"/>
<circle cx="1279.8" cy="2186.1" r="3.3" fill="#ff8c00"/>
<circle cx="98.1" cy="2246.0" r="3.3" fill="#ff0000"/>
<circle cx="109.9" cy="2203.0" r="3.3" fill="#ff0000"/>
<circle cx="142.7" cy="2242.9" r="3.3" fill="#ff0000"/>
<circle cx="194.1" cy="2234.6" r="3.3" fill="#ff0000"/>
<circle cx="238.4" cy="2259.6" r="3.3" fill="#ff0000"/>
<circle cx="280.3" cy="2237.0" r="3.3" fill="#ff0000"/>
<circle cx="318.7" cy="2250.7" r="3.3" fill="#ff0000"/>
<circle cx="454.2" cy="2223.2" r="3.3" fill="#ff0000"/>
<circle cx="591.4" cy="2253.1" r="3.3" fill="#ff0000"/>
<circle cx="778.0" cy="2255.8" r="3.3" fill="#ff0000"/>
<circle cx="961.6" cy="2223.8" r="3.3" fill="#ff0000"/>
<circle cx="1097.2" cy="2220.6" r="3.3" fill="#ff0000"/>
<circle cx="1279.8" cy="2233.4" r="3.3" fill="#ff0000"/>
<circle cx="98.1" cy="2244.6" r="3.3" fill="#dc143c"/>
<circle cx="109.9" cy="2201.0" r="3.3" fill="#dc143c"/>
<circle cx="142.7" cy="2252.7" r="3.3" fill="#dc143c"/>
<circle cx="194.1" cy="2247.0" r="3.3" fill="#dc143c"/>
<circle cx="238.4" cy="2275.4" r="3.3" fill="#dc143c"/>
<circle cx="280.3" cy="2234.3" r="3.3" fill="#dc143c"/>
<circle cx="318.7" cy="2264.6" r="3.3" fill="#dc143c"/>
<circle cx="454.2" cy="2235.5" r="3.3" fill="#dc143c"/>
<circle cx="591.4" cy="2273.5" r="3.3" fill="#dc143c"/>
<circle cx="778.0" cy="2280.0" r="3.3" fill="#dc143c"/>
<circle cx="961.6" cy="2255.8" r="3.3" fill="#dc143c"/>
<circle cx="1097.2" cy="2247.0" r="3.3" fill="#dc143c"/>
<circle cx="1279.8" cy="2261.7" r="3.3" fill="#dc143c"/>
<circle cx="100.2" cy="2263.7" r="3.3" fill="#b22222"/>
<circle cx="109.9" cy="2193.6" r="3.3" fill="#b22222"/>
<circle cx="142.7" cy="2253.6" r="3.3" fill="#b22222"/>
<circle cx="194.1" cy="2247.5" r="3.3" fill="#b22222"/>
<circle cx="238.4" cy="2282.9" r="3.3" fill="#b22222"/>
<circle cx="280.3" cy="2234.3" r="3.3" fill="#b22222"/>
<circle cx="318.7" cy="2270.9" r="3.3" fill="#b22222"/>
<circle cx="454.2" cy="2246.3" r="3.3" fill="#b22222"/>
<circle cx="591.4" cy="2284.4" r="3.3" fill="#b22222"/>
<circle cx="778.0" cy="2288.4" r="3.3" fill="#b22222"/>
<circle cx="961.6" cy="2253.0" r="3.3" fill="#b22222"/>
<circle cx="1097.2" cy="2250.3" r="3.3" fill="#b22222"/>
<circle cx="1279.8" cy="2274.0" r="3.3" fill="#b22222"/>
<circle cx="100.2" cy="2262.0" r="3.3" fill="#800000"/>
<circle cx="109.9" cy="2193.6" r="3.3" fill="#800000"/>
<circle cx="142.7" cy="2258.7" r="3.3" fill="#800000"/>
<circle cx="194.1" cy="2248.8" r="3.3" fill="#800000"/>
<circle cx="238.4" cy="2280.4" r="3.3" fill="#800000"/>
<circle cx="280.3" cy="2231.4" r="3.3" fill="#800000"/>
<circle cx="318.7" cy="2267.8" r="3.3" fill="#800000"/>
<circle cx="454.2" cy="2246.3" r="3.3" fill="#800000"/>
<circle cx="591.4" cy="2282.5" r="3.3" fill="#800000"/>
<circle cx="778.0" cy="2286.0" r="3.3" fill="#800000"/>
<circle cx="961.6" cy="2251.0" r="3.3" fill="#800000"/>
<circle cx="1097.2" cy="2244.1" r="3.3" fill="#800000"/>
<circle cx="1279.8" cy="2273.9" r="3.3" fill="#800000"/>
<circle cx="100.2" cy="2260.2" r="3.3" fill="#4d0000"/>
<circle cx="109.9" cy="2186.5" r="3.3" fill="#4d0000"/>
<circle cx="142.7" cy="2256.7" r="3.3" fill="#4d0000"/>
<circle cx="194.1" cy="2248.6" r="3.3" fill="#4d0000"/>
<circle cx="238.4" cy="2278.3" r="3.3" fill="#4d0000"/>
<circle cx="280.3" cy="2225.1" r="3.3" fill="#4d0000"/>
<circle cx="318.7" cy="2261.5" r="3.3" fill="#4d0000"/>
<circle cx="454.2" cy="2238.8" r="3.3" fill="#4d0000"/>
<circle cx="591.4" cy="2279.8" r="3.3" fill="#4d0000"/>
<circle cx="778.0" cy="2283.0" r="3.3" fill="#4d0000"/>
<circle cx="961.6" cy="2248.4" r="3.3" fill="#4d0000"/>
<circle cx="1097.2" cy="2239.1" r="3.3" fill="#4d0000"/>
<circle cx="1279.8" cy="2272.4" r="3.3" fill="#4d0000"/>
</g>
<g clip-path="url(#clipc)" fill="none" stroke-width="1.9" stroke-linejoin="round">
<path d="M95.7 2391.3 L95.7 2388.9 L95.8 2386.5 L95.8 2384.1 L95.8 2381.8 L95.8 2379.5 L95.9 2377.2 L95.9 2374.9 L95.9 2372.6 L96.0 2370.3 L96.0 2368.1 L96.0 2365.8 L96.1 2363.6 L96.1 2361.4 L96.2 2359.2 L96.2 2357.0 L96.3 2354.8 L96.3 2352.6 L96.4 2350.4 L96.4 2348.2 L96.5 2346.1 L96.5 2343.9 L96.6 2341.8 L96.6 2339.6 L96.7 2337.4 L96.8 2335.3 L96.8 2333.1 L96.9 2331.0 L97.0 2328.8 L97.0 2326.7 L97.1 2324.5 L97.2 2322.3 L97.3 2320.2 L97.4 2318.0 L97.5 2315.8 L97.6 2313.6 L97.7 2311.4 L97.8 2309.2 L97.9 2307.0 L98.0 2304.7 L98.1 2302.5 L98.2 2300.2 L98.3 2298.0 L98.5 2295.7 L98.6 2293.4 L98.7 2291.1 L98.9 2288.7 L99.0 2286.4 L99.2 2284.0 L99.3 2281.6 L99.5 2279.2 L99.7 2276.8 L99.9 2274.3 L100.1 2271.8 L100.3 2269.3 L100.5 2266.8 L100.7 2264.3 L100.9 2261.7 L101.1 2259.1 L101.4 2256.5 L101.6 2253.8 L101.9 2251.1 L102.1 2248.4 L102.4 2245.7 L102.7 2242.9 L103.0 2240.1 L103.3 2237.2 L103.6 2234.3 L104.0 2231.4 L104.3 2228.4 L104.7 2225.5 L105.1 2222.4 L105.5 2219.4 L105.9 2216.2 L106.3 2213.1 L106.7 2209.9 L107.2 2206.7 L107.7 2203.4 L108.2 2200.1 L108.7 2196.7 L109.2 2193.3 L109.8 2189.9 L110.3 2186.3 L110.9 2182.8 L111.6 2179.2 L112.2 2175.5 L112.9 2171.9 L113.6 2168.1 L114.3 2164.4 L115.1 2160.6 L115.9 2156.8 L116.7 2153.0 L117.5 2149.2 L118.2 2146.5 L118.4 2145.4 L119.3 2141.6 L120.3 2137.8 L121.3 2134.1 L122.3 2130.3 L123.4 2126.7 L124.5 2123.0 L125.7 2119.4 L126.9 2115.8 L128.1 2112.2 L129.4 2108.6 L130.8 2105.1 L132.2 2101.6 L133.6 2098.1 L135.1 2094.7 L135.4 2094.0 L136.7 2091.3 L138.3 2087.8 L140.0 2084.4 L141.8 2081.1 L143.6 2077.7 L145.5 2074.3 L147.5 2071.0 L149.6 2067.7 L151.7 2064.4 L152.7 2063.0 L154.0 2061.1 L156.3 2057.8 L158.7 2054.6 L161.2 2051.3 L163.8 2048.1 L166.5 2044.8 L169.3 2041.6 L169.9 2040.8 L172.2 2038.3 L175.2 2035.1 L178.4 2031.9 L181.6 2028.7 L185.0 2025.5 L187.2 2023.5 L188.6 2022.3 L192.2 2019.1 L196.1 2015.8 L200.0 2012.6 L204.1 2009.4 L204.4 2009.2 L208.4 2006.2 L212.9 2003.0 L217.5 1999.7 L221.7 1996.9 L222.3 1996.5 L227.3 1993.3 L232.5 1990.0 L237.9 1986.8 L239.0 1986.2 L243.5 1983.5 L249.4 1980.3 L255.4 1977.0 L256.2 1976.6 L261.7 1973.7 L268.3 1970.4 L273.5 1967.9 L275.1 1967.1 L282.1 1963.8 L289.5 1960.5 L290.7 1960.0 L297.1 1957.2 L305.0 1953.9 L308.0 1952.7 L313.3 1950.6 L321.9 1947.3 L325.2 1946.0 L330.8 1944.0 L340.0 1940.6 L342.5 1939.8 L349.6 1937.3 L359.6 1934.0 L359.8 1933.9 L370.0 1930.6 L377.0 1928.4 L380.8 1927.3 L392.1 1923.9 L394.3 1923.3 L403.7 1920.6 L411.5 1918.4 L415.8 1917.2 L428.4 1913.9 L428.8 1913.8 L441.5 1910.5 L446.0 1909.4 L455.1 1907.2 L463.3 1905.2 L469.3 1903.8 L480.6 1901.2 L484.0 1900.4 L497.8 1897.4 L499.2 1897.1 L515.1 1893.7 L515.1 1893.7 L531.6 1890.3 L532.3 1890.2 L548.8 1887.0 L549.6 1886.8 L566.6 1883.6 L566.9 1883.5 L584.1 1880.4 L585.1 1880.2 L601.4 1877.4 L604.3 1876.8 L618.6 1874.4 L624.3 1873.5 L635.9 1871.6 L645.1 1870.1 L653.1 1868.8 L666.7 1866.7 L670.4 1866.2 L687.7 1863.6 L689.2 1863.3 L704.9 1861.1 L712.5 1860.0 L722.2 1858.6 L736.8 1856.6 L739.4 1856.2 L756.7 1853.9 L762.0 1853.2 L773.9 1851.7 L788.1 1849.9 L791.2 1849.5 L808.5 1847.3 L815.4 1846.5 L825.7 1845.2 L843.0 1843.2 L843.6 1843.1 L860.2 1841.2 L873.0 1839.7 L877.5 1839.2 L894.7 1837.3 L903.6 1836.4 L912.0 1835.5 L929.3 1833.7 L935.3 1833.0 L946.5 1831.9 L963.8 1830.1 L968.3 1829.7 L981.0 1828.4 L998.3 1826.7 L1002.6 1826.3 L1015.5 1825.1 L1032.8 1823.4 L1038.3 1822.9 L1050.1 1821.9 L1067.3 1820.3 L1075.3 1819.6 L1084.6 1818.8 L1101.8 1817.3 L1113.8 1816.2 L1119.1 1815.8 L1136.3 1814.3 L1153.6 1812.9 L1153.8 1812.9 L1170.9 1811.5 L1188.1 1810.1 L1195.4 1809.5 L1205.4 1808.7 L1222.6 1807.4 L1238.6 1806.2 L1239.9 1806.1 L1257.2 1804.8 L1274.4 1803.5 L1283.5 1802.8 L1291.7 1802.2 L1308.9 1801.0 L1326.2 1799.8 L1330.2 1799.5 L1343.4 1798.6 L1360.7 1797.4 L1378.0 1796.2 L1378.7 1796.2 L1395.2 1795.1 L1412.5 1793.9 L1429.1 1792.8 L1429.7 1792.8 L1447.0 1791.7 L1464.2 1790.6 L1481.5 1789.5" stroke="#000080"/>
<path d="M96.3 2365.8 L96.3 2364.5 L96.4 2363.1 L96.4 2361.7 L96.5 2360.3 L96.5 2358.8 L96.6 2357.3 L96.6 2355.8 L96.7 2354.2 L96.8 2352.6 L96.8 2350.9 L96.9 2349.2 L97.0 2347.4 L97.0 2345.7 L97.1 2343.9 L97.2 2342.0 L97.2 2340.1 L97.3 2338.2 L97.4 2336.3 L97.5 2334.3 L97.6 2332.3 L97.7 2330.2 L97.8 2328.1 L97.9 2326.0 L98.0 2323.9 L98.1 2321.7 L98.2 2319.5 L98.3 2317.3 L98.4 2315.0 L98.5 2312.7 L98.6 2310.4 L98.8 2308.1 L98.9 2305.7 L99.0 2303.4 L99.2 2301.0 L99.3 2298.5 L99.5 2296.1 L99.7 2293.6 L99.8 2291.1 L100.0 2288.6 L100.2 2286.0 L100.3 2283.5 L100.5 2280.9 L100.7 2278.3 L100.9 2275.6 L101.2 2273.0 L101.4 2270.3 L101.6 2267.7 L101.8 2265.0 L102.1 2262.3 L102.3 2259.5 L102.6 2256.8 L102.9 2254.0 L103.1 2251.3 L103.4 2248.5 L103.7 2245.7 L104.0 2242.9 L104.4 2240.1 L104.7 2237.3 L105.0 2234.4 L105.4 2231.6 L105.8 2228.7 L106.2 2225.9 L106.6 2223.0 L107.0 2220.1 L107.4 2217.2 L107.8 2214.3 L108.3 2211.4 L108.8 2208.5 L109.3 2205.6 L109.8 2202.7 L110.3 2199.8 L110.8 2196.8 L111.4 2193.9 L112.0 2191.0 L112.6 2188.1 L113.2 2185.1 L113.9 2182.2 L114.6 2179.3 L115.3 2176.4 L116.0 2173.4 L116.7 2170.5 L117.5 2167.6 L118.2 2165.3 L118.3 2164.7 L119.2 2161.7 L120.0 2158.8 L120.9 2155.9 L121.9 2153.0 L122.8 2150.1 L123.8 2147.2 L124.8 2144.4 L125.9 2141.5 L127.0 2138.6 L128.2 2135.8 L129.3 2132.9 L130.6 2130.1 L131.9 2127.2 L133.2 2124.4 L134.5 2121.6 L135.4 2119.9 L136.0 2118.8 L137.4 2116.0 L138.9 2113.2 L140.5 2110.5 L142.1 2107.7 L143.8 2105.0 L145.6 2102.2 L147.4 2099.5 L149.3 2096.8 L151.2 2094.1 L152.7 2092.1 L153.2 2091.4 L155.3 2088.7 L157.5 2086.1 L159.7 2083.4 L162.0 2080.8 L164.4 2078.1 L166.9 2075.5 L169.5 2072.9 L169.9 2072.5 L172.2 2070.3 L174.9 2067.7 L177.8 2065.1 L180.8 2062.6 L183.8 2060.0 L187.0 2057.5 L187.2 2057.4 L190.3 2055.0 L193.7 2052.4 L197.3 2049.9 L201.0 2047.5 L204.4 2045.2 L204.7 2045.0 L208.7 2042.5 L212.8 2040.1 L217.0 2037.6 L221.4 2035.2 L221.7 2035.0 L225.9 2032.8 L230.6 2030.4 L235.4 2028.0 L239.0 2026.3 L240.5 2025.6 L245.7 2023.3 L251.1 2020.9 L256.2 2018.8 L256.7 2018.6 L262.5 2016.2 L268.5 2013.9 L273.5 2012.0 L274.7 2011.5 L281.1 2009.2 L287.8 2006.8 L290.7 2005.8 L294.7 2004.5 L301.9 2002.1 L308.0 2000.2 L309.3 1999.8 L317.0 1997.4 L324.9 1995.0 L325.2 1995.0 L333.2 1992.7 L341.7 1990.3 L342.5 1990.1 L350.6 1987.9 L359.7 1985.4 L359.8 1985.4 L369.2 1983.0 L377.0 1981.1 L379.1 1980.6 L389.2 1978.1 L394.3 1976.9 L399.8 1975.7 L410.7 1973.2 L411.5 1973.0 L422.0 1970.7 L428.8 1969.3 L433.8 1968.3 L445.9 1965.8 L446.0 1965.7 L458.5 1963.3 L463.3 1962.3 L471.5 1960.8 L480.6 1959.1 L485.0 1958.2 L497.8 1955.9 L499.0 1955.7 L513.5 1953.2 L515.1 1952.9 L528.5 1950.7 L532.3 1950.0 L544.1 1948.1 L549.6 1947.3 L560.2 1945.6 L566.9 1944.6 L576.8 1943.1 L584.1 1942.0 L594.1 1940.5 L601.4 1939.5 L612.0 1937.9 L618.6 1937.0 L630.6 1935.4 L635.9 1934.7 L649.8 1932.8 L653.1 1932.4 L669.7 1930.3 L670.4 1930.2 L687.7 1928.0 L690.3 1927.7 L704.9 1925.9 L711.6 1925.1 L722.2 1923.9 L733.7 1922.5 L739.4 1921.9 L756.6 1920.0 L756.7 1920.0 L773.9 1918.1 L780.3 1917.4 L791.2 1916.2 L804.9 1914.8 L808.5 1914.4 L825.7 1912.7 L830.4 1912.2 L843.0 1911.0 L856.7 1909.6 L860.2 1909.3 L877.5 1907.7 L884.1 1907.1 L894.7 1906.1 L912.0 1904.5 L912.4 1904.5 L929.3 1903.0 L941.7 1901.9 L946.5 1901.5 L963.8 1900.0 L972.0 1899.3 L981.0 1898.6 L998.3 1897.1 L1003.5 1896.7 L1015.5 1895.8 L1032.8 1894.4 L1036.0 1894.1 L1050.1 1893.1 L1067.3 1891.7 L1069.8 1891.6 L1084.6 1890.5 L1101.8 1889.2 L1104.7 1889.0 L1119.1 1888.0 L1136.3 1886.7 L1141.0 1886.4 L1153.6 1885.5 L1170.9 1884.3 L1178.5 1883.8 L1188.1 1883.2 L1205.4 1882.0 L1217.3 1881.3 L1222.6 1880.9 L1239.9 1879.8 L1257.2 1878.7 L1257.6 1878.7 L1274.4 1877.6 L1291.7 1876.6 L1299.2 1876.1 L1308.9 1875.6 L1326.2 1874.5 L1342.4 1873.6 L1343.4 1873.5 L1360.7 1872.5 L1378.0 1871.5 L1387.2 1871.0 L1395.2 1870.6 L1412.5 1869.6 L1429.7 1868.7 L1433.5 1868.5 L1447.0 1867.7 L1464.2 1866.8 L1481.5 1865.9" stroke="#0000ff"/>
<path d="M96.9 2327.6 L97.0 2327.9 L97.0 2328.2 L97.1 2328.3 L97.2 2328.3 L97.2 2328.2 L97.3 2328.0 L97.4 2327.7 L97.5 2327.3 L97.5 2326.8 L97.6 2326.2 L97.7 2325.5 L97.8 2324.8 L97.9 2323.9 L98.0 2323.0 L98.1 2321.9 L98.2 2320.8 L98.3 2319.6 L98.4 2318.4 L98.5 2317.1 L98.6 2315.6 L98.8 2314.2 L98.9 2312.6 L99.0 2311.0 L99.2 2309.4 L99.3 2307.6 L99.4 2305.8 L99.6 2304.0 L99.7 2302.1 L99.9 2300.1 L100.1 2298.1 L100.2 2296.1 L100.4 2294.0 L100.6 2291.9 L100.8 2289.7 L101.0 2287.5 L101.2 2285.3 L101.4 2283.0 L101.6 2280.7 L101.8 2278.3 L102.0 2276.0 L102.3 2273.6 L102.5 2271.2 L102.8 2268.7 L103.0 2266.3 L103.3 2263.8 L103.6 2261.4 L103.9 2258.9 L104.2 2256.4 L104.5 2253.9 L104.8 2251.4 L105.1 2248.9 L105.5 2246.4 L105.8 2243.9 L106.2 2241.4 L106.6 2238.9 L107.0 2236.4 L107.4 2233.9 L107.8 2231.5 L108.2 2229.1 L108.7 2226.6 L109.1 2224.2 L109.6 2221.9 L110.1 2219.5 L110.6 2217.2 L111.1 2214.9 L111.7 2212.6 L112.2 2210.4 L112.8 2208.2 L113.4 2206.1 L114.0 2204.0 L114.7 2201.9 L115.3 2199.9 L116.0 2197.9 L116.7 2196.0 L117.5 2194.1 L118.2 2192.5 L118.2 2192.3 L119.0 2190.6 L119.8 2188.9 L120.7 2187.3 L121.5 2185.7 L122.4 2184.1 L123.3 2182.6 L124.3 2181.1 L125.3 2179.6 L126.3 2178.1 L127.4 2176.6 L128.5 2175.1 L129.6 2173.6 L130.8 2172.1 L132.0 2170.6 L133.2 2169.2 L134.5 2167.7 L135.4 2166.7 L135.8 2166.2 L137.2 2164.7 L138.7 2163.2 L140.1 2161.7 L141.7 2160.2 L143.2 2158.7 L144.9 2157.2 L146.5 2155.7 L148.3 2154.2 L150.1 2152.7 L151.9 2151.2 L152.7 2150.6 L153.9 2149.6 L155.9 2148.1 L157.9 2146.6 L160.0 2145.0 L162.2 2143.5 L164.5 2141.9 L166.9 2140.4 L169.3 2138.9 L169.9 2138.5 L171.8 2137.4 L174.4 2135.9 L177.1 2134.4 L179.9 2133.0 L182.7 2131.5 L185.7 2130.1 L187.2 2129.4 L188.8 2128.7 L191.9 2127.3 L195.2 2126.0 L198.6 2124.6 L202.1 2123.2 L204.4 2122.4 L205.7 2121.9 L209.5 2120.5 L213.3 2119.2 L217.3 2117.8 L221.5 2116.4 L221.7 2116.3 L225.7 2115.0 L230.2 2113.6 L234.7 2112.1 L239.0 2110.8 L239.5 2110.7 L244.3 2109.2 L249.4 2107.6 L254.6 2106.1 L256.2 2105.6 L260.0 2104.5 L265.6 2102.8 L271.4 2101.2 L273.5 2100.5 L277.3 2099.4 L283.5 2097.7 L289.9 2095.8 L290.7 2095.6 L296.4 2094.0 L303.3 2092.1 L308.0 2090.8 L310.3 2090.2 L317.6 2088.3 L325.1 2086.4 L325.2 2086.4 L332.9 2084.5 L340.9 2082.7 L342.5 2082.3 L349.2 2080.8 L357.8 2079.0 L359.8 2078.6 L366.7 2077.2 L375.9 2075.5 L377.0 2075.3 L385.4 2073.7 L394.3 2072.2 L395.2 2072.0 L405.4 2070.3 L411.5 2069.3 L415.9 2068.6 L426.7 2066.9 L428.8 2066.6 L438.0 2065.3 L446.0 2064.1 L449.6 2063.6 L461.5 2062.0 L463.3 2061.8 L473.9 2060.4 L480.6 2059.6 L486.8 2058.8 L497.8 2057.5 L500.0 2057.2 L513.7 2055.6 L515.1 2055.5 L527.9 2054.1 L532.3 2053.6 L542.5 2052.5 L549.6 2051.8 L557.6 2051.0 L566.9 2050.1 L573.3 2049.4 L584.1 2048.4 L589.5 2047.9 L601.4 2046.8 L606.2 2046.4 L618.6 2045.3 L623.5 2044.8 L635.9 2043.8 L641.3 2043.3 L653.1 2042.4 L659.8 2041.8 L670.4 2041.0 L678.9 2040.3 L687.7 2039.6 L698.7 2038.8 L704.9 2038.3 L719.1 2037.3 L722.2 2037.1 L739.4 2035.8 L740.2 2035.8 L756.7 2034.6 L762.0 2034.3 L773.9 2033.5 L784.6 2032.8 L791.2 2032.3 L807.9 2031.3 L808.5 2031.2 L825.7 2030.1 L832.0 2029.7 L843.0 2029.1 L856.9 2028.2 L860.2 2028.0 L877.5 2027.0 L882.7 2026.7 L894.7 2026.0 L909.3 2025.2 L912.0 2025.0 L929.3 2024.1 L936.9 2023.6 L946.5 2023.1 L963.8 2022.2 L965.3 2022.1 L981.0 2021.3 L994.8 2020.6 L998.3 2020.4 L1015.5 2019.5 L1025.2 2019.0 L1032.8 2018.6 L1050.1 2017.8 L1056.7 2017.4 L1067.3 2016.9 L1084.6 2016.1 L1089.2 2015.8 L1101.8 2015.2 L1119.1 2014.4 L1122.8 2014.3 L1136.3 2013.6 L1153.6 2012.8 L1157.6 2012.7 L1170.9 2012.1 L1188.1 2011.3 L1193.5 2011.0 L1205.4 2010.5 L1222.6 2009.8 L1230.7 2009.4 L1239.9 2009.0 L1257.2 2008.3 L1269.1 2007.8 L1274.4 2007.6 L1291.7 2006.8 L1308.8 2006.1 L1308.9 2006.1 L1326.2 2005.4 L1343.4 2004.7 L1349.8 2004.4 L1360.7 2004.0 L1378.0 2003.3 L1392.3 2002.8 L1395.2 2002.6 L1412.5 2002.0 L1429.7 2001.3 L1436.1 2001.0 L1447.0 2000.6 L1464.2 2000.0 L1481.5 1999.3" stroke="#7fffd4"/>
<path d="M95.6 2298.4 L95.6 2298.1 L95.6 2297.7 L95.7 2297.4 L95.7 2297.0 L95.7 2296.6 L95.7 2296.2 L95.8 2295.8 L95.8 2295.4 L95.8 2294.9 L95.9 2294.5 L95.9 2294.0 L95.9 2293.6 L96.0 2293.1 L96.0 2292.6 L96.0 2292.1 L96.1 2291.5 L96.1 2291.0 L96.2 2290.4 L96.2 2289.9 L96.3 2289.3 L96.3 2288.7 L96.4 2288.1 L96.4 2287.5 L96.5 2286.9 L96.5 2286.3 L96.6 2285.6 L96.6 2285.0 L96.7 2284.3 L96.8 2283.6 L96.8 2282.9 L96.9 2282.3 L97.0 2281.5 L97.1 2280.8 L97.1 2280.1 L97.2 2279.4 L97.3 2278.6 L97.4 2277.9 L97.5 2277.1 L97.6 2276.3 L97.7 2275.6 L97.8 2274.8 L97.9 2274.0 L98.0 2273.1 L98.2 2272.3 L98.3 2271.5 L98.4 2270.7 L98.5 2269.8 L98.7 2269.0 L98.8 2268.1 L99.0 2267.2 L99.1 2266.4 L99.3 2265.5 L99.5 2264.6 L99.7 2263.7 L99.8 2262.8 L100.0 2261.9 L100.2 2261.0 L100.4 2260.0 L100.7 2259.1 L100.9 2258.2 L101.1 2257.2 L101.4 2256.3 L101.6 2255.3 L101.9 2254.3 L102.2 2253.4 L102.4 2252.4 L102.7 2251.4 L103.0 2250.4 L103.4 2249.4 L103.7 2248.4 L104.0 2247.4 L104.4 2246.4 L104.8 2245.4 L105.2 2244.4 L105.6 2243.3 L106.0 2242.3 L106.4 2241.3 L106.9 2240.2 L107.4 2239.2 L107.9 2238.1 L108.4 2237.1 L108.9 2236.0 L109.5 2235.0 L110.1 2233.9 L110.7 2232.8 L111.3 2231.8 L111.9 2230.7 L112.6 2229.6 L113.3 2228.6 L114.0 2227.5 L114.8 2226.4 L115.6 2225.3 L116.4 2224.2 L117.3 2223.1 L118.2 2222.1 L118.2 2222.0 L119.1 2220.9 L120.1 2219.8 L121.1 2218.7 L122.1 2217.6 L123.2 2216.5 L124.3 2215.4 L125.5 2214.3 L126.7 2213.2 L128.0 2212.1 L129.3 2211.0 L130.7 2209.9 L132.1 2208.8 L133.6 2207.7 L135.2 2206.6 L135.4 2206.4 L136.8 2205.5 L138.5 2204.4 L140.2 2203.3 L142.0 2202.2 L143.9 2201.0 L145.9 2199.9 L147.9 2198.8 L150.0 2197.7 L152.2 2196.6 L152.7 2196.4 L154.5 2195.5 L156.9 2194.4 L159.4 2193.3 L162.0 2192.2 L164.7 2191.1 L167.5 2190.0 L169.9 2189.1 L170.4 2188.9 L173.4 2187.8 L176.6 2186.7 L179.8 2185.6 L183.2 2184.5 L186.8 2183.4 L187.2 2183.3 L190.5 2182.3 L194.3 2181.2 L198.3 2180.1 L202.4 2179.1 L204.4 2178.5 L206.7 2178.0 L211.2 2176.9 L215.9 2175.8 L220.7 2174.7 L221.7 2174.5 L225.8 2173.6 L231.0 2172.5 L236.5 2171.5 L239.0 2171.0 L242.1 2170.4 L248.0 2169.3 L254.2 2168.2 L256.2 2167.9 L260.6 2167.1 L267.2 2166.1 L273.5 2165.1 L274.1 2165.0 L281.3 2163.9 L288.8 2162.8 L290.7 2162.6 L296.6 2161.8 L304.7 2160.7 L308.0 2160.3 L313.1 2159.6 L321.8 2158.6 L325.2 2158.2 L330.9 2157.5 L340.4 2156.4 L342.5 2156.2 L350.3 2155.4 L359.8 2154.4 L360.5 2154.3 L371.2 2153.3 L377.0 2152.7 L382.2 2152.2 L393.8 2151.1 L394.3 2151.1 L405.8 2150.1 L411.5 2149.6 L418.2 2149.0 L428.8 2148.2 L431.2 2148.0 L444.7 2146.9 L446.0 2146.8 L458.7 2145.9 L463.3 2145.5 L473.3 2144.8 L480.6 2144.3 L488.5 2143.8 L497.8 2143.1 L504.3 2142.7 L515.1 2142.0 L520.8 2141.7 L532.3 2141.0 L537.8 2140.6 L549.6 2139.9 L555.6 2139.6 L566.9 2138.9 L574.1 2138.5 L584.1 2138.0 L593.3 2137.5 L601.4 2137.1 L613.3 2136.5 L618.6 2136.2 L634.1 2135.4 L635.9 2135.3 L653.1 2134.5 L655.8 2134.4 L670.4 2133.7 L678.3 2133.3 L687.7 2132.9 L701.7 2132.3 L704.9 2132.2 L722.2 2131.4 L726.1 2131.3 L739.4 2130.7 L751.4 2130.2 L756.7 2130.0 L773.9 2129.4 L777.7 2129.2 L791.2 2128.7 L805.2 2128.2 L808.5 2128.1 L825.7 2127.4 L833.7 2127.2 L843.0 2126.8 L860.2 2126.2 L863.3 2126.1 L877.5 2125.6 L894.1 2125.1 L894.7 2125.1 L912.0 2124.5 L926.2 2124.1 L929.3 2124.0 L946.5 2123.4 L959.6 2123.0 L963.8 2122.9 L981.0 2122.4 L994.3 2122.0 L998.3 2121.9 L1015.5 2121.4 L1030.4 2121.0 L1032.8 2120.9 L1050.1 2120.5 L1067.3 2120.0 L1067.9 2120.0 L1084.6 2119.5 L1101.8 2119.1 L1107.0 2119.0 L1119.1 2118.6 L1136.3 2118.2 L1147.6 2117.9 L1153.6 2117.8 L1170.9 2117.4 L1188.1 2117.0 L1189.9 2116.9 L1205.4 2116.6 L1222.6 2116.2 L1233.8 2115.9 L1239.9 2115.8 L1257.2 2115.4 L1274.4 2115.0 L1279.5 2114.9 L1291.7 2114.6 L1308.9 2114.2 L1326.2 2113.9 L1327.1 2113.9 L1343.4 2113.5 L1360.7 2113.2 L1376.5 2112.9 L1378.0 2112.8 L1395.2 2112.5 L1412.5 2112.1 L1428.0 2111.8 L1429.7 2111.8 L1447.0 2111.5 L1464.2 2111.1 L1481.5 2110.8" stroke="#00ff00"/>
<path d="M96.4 2266.0 L96.4 2265.7 L96.5 2265.3 L96.5 2265.0 L96.6 2264.6 L96.7 2264.3 L96.7 2264.0 L96.8 2263.6 L96.8 2263.3 L96.9 2262.9 L97.0 2262.6 L97.0 2262.2 L97.1 2261.9 L97.2 2261.5 L97.2 2261.2 L97.3 2260.8 L97.4 2260.5 L97.5 2260.1 L97.6 2259.8 L97.7 2259.4 L97.8 2259.1 L97.9 2258.7 L98.0 2258.4 L98.1 2258.0 L98.2 2257.6 L98.3 2257.3 L98.4 2256.9 L98.5 2256.6 L98.6 2256.2 L98.8 2255.9 L98.9 2255.5 L99.0 2255.1 L99.2 2254.8 L99.3 2254.4 L99.5 2254.1 L99.6 2253.7 L99.8 2253.3 L100.0 2253.0 L100.1 2252.6 L100.3 2252.2 L100.5 2251.9 L100.7 2251.5 L100.9 2251.1 L101.1 2250.8 L101.3 2250.4 L101.5 2250.0 L101.8 2249.7 L102.0 2249.3 L102.2 2248.9 L102.5 2248.6 L102.8 2248.2 L103.0 2247.8 L103.3 2247.5 L103.6 2247.1 L103.9 2246.7 L104.2 2246.3 L104.6 2246.0 L104.9 2245.6 L105.2 2245.2 L105.6 2244.8 L106.0 2244.5 L106.4 2244.1 L106.8 2243.7 L107.2 2243.3 L107.6 2243.0 L108.1 2242.6 L108.5 2242.2 L109.0 2241.8 L109.5 2241.5 L110.0 2241.1 L110.5 2240.7 L111.1 2240.3 L111.6 2239.9 L112.2 2239.6 L112.8 2239.2 L113.5 2238.8 L114.1 2238.4 L114.8 2238.0 L115.5 2237.7 L116.2 2237.3 L117.0 2236.9 L117.8 2236.5 L118.2 2236.3 L118.6 2236.1 L119.4 2235.7 L120.3 2235.4 L121.2 2235.0 L122.1 2234.6 L123.0 2234.2 L124.0 2233.8 L125.1 2233.4 L126.1 2233.1 L127.2 2232.7 L128.4 2232.3 L129.5 2231.9 L130.8 2231.5 L132.0 2231.1 L133.3 2230.7 L134.7 2230.4 L135.4 2230.2 L136.1 2230.0 L137.6 2229.6 L139.1 2229.2 L140.6 2228.8 L142.3 2228.4 L143.9 2228.0 L145.7 2227.6 L147.5 2227.2 L149.3 2226.9 L151.2 2226.5 L152.7 2226.2 L153.2 2226.1 L155.3 2225.7 L157.4 2225.3 L159.6 2224.9 L161.9 2224.5 L164.3 2224.1 L166.8 2223.7 L169.3 2223.3 L169.9 2223.2 L171.9 2222.9 L174.7 2222.6 L177.5 2222.2 L180.4 2221.8 L183.4 2221.4 L186.6 2221.0 L187.2 2220.9 L189.8 2220.6 L193.2 2220.2 L196.6 2219.8 L200.3 2219.4 L204.0 2219.0 L204.4 2219.0 L207.8 2218.6 L211.8 2218.2 L216.0 2217.8 L220.3 2217.4 L221.7 2217.3 L224.7 2217.0 L229.3 2216.7 L234.1 2216.3 L239.0 2215.9 L239.0 2215.9 L244.1 2215.5 L249.4 2215.1 L254.9 2214.7 L256.2 2214.6 L260.5 2214.3 L266.4 2213.9 L272.5 2213.5 L273.5 2213.4 L278.8 2213.1 L285.3 2212.7 L290.7 2212.4 L292.0 2212.3 L299.0 2211.9 L306.3 2211.5 L308.0 2211.4 L313.7 2211.1 L321.5 2210.7 L325.2 2210.5 L329.5 2210.3 L337.8 2209.9 L342.5 2209.7 L346.4 2209.5 L355.4 2209.1 L359.8 2209.0 L364.6 2208.8 L374.2 2208.4 L377.0 2208.2 L384.0 2208.0 L394.3 2207.6 L394.3 2207.6 L404.9 2207.2 L411.5 2206.9 L415.9 2206.8 L427.3 2206.4 L428.8 2206.3 L439.1 2206.0 L446.0 2205.8 L451.3 2205.6 L463.3 2205.2 L463.9 2205.2 L477.0 2204.8 L480.6 2204.7 L490.5 2204.4 L497.8 2204.2 L504.5 2204.0 L515.1 2203.7 L519.0 2203.6 L532.3 2203.3 L534.1 2203.2 L549.6 2202.8 L549.7 2202.8 L565.8 2202.4 L566.9 2202.4 L582.5 2202.0 L584.1 2202.0 L599.7 2201.6 L601.4 2201.6 L617.6 2201.2 L618.6 2201.2 L635.9 2200.8 L636.2 2200.8 L653.1 2200.5 L655.4 2200.4 L670.4 2200.1 L675.2 2200.1 L687.7 2199.8 L695.8 2199.7 L704.9 2199.5 L717.1 2199.3 L722.2 2199.2 L739.2 2198.9 L739.4 2198.9 L756.7 2198.6 L762.0 2198.5 L773.9 2198.3 L785.7 2198.1 L791.2 2198.0 L808.5 2197.7 L810.2 2197.7 L825.7 2197.4 L835.5 2197.3 L843.0 2197.2 L860.2 2196.9 L861.8 2196.9 L877.5 2196.7 L889.0 2196.5 L894.7 2196.4 L912.0 2196.2 L917.1 2196.1 L929.3 2195.9 L946.3 2195.7 L946.5 2195.7 L963.8 2195.5 L976.4 2195.3 L981.0 2195.3 L998.3 2195.0 L1007.7 2194.9 L1015.5 2194.8 L1032.8 2194.6 L1040.1 2194.5 L1050.1 2194.4 L1067.3 2194.2 L1073.6 2194.1 L1084.6 2194.0 L1101.8 2193.8 L1108.3 2193.7 L1119.1 2193.6 L1136.3 2193.4 L1144.2 2193.3 L1153.6 2193.2 L1170.9 2193.1 L1181.4 2193.0 L1188.1 2192.9 L1205.4 2192.7 L1219.9 2192.6 L1222.6 2192.5 L1239.9 2192.4 L1257.2 2192.2 L1259.8 2192.2 L1274.4 2192.0 L1291.7 2191.9 L1301.1 2191.8 L1308.9 2191.7 L1326.2 2191.5 L1343.4 2191.4 L1343.9 2191.4 L1360.7 2191.2 L1378.0 2191.1 L1388.2 2191.0 L1395.2 2190.9 L1412.5 2190.8 L1429.7 2190.6 L1434.0 2190.6 L1447.0 2190.5 L1464.2 2190.3 L1481.5 2190.2" stroke="#ff8c00"/>
<path d="M95.6 2245.9 L95.6 2245.9 L95.6 2245.8 L95.7 2245.7 L95.7 2245.6 L95.7 2245.5 L95.7 2245.4 L95.8 2245.4 L95.8 2245.3 L95.8 2245.2 L95.9 2245.1 L95.9 2245.0 L95.9 2245.0 L96.0 2244.9 L96.0 2244.8 L96.0 2244.7 L96.1 2244.7 L96.1 2244.6 L96.2 2244.5 L96.2 2244.5 L96.3 2244.4 L96.3 2244.3 L96.4 2244.2 L96.4 2244.2 L96.5 2244.1 L96.5 2244.0 L96.6 2244.0 L96.6 2243.9 L96.7 2243.9 L96.8 2243.8 L96.8 2243.7 L96.9 2243.7 L97.0 2243.6 L97.1 2243.5 L97.1 2243.5 L97.2 2243.4 L97.3 2243.4 L97.4 2243.3 L97.5 2243.2 L97.6 2243.2 L97.7 2243.1 L97.8 2243.1 L97.9 2243.0 L98.0 2243.0 L98.2 2242.9 L98.3 2242.9 L98.4 2242.8 L98.5 2242.7 L98.7 2242.7 L98.8 2242.6 L99.0 2242.6 L99.1 2242.5 L99.3 2242.5 L99.5 2242.4 L99.7 2242.4 L99.8 2242.3 L100.0 2242.3 L100.2 2242.2 L100.4 2242.2 L100.7 2242.1 L100.9 2242.1 L101.1 2242.0 L101.4 2242.0 L101.6 2242.0 L101.9 2241.9 L102.2 2241.9 L102.4 2241.8 L102.7 2241.8 L103.0 2241.7 L103.4 2241.7 L103.7 2241.6 L104.0 2241.6 L104.4 2241.6 L104.8 2241.5 L105.2 2241.5 L105.6 2241.4 L106.0 2241.4 L106.4 2241.3 L106.9 2241.3 L107.4 2241.3 L107.9 2241.2 L108.4 2241.2 L108.9 2241.1 L109.5 2241.1 L110.1 2241.0 L110.7 2241.0 L111.3 2241.0 L111.9 2240.9 L112.6 2240.9 L113.3 2240.8 L114.0 2240.8 L114.8 2240.8 L115.6 2240.7 L116.4 2240.7 L117.3 2240.6 L118.2 2240.6 L118.2 2240.6 L119.1 2240.6 L120.1 2240.5 L121.1 2240.5 L122.1 2240.4 L123.2 2240.4 L124.3 2240.4 L125.5 2240.3 L126.7 2240.3 L128.0 2240.2 L129.3 2240.2 L130.7 2240.1 L132.1 2240.1 L133.6 2240.1 L135.2 2240.0 L135.4 2240.0 L136.8 2240.0 L138.5 2239.9 L140.2 2239.9 L142.0 2239.9 L143.9 2239.8 L145.9 2239.8 L147.9 2239.7 L150.0 2239.7 L152.2 2239.7 L152.7 2239.6 L154.5 2239.6 L156.9 2239.6 L159.4 2239.5 L162.0 2239.5 L164.7 2239.4 L167.5 2239.4 L169.9 2239.4 L170.4 2239.4 L173.4 2239.3 L176.6 2239.3 L179.8 2239.2 L183.2 2239.2 L186.8 2239.1 L187.2 2239.1 L190.5 2239.1 L194.3 2239.0 L198.3 2239.0 L202.4 2238.9 L204.4 2238.9 L206.7 2238.9 L211.2 2238.9 L215.9 2238.8 L220.7 2238.8 L221.7 2238.7 L225.8 2238.7 L231.0 2238.7 L236.5 2238.6 L239.0 2238.6 L242.1 2238.6 L248.0 2238.5 L254.2 2238.5 L256.2 2238.4 L260.6 2238.4 L267.2 2238.4 L273.5 2238.3 L274.1 2238.3 L281.3 2238.3 L288.8 2238.2 L290.7 2238.2 L296.6 2238.2 L304.7 2238.1 L308.0 2238.1 L313.1 2238.0 L321.8 2238.0 L325.2 2238.0 L330.9 2237.9 L340.4 2237.9 L342.5 2237.9 L350.3 2237.8 L359.8 2237.8 L360.5 2237.8 L371.2 2237.7 L377.0 2237.7 L382.2 2237.7 L393.8 2237.6 L394.3 2237.6 L405.8 2237.5 L411.5 2237.5 L418.2 2237.5 L428.8 2237.4 L431.2 2237.4 L444.7 2237.4 L446.0 2237.3 L458.7 2237.3 L463.3 2237.3 L473.3 2237.2 L480.6 2237.2 L488.5 2237.2 L497.8 2237.1 L504.3 2237.1 L515.1 2237.1 L520.8 2237.0 L532.3 2237.0 L537.8 2237.0 L549.6 2236.9 L555.6 2236.9 L566.9 2236.9 L574.1 2236.8 L584.1 2236.8 L593.3 2236.8 L601.4 2236.7 L613.3 2236.7 L618.6 2236.7 L634.1 2236.6 L635.9 2236.6 L653.1 2236.6 L655.8 2236.6 L670.4 2236.5 L678.3 2236.5 L687.7 2236.5 L701.7 2236.4 L704.9 2236.4 L722.2 2236.4 L726.1 2236.4 L739.4 2236.3 L751.4 2236.3 L756.7 2236.3 L773.9 2236.2 L777.7 2236.2 L791.2 2236.2 L805.2 2236.1 L808.5 2236.1 L825.7 2236.1 L833.7 2236.1 L843.0 2236.0 L860.2 2236.0 L863.3 2236.0 L877.5 2236.0 L894.1 2235.9 L894.7 2235.9 L912.0 2235.9 L926.2 2235.8 L929.3 2235.8 L946.5 2235.8 L959.6 2235.8 L963.8 2235.7 L981.0 2235.7 L994.3 2235.7 L998.3 2235.7 L1015.5 2235.6 L1030.4 2235.6 L1032.8 2235.6 L1050.1 2235.6 L1067.3 2235.5 L1067.9 2235.5 L1084.6 2235.5 L1101.8 2235.4 L1107.0 2235.4 L1119.1 2235.4 L1136.3 2235.4 L1147.6 2235.4 L1153.6 2235.3 L1170.9 2235.3 L1188.1 2235.3 L1189.9 2235.3 L1205.4 2235.2 L1222.6 2235.2 L1233.8 2235.2 L1239.9 2235.2 L1257.2 2235.1 L1274.4 2235.1 L1279.5 2235.1 L1291.7 2235.1 L1308.9 2235.1 L1326.2 2235.0 L1327.1 2235.0 L1343.4 2235.0 L1360.7 2235.0 L1376.5 2234.9 L1378.0 2234.9 L1395.2 2234.9 L1412.5 2234.9 L1428.0 2234.8 L1429.7 2234.8 L1447.0 2234.8 L1464.2 2234.8 L1481.5 2234.8" stroke="#ff0000"/>
<path d="M95.8 2226.6 L95.8 2226.6 L95.9 2226.7 L95.9 2226.8 L95.9 2226.8 L96.0 2226.9 L96.0 2227.0 L96.0 2227.0 L96.1 2227.1 L96.1 2227.2 L96.1 2227.2 L96.2 2227.3 L96.2 2227.4 L96.3 2227.5 L96.3 2227.6 L96.4 2227.7 L96.4 2227.8 L96.5 2227.9 L96.5 2228.0 L96.6 2228.1 L96.6 2228.2 L96.7 2228.3 L96.8 2228.4 L96.8 2228.5 L96.9 2228.6 L97.0 2228.7 L97.1 2228.8 L97.1 2229.0 L97.2 2229.1 L97.3 2229.2 L97.4 2229.3 L97.5 2229.5 L97.6 2229.6 L97.7 2229.7 L97.8 2229.9 L97.9 2230.0 L98.0 2230.2 L98.1 2230.3 L98.2 2230.4 L98.3 2230.6 L98.5 2230.7 L98.6 2230.9 L98.7 2231.0 L98.9 2231.2 L99.0 2231.3 L99.2 2231.5 L99.3 2231.7 L99.5 2231.8 L99.7 2232.0 L99.8 2232.1 L100.0 2232.3 L100.2 2232.5 L100.4 2232.6 L100.6 2232.8 L100.8 2233.0 L101.0 2233.1 L101.3 2233.3 L101.5 2233.5 L101.8 2233.7 L102.0 2233.9 L102.3 2234.0 L102.6 2234.2 L102.9 2234.4 L103.2 2234.6 L103.5 2234.8 L103.8 2234.9 L104.1 2235.1 L104.5 2235.3 L104.9 2235.5 L105.2 2235.7 L105.6 2235.9 L106.0 2236.1 L106.5 2236.3 L106.9 2236.5 L107.3 2236.7 L107.8 2236.9 L108.3 2237.1 L108.8 2237.3 L109.4 2237.5 L109.9 2237.7 L110.5 2237.9 L111.1 2238.1 L111.7 2238.3 L112.3 2238.5 L113.0 2238.7 L113.7 2238.9 L114.4 2239.1 L115.2 2239.3 L115.9 2239.5 L116.7 2239.7 L117.6 2239.9 L118.2 2240.0 L118.4 2240.1 L119.3 2240.3 L120.3 2240.5 L121.2 2240.7 L122.3 2240.9 L123.3 2241.2 L124.4 2241.4 L125.5 2241.6 L126.7 2241.8 L127.9 2242.0 L129.2 2242.2 L130.5 2242.4 L131.9 2242.6 L133.3 2242.8 L134.7 2243.0 L135.4 2243.1 L136.3 2243.3 L137.9 2243.5 L139.5 2243.7 L141.2 2243.9 L143.0 2244.1 L144.9 2244.3 L146.8 2244.5 L148.8 2244.7 L150.8 2244.9 L152.7 2245.1 L153.0 2245.2 L155.2 2245.4 L157.5 2245.6 L159.9 2245.8 L162.4 2246.0 L165.0 2246.2 L167.7 2246.4 L169.9 2246.6 L170.5 2246.6 L173.4 2246.8 L176.5 2247.0 L179.6 2247.2 L182.9 2247.4 L186.2 2247.7 L187.2 2247.7 L189.7 2247.9 L193.4 2248.1 L197.2 2248.3 L201.1 2248.5 L204.4 2248.6 L205.2 2248.7 L209.5 2248.9 L213.9 2249.1 L218.4 2249.3 L221.7 2249.4 L223.2 2249.5 L228.1 2249.7 L233.3 2249.9 L238.6 2250.1 L239.0 2250.1 L244.1 2250.3 L249.8 2250.5 L255.8 2250.7 L256.2 2250.7 L262.0 2250.9 L268.4 2251.0 L273.5 2251.2 L275.1 2251.2 L282.0 2251.4 L289.3 2251.6 L290.7 2251.7 L296.7 2251.8 L304.5 2252.0 L308.0 2252.1 L312.6 2252.2 L321.0 2252.4 L325.2 2252.5 L329.7 2252.5 L338.7 2252.7 L342.5 2252.8 L348.1 2252.9 L357.8 2253.1 L359.8 2253.1 L367.9 2253.3 L377.0 2253.4 L378.5 2253.4 L389.4 2253.6 L394.3 2253.7 L400.7 2253.8 L411.5 2253.9 L412.5 2254.0 L424.7 2254.1 L428.8 2254.2 L437.4 2254.3 L446.0 2254.4 L450.6 2254.5 L463.3 2254.6 L464.3 2254.6 L478.5 2254.8 L480.6 2254.8 L493.3 2255.0 L497.8 2255.0 L508.7 2255.1 L515.1 2255.2 L524.6 2255.3 L532.3 2255.4 L541.1 2255.4 L549.6 2255.5 L558.3 2255.6 L566.9 2255.7 L576.2 2255.8 L584.1 2255.8 L594.7 2255.9 L601.4 2256.0 L613.9 2256.1 L618.6 2256.1 L633.9 2256.2 L635.9 2256.2 L653.1 2256.3 L654.7 2256.4 L670.4 2256.5 L676.3 2256.5 L687.7 2256.6 L698.6 2256.6 L704.9 2256.7 L721.9 2256.8 L722.2 2256.8 L739.4 2256.9 L746.0 2256.9 L756.7 2257.0 L771.1 2257.1 L773.9 2257.1 L791.2 2257.2 L797.2 2257.2 L808.5 2257.3 L824.2 2257.3 L825.7 2257.3 L843.0 2257.4 L852.3 2257.5 L860.2 2257.5 L877.5 2257.6 L881.5 2257.6 L894.7 2257.6 L911.8 2257.7 L912.0 2257.7 L929.3 2257.8 L943.2 2257.8 L946.5 2257.9 L963.8 2257.9 L975.9 2258.0 L981.0 2258.0 L998.3 2258.0 L1009.8 2258.1 L1015.5 2258.1 L1032.8 2258.2 L1045.1 2258.2 L1050.1 2258.2 L1067.3 2258.3 L1081.7 2258.3 L1084.6 2258.3 L1101.8 2258.4 L1119.1 2258.4 L1119.7 2258.4 L1136.3 2258.5 L1153.6 2258.5 L1159.2 2258.5 L1170.9 2258.6 L1188.1 2258.6 L1200.2 2258.7 L1205.4 2258.7 L1222.6 2258.7 L1239.9 2258.8 L1242.7 2258.8 L1257.2 2258.8 L1274.4 2258.8 L1286.9 2258.9 L1291.7 2258.9 L1308.9 2258.9 L1326.2 2259.0 L1332.9 2259.0 L1343.4 2259.0 L1360.7 2259.0 L1378.0 2259.1 L1380.5 2259.1 L1395.2 2259.1 L1412.5 2259.1 L1429.7 2259.2 L1430.1 2259.2 L1447.0 2259.2 L1464.2 2259.2 L1481.5 2259.3" stroke="#dc143c"/>
<path d="M95.8 2226.6 L95.8 2226.9 L95.9 2227.1 L95.9 2227.4 L95.9 2227.6 L96.0 2227.8 L96.0 2228.1 L96.0 2228.3 L96.1 2228.5 L96.1 2228.8 L96.1 2229.0 L96.2 2229.2 L96.2 2229.4 L96.3 2229.7 L96.3 2229.9 L96.4 2230.1 L96.4 2230.3 L96.5 2230.5 L96.5 2230.8 L96.6 2231.0 L96.6 2231.2 L96.7 2231.4 L96.8 2231.6 L96.8 2231.8 L96.9 2232.1 L97.0 2232.3 L97.1 2232.5 L97.1 2232.7 L97.2 2232.9 L97.3 2233.1 L97.4 2233.3 L97.5 2233.5 L97.6 2233.7 L97.7 2233.9 L97.8 2234.1 L97.9 2234.3 L98.0 2234.5 L98.1 2234.7 L98.2 2234.9 L98.3 2235.1 L98.5 2235.3 L98.6 2235.5 L98.7 2235.7 L98.9 2235.9 L99.0 2236.1 L99.2 2236.3 L99.3 2236.5 L99.5 2236.7 L99.7 2236.9 L99.8 2237.1 L100.0 2237.3 L100.2 2237.4 L100.4 2237.6 L100.6 2237.8 L100.8 2238.0 L101.0 2238.2 L101.3 2238.4 L101.5 2238.6 L101.8 2238.8 L102.0 2238.9 L102.3 2239.1 L102.6 2239.3 L102.9 2239.5 L103.2 2239.7 L103.5 2239.9 L103.8 2240.1 L104.1 2240.2 L104.5 2240.4 L104.9 2240.6 L105.2 2240.8 L105.6 2241.0 L106.0 2241.2 L106.5 2241.3 L106.9 2241.5 L107.3 2241.7 L107.8 2241.9 L108.3 2242.1 L108.8 2242.3 L109.4 2242.4 L109.9 2242.6 L110.5 2242.8 L111.1 2243.0 L111.7 2243.2 L112.3 2243.4 L113.0 2243.5 L113.7 2243.7 L114.4 2243.9 L115.2 2244.1 L115.9 2244.3 L116.7 2244.5 L117.6 2244.6 L118.2 2244.8 L118.4 2244.8 L119.3 2245.0 L120.3 2245.2 L121.2 2245.4 L122.3 2245.6 L123.3 2245.8 L124.4 2245.9 L125.5 2246.1 L126.7 2246.3 L127.9 2246.5 L129.2 2246.7 L130.5 2246.9 L131.9 2247.1 L133.3 2247.3 L134.7 2247.4 L135.4 2247.5 L136.3 2247.6 L137.9 2247.8 L139.5 2248.0 L141.2 2248.2 L143.0 2248.4 L144.9 2248.6 L146.8 2248.8 L148.8 2249.0 L150.8 2249.2 L152.7 2249.3 L153.0 2249.4 L155.2 2249.6 L157.5 2249.8 L159.9 2250.0 L162.4 2250.1 L165.0 2250.3 L167.7 2250.5 L169.9 2250.7 L170.5 2250.7 L173.4 2250.9 L176.5 2251.2 L179.6 2251.4 L182.9 2251.6 L186.2 2251.8 L187.2 2251.8 L189.7 2252.0 L193.4 2252.2 L197.2 2252.4 L201.1 2252.6 L204.4 2252.8 L205.2 2252.8 L209.5 2253.0 L213.9 2253.2 L218.4 2253.4 L221.7 2253.6 L223.2 2253.6 L228.1 2253.9 L233.3 2254.1 L238.6 2254.3 L239.0 2254.3 L244.1 2254.5 L249.8 2254.7 L255.8 2255.0 L256.2 2255.0 L262.0 2255.2 L268.4 2255.4 L273.5 2255.6 L275.1 2255.6 L282.0 2255.8 L289.3 2256.1 L290.7 2256.1 L296.7 2256.3 L304.5 2256.5 L308.0 2256.6 L312.6 2256.8 L321.0 2257.0 L325.2 2257.1 L329.7 2257.2 L338.7 2257.5 L342.5 2257.6 L348.1 2257.7 L357.8 2257.9 L359.8 2258.0 L367.9 2258.2 L377.0 2258.4 L378.5 2258.4 L389.4 2258.7 L394.3 2258.8 L400.7 2258.9 L411.5 2259.1 L412.5 2259.1 L424.7 2259.4 L428.8 2259.5 L437.4 2259.6 L446.0 2259.8 L450.6 2259.9 L463.3 2260.1 L464.3 2260.1 L478.5 2260.4 L480.6 2260.4 L493.3 2260.7 L497.8 2260.7 L508.7 2260.9 L515.1 2261.0 L524.6 2261.2 L532.3 2261.3 L541.1 2261.4 L549.6 2261.6 L558.3 2261.7 L566.9 2261.8 L576.2 2262.0 L584.1 2262.1 L594.7 2262.2 L601.4 2262.3 L613.9 2262.5 L618.6 2262.5 L633.9 2262.8 L635.9 2262.8 L653.1 2263.0 L654.7 2263.0 L670.4 2263.2 L676.3 2263.3 L687.7 2263.4 L698.6 2263.6 L704.9 2263.6 L721.9 2263.8 L722.2 2263.8 L739.4 2264.0 L746.0 2264.1 L756.7 2264.2 L771.1 2264.4 L773.9 2264.4 L791.2 2264.6 L797.2 2264.7 L808.5 2264.8 L824.2 2265.0 L825.7 2265.0 L843.0 2265.2 L852.3 2265.3 L860.2 2265.3 L877.5 2265.5 L881.5 2265.5 L894.7 2265.7 L911.8 2265.8 L912.0 2265.8 L929.3 2266.0 L943.2 2266.1 L946.5 2266.2 L963.8 2266.3 L975.9 2266.4 L981.0 2266.5 L998.3 2266.6 L1009.8 2266.7 L1015.5 2266.8 L1032.8 2266.9 L1045.1 2267.0 L1050.1 2267.1 L1067.3 2267.2 L1081.7 2267.3 L1084.6 2267.3 L1101.8 2267.5 L1119.1 2267.6 L1119.7 2267.6 L1136.3 2267.7 L1153.6 2267.9 L1159.2 2267.9 L1170.9 2268.0 L1188.1 2268.1 L1200.2 2268.2 L1205.4 2268.3 L1222.6 2268.4 L1239.9 2268.5 L1242.7 2268.5 L1257.2 2268.6 L1274.4 2268.8 L1286.9 2268.8 L1291.7 2268.9 L1308.9 2269.0 L1326.2 2269.1 L1332.9 2269.2 L1343.4 2269.2 L1360.7 2269.3 L1378.0 2269.5 L1380.5 2269.5 L1395.2 2269.6 L1412.5 2269.7 L1429.7 2269.8 L1430.1 2269.8 L1447.0 2269.9 L1464.2 2270.0 L1481.5 2270.1" stroke="#b22222"/>
<path d="M95.8 2226.6 L95.8 2226.8 L95.9 2227.0 L95.9 2227.1 L95.9 2227.3 L96.0 2227.5 L96.0 2227.6 L96.0 2227.8 L96.1 2228.0 L96.1 2228.1 L96.1 2228.3 L96.2 2228.5 L96.2 2228.6 L96.3 2228.8 L96.3 2229.0 L96.4 2229.1 L96.4 2229.3 L96.5 2229.5 L96.5 2229.6 L96.6 2229.8 L96.6 2230.0 L96.7 2230.2 L96.8 2230.3 L96.8 2230.5 L96.9 2230.7 L97.0 2230.9 L97.1 2231.0 L97.1 2231.2 L97.2 2231.4 L97.3 2231.5 L97.4 2231.7 L97.5 2231.9 L97.6 2232.1 L97.7 2232.3 L97.8 2232.4 L97.9 2232.6 L98.0 2232.8 L98.1 2233.0 L98.2 2233.1 L98.3 2233.3 L98.5 2233.5 L98.6 2233.7 L98.7 2233.9 L98.9 2234.0 L99.0 2234.2 L99.2 2234.4 L99.3 2234.6 L99.5 2234.8 L99.7 2235.0 L99.8 2235.1 L100.0 2235.3 L100.2 2235.5 L100.4 2235.7 L100.6 2235.9 L100.8 2236.1 L101.0 2236.3 L101.3 2236.4 L101.5 2236.6 L101.8 2236.8 L102.0 2237.0 L102.3 2237.2 L102.6 2237.4 L102.9 2237.6 L103.2 2237.8 L103.5 2237.9 L103.8 2238.1 L104.1 2238.3 L104.5 2238.5 L104.9 2238.7 L105.2 2238.9 L105.6 2239.1 L106.0 2239.3 L106.5 2239.5 L106.9 2239.7 L107.3 2239.9 L107.8 2240.0 L108.3 2240.2 L108.8 2240.4 L109.4 2240.6 L109.9 2240.8 L110.5 2241.0 L111.1 2241.2 L111.7 2241.4 L112.3 2241.6 L113.0 2241.8 L113.7 2242.0 L114.4 2242.2 L115.2 2242.4 L115.9 2242.6 L116.7 2242.8 L117.6 2243.0 L118.2 2243.1 L118.4 2243.2 L119.3 2243.4 L120.3 2243.6 L121.2 2243.8 L122.3 2244.0 L123.3 2244.2 L124.4 2244.4 L125.5 2244.6 L126.7 2244.8 L127.9 2245.0 L129.2 2245.2 L130.5 2245.4 L131.9 2245.6 L133.3 2245.8 L134.7 2246.0 L135.4 2246.1 L136.3 2246.2 L137.9 2246.4 L139.5 2246.6 L141.2 2246.8 L143.0 2247.0 L144.9 2247.2 L146.8 2247.4 L148.8 2247.7 L150.8 2247.9 L152.7 2248.0 L153.0 2248.1 L155.2 2248.3 L157.5 2248.5 L159.9 2248.7 L162.4 2248.9 L165.0 2249.1 L167.7 2249.3 L169.9 2249.5 L170.5 2249.5 L173.4 2249.7 L176.5 2249.9 L179.6 2250.2 L182.9 2250.4 L186.2 2250.6 L187.2 2250.6 L189.7 2250.8 L193.4 2251.0 L197.2 2251.2 L201.1 2251.4 L204.4 2251.6 L205.2 2251.6 L209.5 2251.8 L213.9 2252.1 L218.4 2252.3 L221.7 2252.4 L223.2 2252.5 L228.1 2252.7 L233.3 2252.9 L238.6 2253.1 L239.0 2253.1 L244.1 2253.3 L249.8 2253.6 L255.8 2253.8 L256.2 2253.8 L262.0 2254.0 L268.4 2254.2 L273.5 2254.4 L275.1 2254.4 L282.0 2254.6 L289.3 2254.9 L290.7 2254.9 L296.7 2255.1 L304.5 2255.3 L308.0 2255.4 L312.6 2255.5 L321.0 2255.7 L325.2 2255.8 L329.7 2255.9 L338.7 2256.2 L342.5 2256.2 L348.1 2256.4 L357.8 2256.6 L359.8 2256.6 L367.9 2256.8 L377.0 2257.0 L378.5 2257.0 L389.4 2257.3 L394.3 2257.4 L400.7 2257.5 L411.5 2257.7 L412.5 2257.7 L424.7 2257.9 L428.8 2258.0 L437.4 2258.1 L446.0 2258.3 L450.6 2258.4 L463.3 2258.6 L464.3 2258.6 L478.5 2258.8 L480.6 2258.8 L493.3 2259.0 L497.8 2259.1 L508.7 2259.2 L515.1 2259.3 L524.6 2259.5 L532.3 2259.6 L541.1 2259.7 L549.6 2259.8 L558.3 2259.9 L566.9 2260.0 L576.2 2260.1 L584.1 2260.2 L594.7 2260.4 L601.4 2260.4 L613.9 2260.6 L618.6 2260.6 L633.9 2260.8 L635.9 2260.8 L653.1 2261.0 L654.7 2261.0 L670.4 2261.2 L676.3 2261.3 L687.7 2261.4 L698.6 2261.5 L704.9 2261.5 L721.9 2261.7 L722.2 2261.7 L739.4 2261.9 L746.0 2261.9 L756.7 2262.0 L771.1 2262.2 L773.9 2262.2 L791.2 2262.3 L797.2 2262.4 L808.5 2262.5 L824.2 2262.6 L825.7 2262.6 L843.0 2262.8 L852.3 2262.8 L860.2 2262.9 L877.5 2263.0 L881.5 2263.1 L894.7 2263.2 L911.8 2263.3 L912.0 2263.3 L929.3 2263.4 L943.2 2263.5 L946.5 2263.5 L963.8 2263.7 L975.9 2263.7 L981.0 2263.8 L998.3 2263.9 L1009.8 2264.0 L1015.5 2264.0 L1032.8 2264.1 L1045.1 2264.2 L1050.1 2264.2 L1067.3 2264.3 L1081.7 2264.4 L1084.6 2264.4 L1101.8 2264.6 L1119.1 2264.7 L1119.7 2264.7 L1136.3 2264.8 L1153.6 2264.9 L1159.2 2264.9 L1170.9 2265.0 L1188.1 2265.1 L1200.2 2265.1 L1205.4 2265.1 L1222.6 2265.2 L1239.9 2265.3 L1242.7 2265.3 L1257.2 2265.4 L1274.4 2265.5 L1286.9 2265.6 L1291.7 2265.6 L1308.9 2265.7 L1326.2 2265.8 L1332.9 2265.8 L1343.4 2265.9 L1360.7 2265.9 L1378.0 2266.0 L1380.5 2266.0 L1395.2 2266.1 L1412.5 2266.2 L1429.7 2266.3 L1430.1 2266.3 L1447.0 2266.3 L1464.2 2266.4 L1481.5 2266.5" stroke="#800000"/>
<path d="M95.8 2226.6 L95.8 2226.7 L95.9 2226.8 L95.9 2226.9 L95.9 2227.0 L96.0 2227.1 L96.0 2227.3 L96.0 2227.4 L96.1 2227.5 L96.1 2227.6 L96.1 2227.7 L96.2 2227.8 L96.2 2227.9 L96.3 2228.0 L96.3 2228.2 L96.4 2228.3 L96.4 2228.4 L96.5 2228.5 L96.5 2228.6 L96.6 2228.8 L96.6 2228.9 L96.7 2229.0 L96.8 2229.1 L96.8 2229.3 L96.9 2229.4 L97.0 2229.5 L97.1 2229.7 L97.1 2229.8 L97.2 2230.0 L97.3 2230.1 L97.4 2230.2 L97.5 2230.4 L97.6 2230.5 L97.7 2230.7 L97.8 2230.8 L97.9 2231.0 L98.0 2231.1 L98.1 2231.3 L98.2 2231.4 L98.3 2231.6 L98.5 2231.7 L98.6 2231.9 L98.7 2232.0 L98.9 2232.2 L99.0 2232.3 L99.2 2232.5 L99.3 2232.7 L99.5 2232.8 L99.7 2233.0 L99.8 2233.1 L100.0 2233.3 L100.2 2233.5 L100.4 2233.6 L100.6 2233.8 L100.8 2234.0 L101.0 2234.1 L101.3 2234.3 L101.5 2234.5 L101.8 2234.7 L102.0 2234.8 L102.3 2235.0 L102.6 2235.2 L102.9 2235.4 L103.2 2235.5 L103.5 2235.7 L103.8 2235.9 L104.1 2236.1 L104.5 2236.3 L104.9 2236.4 L105.2 2236.6 L105.6 2236.8 L106.0 2237.0 L106.5 2237.2 L106.9 2237.4 L107.3 2237.5 L107.8 2237.7 L108.3 2237.9 L108.8 2238.1 L109.4 2238.3 L109.9 2238.5 L110.5 2238.7 L111.1 2238.9 L111.7 2239.1 L112.3 2239.3 L113.0 2239.5 L113.7 2239.7 L114.4 2239.9 L115.2 2240.1 L115.9 2240.3 L116.7 2240.5 L117.6 2240.6 L118.2 2240.8 L118.4 2240.8 L119.3 2241.0 L120.3 2241.2 L121.2 2241.5 L122.3 2241.7 L123.3 2241.9 L124.4 2242.1 L125.5 2242.3 L126.7 2242.5 L127.9 2242.7 L129.2 2242.9 L130.5 2243.1 L131.9 2243.3 L133.3 2243.5 L134.7 2243.7 L135.4 2243.8 L136.3 2243.9 L137.9 2244.1 L139.5 2244.3 L141.2 2244.5 L143.0 2244.7 L144.9 2245.0 L146.8 2245.2 L148.8 2245.4 L150.8 2245.6 L152.7 2245.8 L153.0 2245.8 L155.2 2246.0 L157.5 2246.2 L159.9 2246.4 L162.4 2246.7 L165.0 2246.9 L167.7 2247.1 L169.9 2247.2 L170.5 2247.3 L173.4 2247.5 L176.5 2247.7 L179.6 2247.9 L182.9 2248.2 L186.2 2248.4 L187.2 2248.4 L189.7 2248.6 L193.4 2248.8 L197.2 2249.0 L201.1 2249.2 L204.4 2249.4 L205.2 2249.4 L209.5 2249.7 L213.9 2249.9 L218.4 2250.1 L221.7 2250.2 L223.2 2250.3 L228.1 2250.5 L233.3 2250.7 L238.6 2251.0 L239.0 2251.0 L244.1 2251.2 L249.8 2251.4 L255.8 2251.6 L256.2 2251.6 L262.0 2251.8 L268.4 2252.0 L273.5 2252.2 L275.1 2252.3 L282.0 2252.5 L289.3 2252.7 L290.7 2252.7 L296.7 2252.9 L304.5 2253.1 L308.0 2253.2 L312.6 2253.4 L321.0 2253.6 L325.2 2253.7 L329.7 2253.8 L338.7 2254.0 L342.5 2254.1 L348.1 2254.2 L357.8 2254.4 L359.8 2254.5 L367.9 2254.7 L377.0 2254.8 L378.5 2254.9 L389.4 2255.1 L394.3 2255.2 L400.7 2255.3 L411.5 2255.5 L412.5 2255.5 L424.7 2255.7 L428.8 2255.8 L437.4 2256.0 L446.0 2256.1 L450.6 2256.2 L463.3 2256.4 L464.3 2256.4 L478.5 2256.6 L480.6 2256.6 L493.3 2256.8 L497.8 2256.9 L508.7 2257.0 L515.1 2257.1 L524.6 2257.3 L532.3 2257.4 L541.1 2257.5 L549.6 2257.6 L558.3 2257.7 L566.9 2257.8 L576.2 2257.9 L584.1 2258.0 L594.7 2258.1 L601.4 2258.2 L613.9 2258.3 L618.6 2258.4 L633.9 2258.5 L635.9 2258.6 L653.1 2258.7 L654.7 2258.8 L670.4 2258.9 L676.3 2259.0 L687.7 2259.1 L698.6 2259.2 L704.9 2259.2 L721.9 2259.4 L722.2 2259.4 L739.4 2259.5 L746.0 2259.6 L756.7 2259.7 L771.1 2259.8 L773.9 2259.8 L791.2 2260.0 L797.2 2260.0 L808.5 2260.1 L824.2 2260.2 L825.7 2260.2 L843.0 2260.4 L852.3 2260.4 L860.2 2260.5 L877.5 2260.6 L881.5 2260.7 L894.7 2260.8 L911.8 2260.9 L912.0 2260.9 L929.3 2261.0 L943.2 2261.1 L946.5 2261.1 L963.8 2261.2 L975.9 2261.3 L981.0 2261.3 L998.3 2261.4 L1009.8 2261.5 L1015.5 2261.5 L1032.8 2261.6 L1045.1 2261.7 L1050.1 2261.7 L1067.3 2261.8 L1081.7 2261.9 L1084.6 2261.9 L1101.8 2262.0 L1119.1 2262.1 L1119.7 2262.1 L1136.3 2262.2 L1153.6 2262.3 L1159.2 2262.3 L1170.9 2262.4 L1188.1 2262.5 L1200.2 2262.5 L1205.4 2262.6 L1222.6 2262.6 L1239.9 2262.7 L1242.7 2262.7 L1257.2 2262.8 L1274.4 2262.9 L1286.9 2262.9 L1291.7 2263.0 L1308.9 2263.0 L1326.2 2263.1 L1332.9 2263.1 L1343.4 2263.2 L1360.7 2263.3 L1378.0 2263.3 L1380.5 2263.4 L1395.2 2263.4 L1412.5 2263.5 L1429.7 2263.6 L1430.1 2263.6 L1447.0 2263.6 L1464.2 2263.7 L1481.5 2263.8" stroke="#4d0000"/>
</g>
<g stroke="#4d4d4d" stroke-width="1.7" fill="none">
<rect x="95.05" y="1694.5" width="1386.45" height="723.10"/>
<path d="M95.05 2417.6 v-14 M95.05 1694.5 v14"/>
<path d="M326.12 2417.6 v-14 M326.12 1694.5 v14"/>
<path d="M557.20 2417.6 v-14 M557.20 1694.5 v14"/>
<path d="M788.27 2417.6 v-14 M788.27 1694.5 v14"/>
<path d="M1019.35 2417.6 v-14 M1019.35 1694.5 v14"/>
<path d="M1250.42 2417.6 v-14 M1250.42 1694.5 v14"/>
<path d="M1481.50 2417.6 v-14 M1481.50 1694.5 v14"/>
<path d="M95.05 2417.60 h14 M1481.5 2417.60 h-14"/>
<path d="M95.05 2327.21 h14 M1481.5 2327.21 h-14"/>
<path d="M95.05 2236.82 h14 M1481.5 2236.82 h-14"/>
<path d="M95.05 2146.44 h14 M1481.5 2146.44 h-14"/>
<path d="M95.05 2056.05 h14 M1481.5 2056.05 h-14"/>
<path d="M95.05 1965.66 h14 M1481.5 1965.66 h-14"/>
<path d="M95.05 1875.28 h14 M1481.5 1875.28 h-14"/>
<path d="M95.05 1784.89 h14 M1481.5 1784.89 h-14"/>
<path d="M95.05 1694.50 h14 M1481.5 1694.50 h-14"/>
</g>
<g font-family="'Liberation Sans', Arial, sans-serif" font-size="22.5" fill="#000">
<text transform="translate(95.05 2448.6) scale(1 1.06)" text-anchor="middle">0</text>
<text transform="translate(326.12 2448.6) scale(1 1.06)" text-anchor="middle">5</text>
<text transform="translate(557.20 2448.6) scale(1 1.06)" text-anchor="middle">10</text>
<text transform="translate(788.27 2448.6) scale(1 1.06)" text-anchor="middle">15</text>
<text transform="translate(1019.35 2448.6) scale(1 1.06)" text-anchor="middle">20</text>
<text transform="translate(1250.42 2448.6) scale(1 1.06)" text-anchor="middle">25</text>
<text transform="translate(1481.50 2448.6) scale(1 1.06)" text-anchor="middle">30</text>
<text transform="translate(85.0 2427.2) scale(1 1.06)" text-anchor="end">-0.04</text>
<text transform="translate(85.0 2336.8) scale(1 1.06)" text-anchor="end">-0.02</text>
<text transform="translate(85.0 2246.4) scale(1 1.06)" text-anchor="end">0</text>
<text transform="translate(85.0 2156.0) scale(1 1.06)" text-anchor="end">0.02</text>
<text transform="translate(85.0 2065.7) scale(1 1.06)" text-anchor="end">0.04</text>
<text transform="translate(85.0 1975.3) scale(1 1.06)" text-anchor="end">0.06</text>
<text transform="translate(85.0 1884.9) scale(1 1.06)" text-anchor="end">0.08</text>
<text transform="translate(85.0 1794.5) scale(1 1.06)" text-anchor="end">0.1</text>
<text transform="translate(85.0 1704.1) scale(1 1.06)" text-anchor="end">0.12</text>
</g>
<clipPath id="xlc"><rect x="0" y="0" width="1636" height="2462.6"/></clipPath>
<text x="788.3" y="2475.9" text-anchor="middle" font-family="'Liberation Sans', Arial, sans-serif" font-size="22.5" letter-spacing="0.3" clip-path="url(#xlc)">Degradation time/day</text>
<text transform="translate(22 2056.1) rotate(-90)" text-anchor="middle" font-family="'Liberation Sans', Arial, sans-serif" font-size="24">&#916;R</text>
<rect x="1488.1" y="1693.3" width="144.3" height="272.5" fill="#fff" stroke="#4d4d4d" stroke-width="1.4"/>
<g font-family="'Liberation Sans', Arial, sans-serif" font-size="22.5">
<circle cx="1519.4" cy="1709.1" r="3.5" fill="#000080"/>
<text transform="translate(1550.2 1717.8) scale(1 1.06)">424 nm</text>
<circle cx="1519.4" cy="1735.9" r="3.5" fill="#0000ff"/>
<text transform="translate(1550.2 1744.6) scale(1 1.06)">444 nm</text>
<circle cx="1519.4" cy="1762.7" r="3.5" fill="#7fffd4"/>
<text transform="translate(1550.2 1771.4) scale(1 1.06)">497 nm</text>
<circle cx="1519.4" cy="1789.6" r="3.5" fill="#00ff00"/>
<text transform="translate(1550.2 1798.3) scale(1 1.06)">549 nm</text>
<circle cx="1519.4" cy="1816.4" r="3.5" fill="#ff8c00"/>
<text transform="translate(1550.2 1825.1) scale(1 1.06)">601 nm</text>
<circle cx="1519.4" cy="1843.2" r="3.5" fill="#ff0000"/>
<text transform="translate(1550.2 1851.9) scale(1 1.06)">654 nm</text>
<circle cx="1519.4" cy="1870.0" r="3.5" fill="#dc143c"/>
<text transform="translate(1550.2 1878.7) scale(1 1.06)">706 nm</text>
<circle cx="1519.4" cy="1896.8" r="3.5" fill="#b22222"/>
<text transform="translate(1550.2 1905.5) scale(1 1.06)">758 nm</text>
<circle cx="1519.4" cy="1923.7" r="3.5" fill="#800000"/>
<text transform="translate(1550.2 1932.4) scale(1 1.06)">811 nm</text>
<circle cx="1519.4" cy="1950.5" r="3.5" fill="#4d0000"/>
<text transform="translate(1550.2 1959.2) scale(1 1.06)">853 nm</text>
</g>
<text x="1597" y="2476" font-family="'Liberation Sans', Arial, sans-serif" font-size="50" font-weight="bold">c</text>
</svg></body></html>
